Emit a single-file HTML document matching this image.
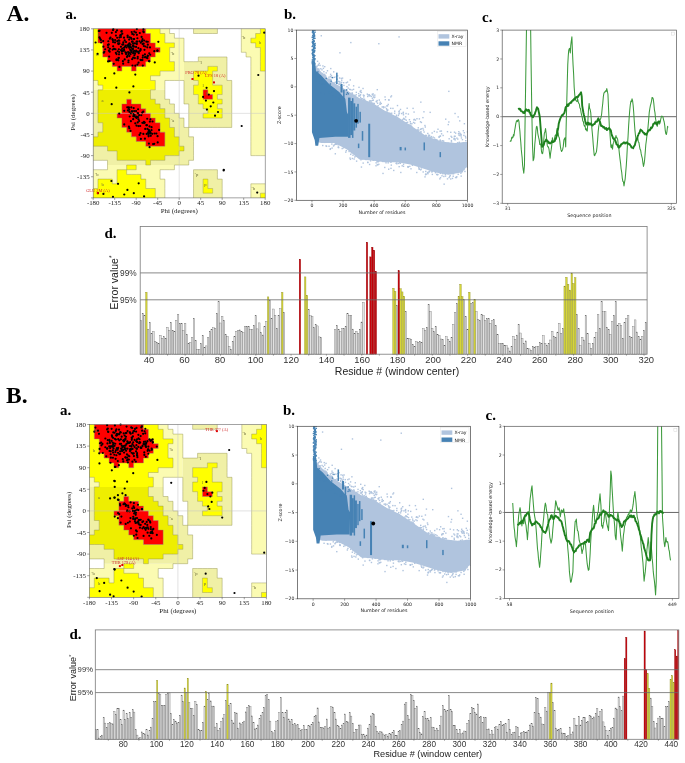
<!DOCTYPE html>
<html><head><meta charset="utf-8"><title>Figure</title>
<style>html,body{margin:0;padding:0;background:#fff;}svg{display:block;}</style>
</head><body>
<svg width="685" height="763" viewBox="0 0 685 763">
<rect width="685" height="763" fill="#fff"/>
<text x="6.5" y="21" font-family="'Liberation Serif', 'DejaVu Serif', serif" font-size="23.5" fill="#000" text-anchor="start" font-weight="bold" >A.</text>
<text x="6" y="402.8" font-family="'Liberation Serif', 'DejaVu Serif', serif" font-size="23.5" fill="#000" text-anchor="start" font-weight="bold" >B.</text>
<text x="65.5" y="19.3" font-family="'Liberation Serif', 'DejaVu Serif', serif" font-size="15" fill="#000" text-anchor="start" font-weight="bold" >a.</text>
<text x="284" y="19.3" font-family="'Liberation Serif', 'DejaVu Serif', serif" font-size="15" fill="#000" text-anchor="start" font-weight="bold" >b.</text>
<text x="482" y="22.3" font-family="'Liberation Serif', 'DejaVu Serif', serif" font-size="15" fill="#000" text-anchor="start" font-weight="bold" >c.</text>
<text x="104.5" y="238" font-family="'Liberation Serif', 'DejaVu Serif', serif" font-size="15" fill="#000" text-anchor="start" font-weight="bold" >d.</text>
<text x="60" y="414.5" font-family="'Liberation Serif', 'DejaVu Serif', serif" font-size="15" fill="#000" text-anchor="start" font-weight="bold" >a.</text>
<text x="283" y="414.5" font-family="'Liberation Serif', 'DejaVu Serif', serif" font-size="15" fill="#000" text-anchor="start" font-weight="bold" >b.</text>
<text x="485.5" y="419.5" font-family="'Liberation Serif', 'DejaVu Serif', serif" font-size="15" fill="#000" text-anchor="start" font-weight="bold" >c.</text>
<text x="69.5" y="639" font-family="'Liberation Serif', 'DejaVu Serif', serif" font-size="15" fill="#000" text-anchor="start" font-weight="bold" >d.</text>
<path d="M160.09 28.8H169.64V33.5H160.09ZM241.31 28.8H260.42V33.5H241.31ZM164.87 33.5H174.42V38.19H164.87ZM241.31 33.5H255.64V38.19H241.31ZM164.87 38.19H183.98V42.89H164.87ZM241.31 38.19H250.87V42.89H241.31ZM174.42 42.89H183.98V47.59H174.42ZM241.31 42.89H255.64V47.59H241.31ZM169.64 47.59H183.98V52.29H169.64ZM241.31 47.59H260.42V52.29H241.31ZM169.64 52.29H183.98V56.98H169.64ZM246.09 52.29H260.42V56.98H246.09ZM169.64 56.98H183.98V61.68H169.64ZM250.87 56.98H260.42V61.68H250.87ZM174.42 61.68H183.98V66.38H174.42ZM250.87 61.68H260.42V66.38H250.87ZM174.42 66.38H183.98V71.08H174.42ZM250.87 66.38H260.42V71.08H250.87ZM160.09 71.08H183.98V75.77H160.09ZM250.87 71.08H265.2V75.77H250.87ZM150.53 75.77H183.98V80.47H150.53ZM250.87 75.77H265.2V80.47H250.87ZM93.2 80.47H97.98V85.17H93.2ZM155.31 80.47H164.87V85.17H155.31ZM250.87 80.47H265.2V85.17H250.87ZM93.2 85.17H102.76V89.86H93.2ZM155.31 85.17H164.87V89.86H155.31ZM250.87 85.17H265.2V89.86H250.87ZM250.87 89.86H265.2V94.56H250.87ZM250.87 94.56H265.2V99.26H250.87ZM250.87 99.26H265.2V103.96H250.87ZM250.87 103.96H265.2V108.65H250.87ZM250.87 108.65H265.2V113.35H250.87ZM250.87 113.35H265.2V118.05H250.87ZM250.87 118.05H265.2V122.74H250.87ZM250.87 122.74H265.2V127.44H250.87ZM250.87 127.44H265.2V132.14H250.87ZM250.87 132.14H265.2V136.84H250.87ZM250.87 136.84H265.2V141.53H250.87ZM250.87 141.53H265.2V146.23H250.87ZM250.87 146.23H265.2V150.93H250.87ZM250.87 150.93H265.2V155.62H250.87ZM107.53 165.02H126.64V169.72H107.53ZM136.2 165.02H174.42V169.72H136.2ZM93.2 169.72H117.09V174.41H93.2ZM126.64 169.72H160.09V174.41H126.64ZM93.2 174.41H117.09V179.11H93.2ZM140.98 174.41H160.09V179.11H140.98ZM93.2 179.11H97.98V183.81H93.2ZM112.31 179.11H117.09V183.81H112.31ZM145.76 179.11H164.87V183.81H145.76ZM93.2 183.81H97.98V188.51H93.2ZM145.76 183.81H164.87V188.51H145.76ZM250.87 183.81H265.2V188.51H250.87ZM155.31 188.51H164.87V193.2H155.31ZM250.87 188.51H265.2V193.2H250.87ZM155.31 193.2H164.87V197.9H155.31ZM250.87 193.2H260.42V197.9H250.87Z" fill="#fbfbb2"/>
<path d="M193.53 28.8H217.42V33.5H193.53ZM198.31 56.98H226.98V61.68H198.31ZM183.98 61.68H226.98V66.38H183.98ZM183.98 66.38H207.87V71.08H183.98ZM217.42 66.38H226.98V71.08H217.42ZM183.98 71.08H193.53V75.77H183.98ZM212.64 71.08H226.98V75.77H212.64ZM183.98 75.77H193.53V80.47H183.98ZM212.64 75.77H226.98V80.47H212.64ZM183.98 80.47H198.31V85.17H183.98ZM212.64 80.47H231.76V85.17H212.64ZM183.98 85.17H193.53V89.86H183.98ZM222.2 85.17H231.76V89.86H222.2ZM93.2 89.86H97.98V94.56H93.2ZM150.53 89.86H164.87V94.56H150.53ZM183.98 89.86H193.53V94.56H183.98ZM222.2 89.86H231.76V94.56H222.2ZM93.2 94.56H97.98V99.26H93.2ZM150.53 94.56H164.87V99.26H150.53ZM183.98 94.56H198.31V99.26H183.98ZM217.42 94.56H231.76V99.26H217.42ZM93.2 99.26H97.98V103.96H93.2ZM155.31 99.26H169.64V103.96H155.31ZM183.98 99.26H198.31V103.96H183.98ZM222.2 99.26H231.76V103.96H222.2ZM93.2 103.96H97.98V108.65H93.2ZM160.09 103.96H174.42V108.65H160.09ZM188.76 103.96H203.09V108.65H188.76ZM217.42 103.96H231.76V108.65H217.42ZM93.2 108.65H97.98V113.35H93.2ZM164.87 108.65H174.42V113.35H164.87ZM188.76 108.65H207.87V113.35H188.76ZM222.2 108.65H231.76V113.35H222.2ZM93.2 113.35H97.98V118.05H93.2ZM164.87 113.35H179.2V118.05H164.87ZM188.76 113.35H203.09V118.05H188.76ZM222.2 113.35H231.76V118.05H222.2ZM93.2 118.05H97.98V122.74H93.2ZM169.64 118.05H183.98V122.74H169.64ZM188.76 118.05H231.76V122.74H188.76ZM93.2 122.74H102.76V127.44H93.2ZM169.64 122.74H183.98V127.44H169.64ZM188.76 122.74H231.76V127.44H188.76ZM93.2 127.44H102.76V132.14H93.2ZM174.42 127.44H188.76V132.14H174.42ZM93.2 132.14H97.98V136.84H93.2ZM174.42 132.14H188.76V136.84H174.42ZM179.2 136.84H193.53V141.53H179.2ZM179.2 141.53H193.53V146.23H179.2ZM93.2 146.23H107.53V150.93H93.2ZM183.98 146.23H193.53V150.93H183.98ZM93.2 150.93H117.09V155.62H93.2ZM179.2 150.93H193.53V155.62H179.2ZM93.2 155.62H117.09V160.32H93.2ZM164.87 155.62H193.53V160.32H164.87ZM107.53 160.32H145.76V165.02H107.53ZM150.53 160.32H188.76V165.02H150.53ZM193.53 169.72H217.42V174.41H193.53ZM193.53 174.41H217.42V179.11H193.53ZM193.53 179.11H203.09V183.81H193.53ZM207.87 179.11H222.2V183.81H207.87ZM193.53 183.81H203.09V188.51H193.53ZM207.87 183.81H222.2V188.51H207.87ZM193.53 188.51H203.09V193.2H193.53ZM212.64 188.51H222.2V193.2H212.64ZM193.53 193.2H222.2V197.9H193.53Z" fill="#f0f0a6"/>
<path d="M93.2 28.8H97.98V33.5H93.2ZM145.76 28.8H160.09V33.5H145.76ZM260.42 28.8H265.2V33.5H260.42ZM93.2 33.5H97.98V38.19H93.2ZM150.53 33.5H164.87V38.19H150.53ZM255.64 33.5H265.2V38.19H255.64ZM93.2 38.19H97.98V42.89H93.2ZM150.53 38.19H164.87V42.89H150.53ZM250.87 38.19H265.2V42.89H250.87ZM93.2 42.89H102.76V47.59H93.2ZM155.31 42.89H174.42V47.59H155.31ZM255.64 42.89H265.2V47.59H255.64ZM93.2 47.59H102.76V52.29H93.2ZM160.09 47.59H169.64V52.29H160.09ZM260.42 47.59H265.2V52.29H260.42ZM93.2 52.29H102.76V56.98H93.2ZM155.31 52.29H169.64V56.98H155.31ZM260.42 52.29H265.2V56.98H260.42ZM93.2 56.98H107.53V61.68H93.2ZM150.53 56.98H169.64V61.68H150.53ZM260.42 56.98H265.2V61.68H260.42ZM93.2 61.68H112.31V66.38H93.2ZM145.76 61.68H174.42V66.38H145.76ZM260.42 61.68H265.2V66.38H260.42ZM93.2 66.38H117.09V71.08H93.2ZM121.87 66.38H131.42V71.08H121.87ZM136.2 66.38H174.42V71.08H136.2ZM207.87 66.38H217.42V71.08H207.87ZM260.42 66.38H265.2V71.08H260.42ZM93.2 71.08H160.09V75.77H93.2ZM193.53 71.08H212.64V75.77H193.53ZM93.2 75.77H150.53V80.47H93.2ZM193.53 75.77H212.64V80.47H193.53ZM97.98 80.47H155.31V85.17H97.98ZM198.31 80.47H212.64V85.17H198.31ZM102.76 85.17H155.31V89.86H102.76ZM193.53 85.17H222.2V89.86H193.53ZM193.53 89.86H203.09V94.56H193.53ZM207.87 89.86H222.2V94.56H207.87ZM198.31 94.56H203.09V99.26H198.31ZM212.64 94.56H217.42V99.26H212.64ZM198.31 99.26H222.2V103.96H198.31ZM203.09 103.96H217.42V108.65H203.09ZM207.87 108.65H222.2V113.35H207.87ZM203.09 113.35H222.2V118.05H203.09ZM126.64 165.02H136.2V169.72H126.64ZM117.09 169.72H126.64V174.41H117.09ZM117.09 174.41H140.98V179.11H117.09ZM97.98 179.11H112.31V183.81H97.98ZM117.09 179.11H145.76V183.81H117.09ZM203.09 179.11H207.87V183.81H203.09ZM97.98 183.81H145.76V188.51H97.98ZM203.09 183.81H207.87V188.51H203.09ZM93.2 188.51H155.31V193.2H93.2ZM203.09 188.51H212.64V193.2H203.09ZM93.2 193.2H155.31V197.9H93.2ZM260.42 193.2H265.2V197.9H260.42Z" fill="#ffff00"/>
<path d="M97.98 89.86H150.53V94.56H97.98ZM97.98 94.56H150.53V99.26H97.98ZM97.98 99.26H126.64V103.96H97.98ZM131.42 99.26H155.31V103.96H131.42ZM97.98 103.96H121.87V108.65H97.98ZM140.98 103.96H160.09V108.65H140.98ZM97.98 108.65H121.87V113.35H97.98ZM145.76 108.65H164.87V113.35H145.76ZM97.98 113.35H117.09V118.05H97.98ZM150.53 113.35H164.87V118.05H150.53ZM97.98 118.05H121.87V122.74H97.98ZM155.31 118.05H169.64V122.74H155.31ZM102.76 122.74H121.87V127.44H102.76ZM160.09 122.74H169.64V127.44H160.09ZM102.76 127.44H126.64V132.14H102.76ZM160.09 127.44H174.42V132.14H160.09ZM97.98 132.14H131.42V136.84H97.98ZM164.87 132.14H174.42V136.84H164.87ZM93.2 136.84H136.2V141.53H93.2ZM164.87 136.84H179.2V141.53H164.87ZM93.2 141.53H145.76V146.23H93.2ZM164.87 141.53H179.2V146.23H164.87ZM107.53 146.23H183.98V150.93H107.53ZM117.09 150.93H179.2V155.62H117.09ZM117.09 155.62H164.87V160.32H117.09ZM145.76 160.32H150.53V165.02H145.76Z" fill="#eeee00"/>
<path d="M97.98 28.8H145.76V33.5H97.98ZM97.98 33.5H150.53V38.19H97.98ZM97.98 38.19H150.53V42.89H97.98ZM102.76 42.89H155.31V47.59H102.76ZM102.76 47.59H160.09V52.29H102.76ZM102.76 52.29H155.31V56.98H102.76ZM107.53 56.98H150.53V61.68H107.53ZM112.31 61.68H145.76V66.38H112.31ZM117.09 66.38H121.87V71.08H117.09ZM131.42 66.38H136.2V71.08H131.42ZM203.09 89.86H207.87V94.56H203.09ZM203.09 94.56H212.64V99.26H203.09ZM126.64 99.26H131.42V103.96H126.64ZM121.87 103.96H140.98V108.65H121.87ZM121.87 108.65H145.76V113.35H121.87ZM117.09 113.35H150.53V118.05H117.09ZM121.87 118.05H155.31V122.74H121.87ZM121.87 122.74H160.09V127.44H121.87ZM126.64 127.44H160.09V132.14H126.64ZM131.42 132.14H164.87V136.84H131.42ZM136.2 136.84H164.87V141.53H136.2ZM145.76 141.53H164.87V146.23H145.76Z" fill="#ff0000"/>
<path d="M97.98 28.8L97.98 33.5M145.76 28.8L145.76 33.5M145.76 33.5L150.53 33.5M160.09 28.8L160.09 33.5M160.09 33.5L164.87 33.5M169.64 28.8L169.64 33.5M169.64 33.5L174.42 33.5M193.53 28.8L193.53 33.5M193.53 33.5L198.31 33.5M198.31 33.5L203.09 33.5M203.09 33.5L207.87 33.5M207.87 33.5L212.64 33.5M217.42 28.8L217.42 33.5M212.64 33.5L217.42 33.5M241.31 28.8L241.31 33.5M260.42 28.8L260.42 33.5M255.64 33.5L260.42 33.5M97.98 33.5L97.98 38.19M150.53 33.5L150.53 38.19M164.87 33.5L164.87 38.19M174.42 33.5L174.42 38.19M174.42 38.19L179.2 38.19M179.2 38.19L183.98 38.19M241.31 33.5L241.31 38.19M255.64 33.5L255.64 38.19M250.87 38.19L255.64 38.19M97.98 38.19L97.98 42.89M97.98 42.89L102.76 42.89M150.53 38.19L150.53 42.89M150.53 42.89L155.31 42.89M164.87 38.19L164.87 42.89M164.87 42.89L169.64 42.89M169.64 42.89L174.42 42.89M183.98 38.19L183.98 42.89M241.31 38.19L241.31 42.89M250.87 38.19L250.87 42.89M250.87 42.89L255.64 42.89M102.76 42.89L102.76 47.59M155.31 42.89L155.31 47.59M155.31 47.59L160.09 47.59M174.42 42.89L174.42 47.59M169.64 47.59L174.42 47.59M183.98 42.89L183.98 47.59M241.31 42.89L241.31 47.59M255.64 42.89L255.64 47.59M255.64 47.59L260.42 47.59M102.76 47.59L102.76 52.29M160.09 47.59L160.09 52.29M155.31 52.29L160.09 52.29M169.64 47.59L169.64 52.29M183.98 47.59L183.98 52.29M241.31 47.59L241.31 52.29M241.31 52.29L246.09 52.29M260.42 47.59L260.42 52.29M102.76 52.29L102.76 56.98M102.76 56.98L107.53 56.98M155.31 52.29L155.31 56.98M150.53 56.98L155.31 56.98M169.64 52.29L169.64 56.98M183.98 52.29L183.98 56.98M198.31 56.98L203.09 56.98M203.09 56.98L207.87 56.98M207.87 56.98L212.64 56.98M212.64 56.98L217.42 56.98M217.42 56.98L222.2 56.98M222.2 56.98L226.98 56.98M246.09 52.29L246.09 56.98M246.09 56.98L250.87 56.98M260.42 52.29L260.42 56.98M107.53 56.98L107.53 61.68M107.53 61.68L112.31 61.68M150.53 56.98L150.53 61.68M145.76 61.68L150.53 61.68M169.64 56.98L169.64 61.68M169.64 61.68L174.42 61.68M183.98 56.98L183.98 61.68M183.98 61.68L188.76 61.68M188.76 61.68L193.53 61.68M198.31 56.98L198.31 61.68M193.53 61.68L198.31 61.68M226.98 56.98L226.98 61.68M250.87 56.98L250.87 61.68M260.42 56.98L260.42 61.68M112.31 61.68L112.31 66.38M112.31 66.38L117.09 66.38M121.87 66.38L126.64 66.38M126.64 66.38L131.42 66.38M136.2 66.38L140.98 66.38M145.76 61.68L145.76 66.38M140.98 66.38L145.76 66.38M174.42 61.68L174.42 66.38M207.87 66.38L212.64 66.38M212.64 66.38L217.42 66.38M226.98 61.68L226.98 66.38M250.87 61.68L250.87 66.38M260.42 61.68L260.42 66.38M117.09 66.38L117.09 71.08M121.87 66.38L121.87 71.08M117.09 71.08L121.87 71.08M131.42 66.38L131.42 71.08M136.2 66.38L136.2 71.08M131.42 71.08L136.2 71.08M160.09 71.08L164.87 71.08M164.87 71.08L169.64 71.08M174.42 66.38L174.42 71.08M169.64 71.08L174.42 71.08M193.53 71.08L198.31 71.08M198.31 71.08L203.09 71.08M207.87 66.38L207.87 71.08M203.09 71.08L207.87 71.08M217.42 66.38L217.42 71.08M212.64 71.08L217.42 71.08M226.98 66.38L226.98 71.08M250.87 66.38L250.87 71.08M260.42 66.38L260.42 71.08M260.42 71.08L265.2 71.08M150.53 75.77L155.31 75.77M160.09 71.08L160.09 75.77M155.31 75.77L160.09 75.77M193.53 71.08L193.53 75.77M212.64 71.08L212.64 75.77M226.98 71.08L226.98 75.77M250.87 71.08L250.87 75.77M93.2 80.47L97.98 80.47M150.53 75.77L150.53 80.47M150.53 80.47L155.31 80.47M164.87 80.47L169.64 80.47M169.64 80.47L174.42 80.47M174.42 80.47L179.2 80.47M179.2 80.47L183.98 80.47M193.53 75.77L193.53 80.47M193.53 80.47L198.31 80.47M212.64 75.77L212.64 80.47M226.98 75.77L226.98 80.47M226.98 80.47L231.76 80.47M250.87 75.77L250.87 80.47M97.98 80.47L97.98 85.17M97.98 85.17L102.76 85.17M155.31 80.47L155.31 85.17M164.87 80.47L164.87 85.17M183.98 80.47L183.98 85.17M198.31 80.47L198.31 85.17M193.53 85.17L198.31 85.17M212.64 80.47L212.64 85.17M212.64 85.17L217.42 85.17M217.42 85.17L222.2 85.17M231.76 80.47L231.76 85.17M250.87 80.47L250.87 85.17M102.76 85.17L102.76 89.86M97.98 89.86L102.76 89.86M155.31 85.17L155.31 89.86M150.53 89.86L155.31 89.86M164.87 85.17L164.87 89.86M183.98 85.17L183.98 89.86M193.53 85.17L193.53 89.86M203.09 89.86L207.87 89.86M222.2 85.17L222.2 89.86M231.76 85.17L231.76 89.86M250.87 85.17L250.87 89.86M97.98 89.86L97.98 94.56M150.53 89.86L150.53 94.56M164.87 89.86L164.87 94.56M183.98 89.86L183.98 94.56M193.53 89.86L193.53 94.56M193.53 94.56L198.31 94.56M203.09 89.86L203.09 94.56M207.87 89.86L207.87 94.56M207.87 94.56L212.64 94.56M222.2 89.86L222.2 94.56M217.42 94.56L222.2 94.56M231.76 89.86L231.76 94.56M250.87 89.86L250.87 94.56M97.98 94.56L97.98 99.26M126.64 99.26L131.42 99.26M150.53 94.56L150.53 99.26M150.53 99.26L155.31 99.26M164.87 94.56L164.87 99.26M164.87 99.26L169.64 99.26M183.98 94.56L183.98 99.26M198.31 94.56L198.31 99.26M203.09 94.56L203.09 99.26M203.09 99.26L207.87 99.26M212.64 94.56L212.64 99.26M207.87 99.26L212.64 99.26M217.42 94.56L217.42 99.26M217.42 99.26L222.2 99.26M231.76 94.56L231.76 99.26M250.87 94.56L250.87 99.26M97.98 99.26L97.98 103.96M126.64 99.26L126.64 103.96M121.87 103.96L126.64 103.96M131.42 99.26L131.42 103.96M131.42 103.96L136.2 103.96M136.2 103.96L140.98 103.96M155.31 99.26L155.31 103.96M155.31 103.96L160.09 103.96M169.64 99.26L169.64 103.96M169.64 103.96L174.42 103.96M183.98 99.26L183.98 103.96M183.98 103.96L188.76 103.96M198.31 99.26L198.31 103.96M198.31 103.96L203.09 103.96M222.2 99.26L222.2 103.96M217.42 103.96L222.2 103.96M231.76 99.26L231.76 103.96M250.87 99.26L250.87 103.96M97.98 103.96L97.98 108.65M121.87 103.96L121.87 108.65M140.98 103.96L140.98 108.65M140.98 108.65L145.76 108.65M160.09 103.96L160.09 108.65M160.09 108.65L164.87 108.65M174.42 103.96L174.42 108.65M188.76 103.96L188.76 108.65M203.09 103.96L203.09 108.65M203.09 108.65L207.87 108.65M217.42 103.96L217.42 108.65M217.42 108.65L222.2 108.65M231.76 103.96L231.76 108.65M250.87 103.96L250.87 108.65M97.98 108.65L97.98 113.35M121.87 108.65L121.87 113.35M117.09 113.35L121.87 113.35M145.76 108.65L145.76 113.35M145.76 113.35L150.53 113.35M164.87 108.65L164.87 113.35M174.42 108.65L174.42 113.35M174.42 113.35L179.2 113.35M188.76 108.65L188.76 113.35M207.87 108.65L207.87 113.35M203.09 113.35L207.87 113.35M222.2 108.65L222.2 113.35M231.76 108.65L231.76 113.35M250.87 108.65L250.87 113.35M97.98 113.35L97.98 118.05M117.09 113.35L117.09 118.05M117.09 118.05L121.87 118.05M150.53 113.35L150.53 118.05M150.53 118.05L155.31 118.05M164.87 113.35L164.87 118.05M164.87 118.05L169.64 118.05M179.2 113.35L179.2 118.05M179.2 118.05L183.98 118.05M188.76 113.35L188.76 118.05M203.09 113.35L203.09 118.05M203.09 118.05L207.87 118.05M207.87 118.05L212.64 118.05M212.64 118.05L217.42 118.05M222.2 113.35L222.2 118.05M217.42 118.05L222.2 118.05M231.76 113.35L231.76 118.05M250.87 113.35L250.87 118.05M97.98 118.05L97.98 122.74M97.98 122.74L102.76 122.74M121.87 118.05L121.87 122.74M155.31 118.05L155.31 122.74M155.31 122.74L160.09 122.74M169.64 118.05L169.64 122.74M183.98 118.05L183.98 122.74M188.76 118.05L188.76 122.74M231.76 118.05L231.76 122.74M250.87 118.05L250.87 122.74M102.76 122.74L102.76 127.44M121.87 122.74L121.87 127.44M121.87 127.44L126.64 127.44M160.09 122.74L160.09 127.44M169.64 122.74L169.64 127.44M169.64 127.44L174.42 127.44M183.98 122.74L183.98 127.44M188.76 122.74L188.76 127.44M183.98 127.44L188.76 127.44M188.76 127.44L193.53 127.44M193.53 127.44L198.31 127.44M198.31 127.44L203.09 127.44M203.09 127.44L207.87 127.44M207.87 127.44L212.64 127.44M212.64 127.44L217.42 127.44M217.42 127.44L222.2 127.44M222.2 127.44L226.98 127.44M231.76 122.74L231.76 127.44M226.98 127.44L231.76 127.44M250.87 122.74L250.87 127.44M102.76 127.44L102.76 132.14M97.98 132.14L102.76 132.14M126.64 127.44L126.64 132.14M126.64 132.14L131.42 132.14M160.09 127.44L160.09 132.14M160.09 132.14L164.87 132.14M174.42 127.44L174.42 132.14M188.76 127.44L188.76 132.14M250.87 127.44L250.87 132.14M97.98 132.14L97.98 136.84M93.2 136.84L97.98 136.84M131.42 132.14L131.42 136.84M131.42 136.84L136.2 136.84M164.87 132.14L164.87 136.84M174.42 132.14L174.42 136.84M174.42 136.84L179.2 136.84M188.76 132.14L188.76 136.84M188.76 136.84L193.53 136.84M250.87 132.14L250.87 136.84M136.2 136.84L136.2 141.53M136.2 141.53L140.98 141.53M140.98 141.53L145.76 141.53M164.87 136.84L164.87 141.53M179.2 136.84L179.2 141.53M193.53 136.84L193.53 141.53M250.87 136.84L250.87 141.53M93.2 146.23L97.98 146.23M97.98 146.23L102.76 146.23M102.76 146.23L107.53 146.23M145.76 141.53L145.76 146.23M145.76 146.23L150.53 146.23M150.53 146.23L155.31 146.23M155.31 146.23L160.09 146.23M164.87 141.53L164.87 146.23M160.09 146.23L164.87 146.23M179.2 141.53L179.2 146.23M179.2 146.23L183.98 146.23M193.53 141.53L193.53 146.23M250.87 141.53L250.87 146.23M107.53 146.23L107.53 150.93M107.53 150.93L112.31 150.93M112.31 150.93L117.09 150.93M183.98 146.23L183.98 150.93M179.2 150.93L183.98 150.93M193.53 146.23L193.53 150.93M250.87 146.23L250.87 150.93M117.09 150.93L117.09 155.62M164.87 155.62L169.64 155.62M169.64 155.62L174.42 155.62M179.2 150.93L179.2 155.62M174.42 155.62L179.2 155.62M193.53 150.93L193.53 155.62M250.87 150.93L250.87 155.62M250.87 155.62L255.64 155.62M255.64 155.62L260.42 155.62M260.42 155.62L265.2 155.62M93.2 160.32L97.98 160.32M97.98 160.32L102.76 160.32M102.76 160.32L107.53 160.32M117.09 155.62L117.09 160.32M117.09 160.32L121.87 160.32M121.87 160.32L126.64 160.32M126.64 160.32L131.42 160.32M131.42 160.32L136.2 160.32M136.2 160.32L140.98 160.32M140.98 160.32L145.76 160.32M150.53 160.32L155.31 160.32M155.31 160.32L160.09 160.32M164.87 155.62L164.87 160.32M160.09 160.32L164.87 160.32M193.53 155.62L193.53 160.32M188.76 160.32L193.53 160.32M107.53 160.32L107.53 165.02M126.64 165.02L131.42 165.02M131.42 165.02L136.2 165.02M145.76 160.32L145.76 165.02M150.53 160.32L150.53 165.02M145.76 165.02L150.53 165.02M174.42 165.02L179.2 165.02M179.2 165.02L183.98 165.02M188.76 160.32L188.76 165.02M183.98 165.02L188.76 165.02M93.2 169.72L97.98 169.72M97.98 169.72L102.76 169.72M107.53 165.02L107.53 169.72M102.76 169.72L107.53 169.72M117.09 169.72L121.87 169.72M126.64 165.02L126.64 169.72M121.87 169.72L126.64 169.72M126.64 169.72L131.42 169.72M136.2 165.02L136.2 169.72M131.42 169.72L136.2 169.72M160.09 169.72L164.87 169.72M164.87 169.72L169.64 169.72M174.42 165.02L174.42 169.72M169.64 169.72L174.42 169.72M193.53 169.72L198.31 169.72M198.31 169.72L203.09 169.72M203.09 169.72L207.87 169.72M207.87 169.72L212.64 169.72M212.64 169.72L217.42 169.72M117.09 169.72L117.09 174.41M126.64 169.72L126.64 174.41M126.64 174.41L131.42 174.41M131.42 174.41L136.2 174.41M136.2 174.41L140.98 174.41M160.09 169.72L160.09 174.41M193.53 169.72L193.53 174.41M217.42 169.72L217.42 174.41M97.98 179.11L102.76 179.11M102.76 179.11L107.53 179.11M107.53 179.11L112.31 179.11M117.09 174.41L117.09 179.11M140.98 174.41L140.98 179.11M140.98 179.11L145.76 179.11M160.09 174.41L160.09 179.11M160.09 179.11L164.87 179.11M193.53 174.41L193.53 179.11M203.09 179.11L207.87 179.11M217.42 174.41L217.42 179.11M217.42 179.11L222.2 179.11M97.98 179.11L97.98 183.81M112.31 179.11L112.31 183.81M117.09 179.11L117.09 183.81M112.31 183.81L117.09 183.81M145.76 179.11L145.76 183.81M164.87 179.11L164.87 183.81M193.53 179.11L193.53 183.81M203.09 179.11L203.09 183.81M207.87 179.11L207.87 183.81M222.2 179.11L222.2 183.81M250.87 183.81L255.64 183.81M255.64 183.81L260.42 183.81M260.42 183.81L265.2 183.81M97.98 183.81L97.98 188.51M93.2 188.51L97.98 188.51M145.76 183.81L145.76 188.51M145.76 188.51L150.53 188.51M150.53 188.51L155.31 188.51M164.87 183.81L164.87 188.51M193.53 183.81L193.53 188.51M203.09 183.81L203.09 188.51M207.87 183.81L207.87 188.51M207.87 188.51L212.64 188.51M222.2 183.81L222.2 188.51M250.87 183.81L250.87 188.51M155.31 188.51L155.31 193.2M164.87 188.51L164.87 193.2M193.53 188.51L193.53 193.2M203.09 188.51L203.09 193.2M203.09 193.2L207.87 193.2M212.64 188.51L212.64 193.2M207.87 193.2L212.64 193.2M222.2 188.51L222.2 193.2M250.87 188.51L250.87 193.2M260.42 193.2L265.2 193.2M155.31 193.2L155.31 197.9M164.87 193.2L164.87 197.9M193.53 193.2L193.53 197.9M222.2 193.2L222.2 197.9M250.87 193.2L250.87 197.9M260.42 193.2L260.42 197.9" stroke="#8e8e48" stroke-width="0.5" fill="none" opacity="0.85"/>
<line x1="179.2" y1="28.8" x2="179.2" y2="197.9" stroke="#c4c4c4" stroke-width="0.5"/>
<line x1="93.2" y1="113.35" x2="265.2" y2="113.35" stroke="#c4c4c4" stroke-width="0.5"/>
<g fill="#000"><circle cx="131.69" cy="32" r="1.1"/><circle cx="128.34" cy="46.24" r="1.1"/><circle cx="128.61" cy="44.45" r="1.1"/><circle cx="136.45" cy="43.58" r="1.1"/><circle cx="147.81" cy="41.76" r="1.1"/><circle cx="130.04" cy="46.36" r="1.1"/><circle cx="125.51" cy="52.45" r="1.1"/><circle cx="114.11" cy="49.04" r="1.1"/><circle cx="138.32" cy="51.74" r="1.1"/><circle cx="126.01" cy="41.99" r="1.1"/><circle cx="100.12" cy="38.68" r="1.1"/><circle cx="150.19" cy="54.74" r="1.1"/><circle cx="129.23" cy="47.82" r="1.1"/><circle cx="154.3" cy="51.21" r="1.1"/><circle cx="125.76" cy="45.61" r="1.1"/><circle cx="130.52" cy="54.19" r="1.1"/><circle cx="117.04" cy="30.32" r="1.1"/><circle cx="134.86" cy="43.29" r="1.1"/><circle cx="99.45" cy="37.38" r="1.1"/><circle cx="131.66" cy="52.16" r="1.1"/><circle cx="142.8" cy="65.54" r="1.1"/><circle cx="137.2" cy="41.68" r="1.1"/><circle cx="112.99" cy="30.03" r="1.1"/><circle cx="121.74" cy="31.02" r="1.1"/><circle cx="121.02" cy="34.96" r="1.1"/><circle cx="145.43" cy="57.17" r="1.1"/><circle cx="134.37" cy="55.36" r="1.1"/><circle cx="157.45" cy="50.63" r="1.1"/><circle cx="133.5" cy="51.58" r="1.1"/><circle cx="143.28" cy="31.32" r="1.1"/><circle cx="141.03" cy="60.21" r="1.1"/><circle cx="121.83" cy="51.6" r="1.1"/><circle cx="137.74" cy="56.93" r="1.1"/><circle cx="154.76" cy="62.45" r="1.1"/><circle cx="132.49" cy="65.51" r="1.1"/><circle cx="124.05" cy="49.94" r="1.1"/><circle cx="143.85" cy="45.99" r="1.1"/><circle cx="142.71" cy="57.59" r="1.1"/><circle cx="140.79" cy="42.75" r="1.1"/><circle cx="142.95" cy="55.7" r="1.1"/><circle cx="135.3" cy="65.67" r="1.1"/><circle cx="139.78" cy="32.99" r="1.1"/><circle cx="112.91" cy="40.15" r="1.1"/><circle cx="115.83" cy="52.82" r="1.1"/><circle cx="133.17" cy="45.34" r="1.1"/><circle cx="136.83" cy="29.08" r="1.1"/><circle cx="127.61" cy="55.9" r="1.1"/><circle cx="119.14" cy="52.03" r="1.1"/><circle cx="144.17" cy="40.51" r="1.1"/><circle cx="134.37" cy="50.74" r="1.1"/><circle cx="140.63" cy="50.05" r="1.1"/><circle cx="136.13" cy="50.7" r="1.1"/><circle cx="115.01" cy="42.41" r="1.1"/><circle cx="106.53" cy="32.79" r="1.1"/><circle cx="108.33" cy="41.23" r="1.1"/><circle cx="138.54" cy="62.68" r="1.1"/><circle cx="133.2" cy="57.7" r="1.1"/><circle cx="127.61" cy="35.69" r="1.1"/><circle cx="124.66" cy="59.44" r="1.1"/><circle cx="122.29" cy="44.62" r="1.1"/><circle cx="115.93" cy="35.6" r="1.1"/><circle cx="125.08" cy="46.61" r="1.1"/><circle cx="122.29" cy="33.63" r="1.1"/><circle cx="104.35" cy="51.85" r="1.1"/><circle cx="149.1" cy="61.04" r="1.1"/><circle cx="118.31" cy="60.28" r="1.1"/><circle cx="126.23" cy="52.76" r="1.1"/><circle cx="132.65" cy="41.5" r="1.1"/><circle cx="140.57" cy="49.07" r="1.1"/><circle cx="129.44" cy="56.04" r="1.1"/><circle cx="132.77" cy="49.6" r="1.1"/><circle cx="128.08" cy="51.98" r="1.1"/><circle cx="135.94" cy="32.61" r="1.1"/><circle cx="132.28" cy="33.9" r="1.1"/><circle cx="140.05" cy="50.83" r="1.1"/><circle cx="133.74" cy="34.6" r="1.1"/><circle cx="118.51" cy="58.04" r="1.1"/><circle cx="146.59" cy="57.53" r="1.1"/><circle cx="135.03" cy="53.75" r="1.1"/><circle cx="124.03" cy="47.81" r="1.1"/><circle cx="126.52" cy="47.43" r="1.1"/><circle cx="146.38" cy="41.65" r="1.1"/><circle cx="117.2" cy="37.77" r="1.1"/><circle cx="105.18" cy="49.24" r="1.1"/><circle cx="137.64" cy="58.51" r="1.1"/><circle cx="103.4" cy="46.63" r="1.1"/><circle cx="109.87" cy="48.81" r="1.1"/><circle cx="142.6" cy="44.07" r="1.1"/><circle cx="150" cy="47.4" r="1.1"/><circle cx="120.18" cy="35.34" r="1.1"/><circle cx="134.35" cy="31.66" r="1.1"/><circle cx="115.48" cy="49.26" r="1.1"/><circle cx="130.15" cy="49.8" r="1.1"/><circle cx="147.26" cy="47.28" r="1.1"/><circle cx="103.78" cy="52.74" r="1.1"/><circle cx="138.73" cy="53.22" r="1.1"/><circle cx="107.94" cy="44.95" r="1.1"/><circle cx="141.59" cy="36.91" r="1.1"/><circle cx="108.11" cy="61.47" r="1.1"/><circle cx="124.72" cy="40.46" r="1.1"/><circle cx="142.5" cy="39.2" r="1.1"/><circle cx="128.51" cy="60.48" r="1.1"/><circle cx="129.8" cy="52.61" r="1.1"/><circle cx="122.25" cy="48.7" r="1.1"/><circle cx="108.76" cy="44.39" r="1.1"/><circle cx="108.87" cy="50.64" r="1.1"/><circle cx="133.79" cy="52.41" r="1.1"/><circle cx="137.45" cy="64.54" r="1.1"/><circle cx="115.91" cy="32.07" r="1.1"/><circle cx="142.45" cy="60.1" r="1.1"/><circle cx="149.26" cy="53.25" r="1.1"/><circle cx="136.53" cy="41.48" r="1.1"/><circle cx="136.03" cy="46.96" r="1.1"/><circle cx="144.49" cy="49.82" r="1.1"/><circle cx="130.54" cy="44.59" r="1.1"/><circle cx="133.1" cy="43.29" r="1.1"/><circle cx="99.58" cy="30.85" r="1.1"/><circle cx="144.91" cy="57.26" r="1.1"/><circle cx="128.82" cy="52.89" r="1.1"/><circle cx="145.31" cy="46.5" r="1.1"/><circle cx="133.87" cy="39.14" r="1.1"/><circle cx="123.3" cy="44.47" r="1.1"/><circle cx="123.17" cy="63.7" r="1.1"/><circle cx="117.3" cy="41.13" r="1.1"/><circle cx="128.4" cy="62.25" r="1.1"/><circle cx="110.47" cy="37.53" r="1.1"/><circle cx="122.93" cy="61.17" r="1.1"/><circle cx="115.07" cy="40.03" r="1.1"/><circle cx="117.63" cy="51.25" r="1.1"/><circle cx="118.53" cy="44.07" r="1.1"/><circle cx="120.94" cy="37.02" r="1.1"/><circle cx="118.81" cy="49.32" r="1.1"/><circle cx="118.8" cy="57.83" r="1.1"/><circle cx="131.27" cy="47.82" r="1.1"/><circle cx="128.46" cy="54.08" r="1.1"/><circle cx="111.77" cy="32.79" r="1.1"/><circle cx="116.65" cy="59.33" r="1.1"/><circle cx="134.13" cy="38.98" r="1.1"/><circle cx="127.55" cy="45.24" r="1.1"/><circle cx="123.31" cy="42.4" r="1.1"/><circle cx="121.07" cy="50.16" r="1.1"/><circle cx="128.53" cy="46.23" r="1.1"/><circle cx="132.89" cy="48.72" r="1.1"/><circle cx="118.21" cy="43.46" r="1.1"/><circle cx="129.54" cy="37.3" r="1.1"/><circle cx="127.02" cy="56.95" r="1.1"/><circle cx="134.85" cy="58.1" r="1.1"/><circle cx="135.85" cy="51.81" r="1.1"/><circle cx="138.67" cy="51.82" r="1.1"/><circle cx="133.14" cy="53.34" r="1.1"/><circle cx="129.41" cy="43.44" r="1.1"/><circle cx="132.18" cy="59.16" r="1.1"/><circle cx="113.1" cy="42.11" r="1.1"/><circle cx="116.55" cy="54.11" r="1.1"/><circle cx="131.97" cy="41.64" r="1.1"/><circle cx="147.67" cy="56.36" r="1.1"/><circle cx="139.53" cy="41.25" r="1.1"/><circle cx="101.16" cy="42.49" r="1.1"/><circle cx="122.13" cy="53.58" r="1.1"/><circle cx="109.17" cy="56.55" r="1.1"/><circle cx="131.22" cy="50.41" r="1.1"/><circle cx="147.78" cy="44.71" r="1.1"/><circle cx="131.57" cy="38.94" r="1.1"/><circle cx="147.83" cy="55.48" r="1.1"/><circle cx="138.34" cy="48.1" r="1.1"/><circle cx="143.71" cy="32.15" r="1.1"/><circle cx="119.41" cy="66.97" r="1.1"/><circle cx="132.89" cy="45.92" r="1.1"/><circle cx="113.12" cy="46.37" r="1.1"/><circle cx="136.83" cy="44.05" r="1.1"/><circle cx="126.08" cy="54.06" r="1.1"/><circle cx="118.67" cy="40.38" r="1.1"/><circle cx="103.16" cy="41.09" r="1.1"/><circle cx="147.39" cy="58.19" r="1.1"/><circle cx="121.36" cy="31.56" r="1.1"/><circle cx="129.14" cy="39.58" r="1.1"/><circle cx="119.02" cy="54.35" r="1.1"/><circle cx="108.16" cy="47.24" r="1.1"/><circle cx="109.68" cy="51.64" r="1.1"/><circle cx="136.92" cy="34.82" r="1.1"/><circle cx="128.6" cy="45.83" r="1.1"/><circle cx="130.69" cy="47.09" r="1.1"/><circle cx="117.99" cy="60.01" r="1.1"/><circle cx="130.86" cy="37.76" r="1.1"/><circle cx="100.86" cy="39.92" r="1.1"/><circle cx="141.88" cy="41.51" r="1.1"/><circle cx="143.69" cy="43.64" r="1.1"/><circle cx="109.81" cy="38.72" r="1.1"/><circle cx="144.91" cy="54.4" r="1.1"/><circle cx="142.09" cy="41.14" r="1.1"/><circle cx="112.39" cy="39.16" r="1.1"/><circle cx="140.56" cy="59.77" r="1.1"/><circle cx="149.27" cy="61.29" r="1.1"/><circle cx="112.68" cy="49.58" r="1.1"/><circle cx="119.36" cy="43.41" r="1.1"/><circle cx="143.4" cy="29.18" r="1.1"/><circle cx="137.38" cy="38.27" r="1.1"/><circle cx="133.94" cy="46.67" r="1.1"/><circle cx="109.61" cy="61.12" r="1.1"/><circle cx="122.84" cy="50.97" r="1.1"/><circle cx="113.72" cy="63.78" r="1.1"/><circle cx="124.02" cy="37.72" r="1.1"/><circle cx="120.94" cy="46.74" r="1.1"/><circle cx="137.29" cy="51.56" r="1.1"/><circle cx="157.32" cy="50.67" r="1.1"/><circle cx="98.79" cy="31.02" r="1.1"/><circle cx="119.38" cy="40.74" r="1.1"/><circle cx="113.3" cy="29.21" r="1.1"/><circle cx="129.15" cy="46.34" r="1.1"/><circle cx="119.55" cy="37.39" r="1.1"/><circle cx="124.2" cy="50.65" r="1.1"/><circle cx="116.35" cy="60.11" r="1.1"/><circle cx="114.15" cy="48.81" r="1.1"/><circle cx="127.69" cy="37.19" r="1.1"/><circle cx="130.94" cy="50.74" r="1.1"/><circle cx="148.93" cy="143.56" r="1.1"/><circle cx="139.13" cy="121" r="1.1"/><circle cx="132.11" cy="111.4" r="1.1"/><circle cx="147.21" cy="118.77" r="1.1"/><circle cx="148.87" cy="129.99" r="1.1"/><circle cx="128.77" cy="107.89" r="1.1"/><circle cx="149.59" cy="131.43" r="1.1"/><circle cx="148.62" cy="136.31" r="1.1"/><circle cx="152.52" cy="121.52" r="1.1"/><circle cx="133.32" cy="116.19" r="1.1"/><circle cx="140.49" cy="133.17" r="1.1"/><circle cx="133.44" cy="114.13" r="1.1"/><circle cx="124.25" cy="110.79" r="1.1"/><circle cx="154.21" cy="143.81" r="1.1"/><circle cx="119.21" cy="113.56" r="1.1"/><circle cx="129.29" cy="109.75" r="1.1"/><circle cx="131.31" cy="107.46" r="1.1"/><circle cx="139.14" cy="115.14" r="1.1"/><circle cx="147.46" cy="128.88" r="1.1"/><circle cx="146.69" cy="133.95" r="1.1"/><circle cx="130.52" cy="130.9" r="1.1"/><circle cx="128.86" cy="107.44" r="1.1"/><circle cx="148.3" cy="132.15" r="1.1"/><circle cx="148.24" cy="133.45" r="1.1"/><circle cx="130.89" cy="121.21" r="1.1"/><circle cx="148.84" cy="130.37" r="1.1"/><circle cx="146.37" cy="125.16" r="1.1"/><circle cx="142.24" cy="112.56" r="1.1"/><circle cx="159.09" cy="129.92" r="1.1"/><circle cx="140.16" cy="125.98" r="1.1"/><circle cx="149.86" cy="121.57" r="1.1"/><circle cx="157.56" cy="136.13" r="1.1"/><circle cx="151.56" cy="127.22" r="1.1"/><circle cx="144.8" cy="122.61" r="1.1"/><circle cx="135.28" cy="123.29" r="1.1"/><circle cx="124.23" cy="124.4" r="1.1"/><circle cx="133.16" cy="119.15" r="1.1"/><circle cx="139.53" cy="134.96" r="1.1"/><circle cx="138.47" cy="119.29" r="1.1"/><circle cx="137.63" cy="113.04" r="1.1"/><circle cx="134.36" cy="116.35" r="1.1"/><circle cx="148.57" cy="133.24" r="1.1"/><circle cx="152.15" cy="133.85" r="1.1"/><circle cx="144.01" cy="123.12" r="1.1"/><circle cx="146.9" cy="125.16" r="1.1"/><circle cx="129.33" cy="128.14" r="1.1"/><circle cx="145.23" cy="128.96" r="1.1"/><circle cx="150.37" cy="119.29" r="1.1"/><circle cx="131.85" cy="111.43" r="1.1"/><circle cx="154.57" cy="133.5" r="1.1"/><circle cx="137.98" cy="117.08" r="1.1"/><circle cx="136.66" cy="116.57" r="1.1"/><circle cx="144.91" cy="138.68" r="1.1"/><circle cx="150.2" cy="133.57" r="1.1"/><circle cx="150.56" cy="132.79" r="1.1"/><circle cx="129.38" cy="111.87" r="1.1"/><circle cx="136.46" cy="125.6" r="1.1"/><circle cx="133.69" cy="108.05" r="1.1"/><circle cx="136.59" cy="117.92" r="1.1"/><circle cx="137.73" cy="122.42" r="1.1"/><circle cx="143.35" cy="133.88" r="1.1"/><circle cx="153.08" cy="144.08" r="1.1"/><circle cx="150.8" cy="135.87" r="1.1"/><circle cx="140.89" cy="138.95" r="1.1"/><circle cx="156.35" cy="133.48" r="1.1"/><circle cx="143.97" cy="121.81" r="1.1"/><circle cx="141.26" cy="115.25" r="1.1"/><circle cx="148.55" cy="134.99" r="1.1"/><circle cx="134.66" cy="115.06" r="1.1"/><circle cx="130.93" cy="113.34" r="1.1"/><circle cx="149.5" cy="126.38" r="1.1"/><circle cx="142.42" cy="122.8" r="1.1"/><circle cx="143.22" cy="111.65" r="1.1"/><circle cx="151.49" cy="130.2" r="1.1"/><circle cx="138.4" cy="126.12" r="1.1"/><circle cx="127.26" cy="107.32" r="1.1"/><circle cx="138.12" cy="113.25" r="1.1"/><circle cx="129.72" cy="116.48" r="1.1"/><circle cx="135.95" cy="117.17" r="1.1"/><circle cx="134.15" cy="111.09" r="1.1"/><circle cx="150.18" cy="132.17" r="1.1"/><circle cx="138.09" cy="109.25" r="1.1"/><circle cx="127.93" cy="110.4" r="1.1"/><circle cx="128.94" cy="126.65" r="1.1"/><circle cx="136.04" cy="111.05" r="1.1"/><circle cx="114.32" cy="73.42" r="1.1"/><circle cx="135.29" cy="74.6" r="1.1"/><circle cx="116.32" cy="87.7" r="1.1"/><circle cx="133.38" cy="86.39" r="1.1"/><circle cx="129.42" cy="92.4" r="1.1"/><circle cx="111.69" cy="104.19" r="1.1"/><circle cx="158.32" cy="41.81" r="1.1"/><circle cx="97.6" cy="53.88" r="1.1"/><circle cx="95.59" cy="42.52" r="1.1"/><circle cx="105.14" cy="78.12" r="1.1"/><circle cx="111.4" cy="180.99" r="1.1"/><circle cx="127.41" cy="189.91" r="1.1"/><circle cx="138.68" cy="183.34" r="1.1"/><circle cx="103.42" cy="193.91" r="1.1"/><circle cx="124.26" cy="194.52" r="1.1"/><circle cx="144.08" cy="196.4" r="1.1"/><circle cx="112.98" cy="196.96" r="1.1"/><circle cx="97.98" cy="193.2" r="1.1"/><circle cx="118.04" cy="183.81" r="1.1"/><circle cx="133.81" cy="193.2" r="1.1"/><circle cx="223.78" cy="169.81" r="1.1"/><circle cx="258.27" cy="75.02" r="1.1"/><circle cx="264.24" cy="32.7" r="1.1"/><circle cx="241.69" cy="125.99" r="1.1"/><circle cx="223.68" cy="170.42" r="1.1"/><circle cx="257.22" cy="192.55" r="1.1"/><circle cx="198.5" cy="75.68" r="1.1"/><circle cx="206.58" cy="87.8" r="1.1"/><circle cx="213.98" cy="91.09" r="1.1"/><circle cx="205.91" cy="100.53" r="1.1"/><circle cx="213.31" cy="102.5" r="1.1"/><circle cx="218" cy="111.99" r="1.1"/><circle cx="208.82" cy="94.56" r="1.1"/><circle cx="203.09" cy="96.91" r="1.1"/><circle cx="210.73" cy="106.3" r="1.1"/><circle cx="206.91" cy="109.59" r="1.1"/><circle cx="215.03" cy="115.7" r="1.1"/><circle cx="149.58" cy="147.17" r="1.1"/><circle cx="157.7" cy="142.47" r="1.1"/></g>
<text x="97.5" y="55.66" font-family="'Liberation Serif', 'DejaVu Serif', serif" font-size="4.6" fill="#6a6a3a" text-anchor="middle" font-weight="normal" >b</text>
<text x="99.41" y="35.94" font-family="'Liberation Serif', 'DejaVu Serif', serif" font-size="4.6" fill="#6a6a3a" text-anchor="middle" font-weight="normal" >B</text>
<text x="102.52" y="101.7" font-family="'Liberation Serif', 'DejaVu Serif', serif" font-size="4.6" fill="#6a6a3a" text-anchor="middle" font-weight="normal" >a</text>
<text x="131.42" y="114.85" font-family="'Liberation Serif', 'DejaVu Serif', serif" font-size="4.6" fill="#6a6a3a" text-anchor="middle" font-weight="normal" >A</text>
<text x="172.51" y="55.2" font-family="'Liberation Serif', 'DejaVu Serif', serif" font-size="4.6" fill="#6a6a3a" text-anchor="middle" font-weight="normal" >˜b</text>
<text x="172.51" y="122.37" font-family="'Liberation Serif', 'DejaVu Serif', serif" font-size="4.6" fill="#6a6a3a" text-anchor="middle" font-weight="normal" >˜a</text>
<text x="200.46" y="63.65" font-family="'Liberation Serif', 'DejaVu Serif', serif" font-size="4.6" fill="#6a6a3a" text-anchor="middle" font-weight="normal" >˜l</text>
<text x="203.09" y="86.67" font-family="'Liberation Serif', 'DejaVu Serif', serif" font-size="4.6" fill="#6a6a3a" text-anchor="middle" font-weight="normal" >l</text>
<text x="206.91" y="95.12" font-family="'Liberation Serif', 'DejaVu Serif', serif" font-size="4.6" fill="#6a6a3a" text-anchor="middle" font-weight="normal" >L</text>
<text x="196.4" y="176.38" font-family="'Liberation Serif', 'DejaVu Serif', serif" font-size="4.6" fill="#6a6a3a" text-anchor="middle" font-weight="normal" >˜p</text>
<text x="205.48" y="185.78" font-family="'Liberation Serif', 'DejaVu Serif', serif" font-size="4.6" fill="#6a6a3a" text-anchor="middle" font-weight="normal" >p</text>
<text x="253.26" y="190.01" font-family="'Liberation Serif', 'DejaVu Serif', serif" font-size="4.6" fill="#6a6a3a" text-anchor="middle" font-weight="normal" >˜b</text>
<text x="96.54" y="175.91" font-family="'Liberation Serif', 'DejaVu Serif', serif" font-size="4.6" fill="#6a6a3a" text-anchor="middle" font-weight="normal" >˜b</text>
<text x="102.76" y="185.78" font-family="'Liberation Serif', 'DejaVu Serif', serif" font-size="4.6" fill="#6a6a3a" text-anchor="middle" font-weight="normal" >b</text>
<text x="243.51" y="38.9" font-family="'Liberation Serif', 'DejaVu Serif', serif" font-size="4.6" fill="#6a6a3a" text-anchor="middle" font-weight="normal" >˜b</text>
<text x="259.94" y="43.59" font-family="'Liberation Serif', 'DejaVu Serif', serif" font-size="4.6" fill="#6a6a3a" text-anchor="middle" font-weight="normal" >b</text>
<rect x="96.79" y="192.11" width="2" height="2" fill="#e00000"/>
<text x="86.2" y="191.6" font-family="'Liberation Serif', 'DejaVu Serif', serif" font-size="4.4" fill="#d02828" text-anchor="start" font-weight="normal" >GLU 2M (A)</text>
<rect x="191.48" y="78.01" width="2" height="2" fill="#e00000"/>
<text x="185.2" y="73.8" font-family="'Liberation Serif', 'DejaVu Serif', serif" font-size="4.4" fill="#d02828" text-anchor="start" font-weight="normal" >PRO 78 (A)</text>
<rect x="212.98" y="81.4" width="2" height="2" fill="#e00000"/>
<text x="204.9" y="77.2" font-family="'Liberation Serif', 'DejaVu Serif', serif" font-size="4.4" fill="#d02828" text-anchor="start" font-weight="normal" >LYS 18 (A)</text>
<rect x="93.2" y="28.8" width="172" height="169.1" fill="none" stroke="#666" stroke-width="0.6"/>
<line x1="93.2" y1="197.9" x2="93.2" y2="199.9" stroke="#444" stroke-width="0.5"/>
<text x="93.2" y="205.3" font-family="'Liberation Serif', 'DejaVu Serif', serif" font-size="6.9" fill="#222" text-anchor="middle" font-weight="normal" >-180</text>
<line x1="91" y1="197.9" x2="93.2" y2="197.9" stroke="#444" stroke-width="0.5"/>
<line x1="114.7" y1="197.9" x2="114.7" y2="199.9" stroke="#444" stroke-width="0.5"/>
<text x="114.7" y="205.3" font-family="'Liberation Serif', 'DejaVu Serif', serif" font-size="6.9" fill="#222" text-anchor="middle" font-weight="normal" >-135</text>
<line x1="91" y1="176.76" x2="93.2" y2="176.76" stroke="#444" stroke-width="0.5"/>
<text x="89.7" y="179.06" font-family="'Liberation Serif', 'DejaVu Serif', serif" font-size="6.9" fill="#222" text-anchor="end" font-weight="normal" >-135</text>
<line x1="136.2" y1="197.9" x2="136.2" y2="199.9" stroke="#444" stroke-width="0.5"/>
<text x="136.2" y="205.3" font-family="'Liberation Serif', 'DejaVu Serif', serif" font-size="6.9" fill="#222" text-anchor="middle" font-weight="normal" >-90</text>
<line x1="91" y1="155.62" x2="93.2" y2="155.62" stroke="#444" stroke-width="0.5"/>
<text x="89.7" y="157.93" font-family="'Liberation Serif', 'DejaVu Serif', serif" font-size="6.9" fill="#222" text-anchor="end" font-weight="normal" >-90</text>
<line x1="157.7" y1="197.9" x2="157.7" y2="199.9" stroke="#444" stroke-width="0.5"/>
<text x="157.7" y="205.3" font-family="'Liberation Serif', 'DejaVu Serif', serif" font-size="6.9" fill="#222" text-anchor="middle" font-weight="normal" >-45</text>
<line x1="91" y1="134.49" x2="93.2" y2="134.49" stroke="#444" stroke-width="0.5"/>
<text x="89.7" y="136.79" font-family="'Liberation Serif', 'DejaVu Serif', serif" font-size="6.9" fill="#222" text-anchor="end" font-weight="normal" >-45</text>
<line x1="179.2" y1="197.9" x2="179.2" y2="199.9" stroke="#444" stroke-width="0.5"/>
<text x="179.2" y="205.3" font-family="'Liberation Serif', 'DejaVu Serif', serif" font-size="6.9" fill="#222" text-anchor="middle" font-weight="normal" >0</text>
<line x1="91" y1="113.35" x2="93.2" y2="113.35" stroke="#444" stroke-width="0.5"/>
<text x="89.7" y="115.65" font-family="'Liberation Serif', 'DejaVu Serif', serif" font-size="6.9" fill="#222" text-anchor="end" font-weight="normal" >0</text>
<line x1="200.7" y1="197.9" x2="200.7" y2="199.9" stroke="#444" stroke-width="0.5"/>
<text x="200.7" y="205.3" font-family="'Liberation Serif', 'DejaVu Serif', serif" font-size="6.9" fill="#222" text-anchor="middle" font-weight="normal" >45</text>
<line x1="91" y1="92.21" x2="93.2" y2="92.21" stroke="#444" stroke-width="0.5"/>
<text x="89.7" y="94.51" font-family="'Liberation Serif', 'DejaVu Serif', serif" font-size="6.9" fill="#222" text-anchor="end" font-weight="normal" >45</text>
<line x1="222.2" y1="197.9" x2="222.2" y2="199.9" stroke="#444" stroke-width="0.5"/>
<text x="222.2" y="205.3" font-family="'Liberation Serif', 'DejaVu Serif', serif" font-size="6.9" fill="#222" text-anchor="middle" font-weight="normal" >90</text>
<line x1="91" y1="71.08" x2="93.2" y2="71.08" stroke="#444" stroke-width="0.5"/>
<text x="89.7" y="73.38" font-family="'Liberation Serif', 'DejaVu Serif', serif" font-size="6.9" fill="#222" text-anchor="end" font-weight="normal" >90</text>
<line x1="243.7" y1="197.9" x2="243.7" y2="199.9" stroke="#444" stroke-width="0.5"/>
<text x="243.7" y="205.3" font-family="'Liberation Serif', 'DejaVu Serif', serif" font-size="6.9" fill="#222" text-anchor="middle" font-weight="normal" >135</text>
<line x1="91" y1="49.94" x2="93.2" y2="49.94" stroke="#444" stroke-width="0.5"/>
<text x="89.7" y="52.24" font-family="'Liberation Serif', 'DejaVu Serif', serif" font-size="6.9" fill="#222" text-anchor="end" font-weight="normal" >135</text>
<line x1="265.2" y1="197.9" x2="265.2" y2="199.9" stroke="#444" stroke-width="0.5"/>
<text x="265.2" y="205.3" font-family="'Liberation Serif', 'DejaVu Serif', serif" font-size="6.9" fill="#222" text-anchor="middle" font-weight="normal" >180</text>
<line x1="91" y1="28.8" x2="93.2" y2="28.8" stroke="#444" stroke-width="0.5"/>
<text x="89.7" y="31.1" font-family="'Liberation Serif', 'DejaVu Serif', serif" font-size="6.9" fill="#222" text-anchor="end" font-weight="normal" >180</text>
<text x="179.2" y="213.1" font-family="'Liberation Serif', 'DejaVu Serif', serif" font-size="7" fill="#222" text-anchor="middle" font-weight="normal" >Phi (degrees)</text>
<text x="74.9" y="112.35" font-family="'Liberation Serif', 'DejaVu Serif', serif" font-size="7" fill="#222" text-anchor="middle" font-weight="normal" transform="rotate(-90 74.9 112.35)">Psi (degrees)</text>
<path d="M158.23 424.5H168.07V429.3H158.23ZM241.82 424.5H261.48V429.3H241.82ZM163.15 429.3H172.98V434.1H163.15ZM241.82 429.3H256.57V434.1H241.82ZM163.15 434.1H182.82V438.9H163.15ZM241.82 434.1H251.65V438.9H241.82ZM172.98 438.9H182.82V443.7H172.98ZM241.82 438.9H256.57V443.7H241.82ZM168.07 443.7H182.82V448.5H168.07ZM241.82 443.7H261.48V448.5H241.82ZM168.07 448.5H182.82V453.3H168.07ZM246.73 448.5H261.48V453.3H246.73ZM168.07 453.3H182.82V458.1H168.07ZM251.65 453.3H261.48V458.1H251.65ZM172.98 458.1H182.82V462.9H172.98ZM251.65 458.1H261.48V462.9H251.65ZM172.98 462.9H182.82V467.7H172.98ZM251.65 462.9H261.48V467.7H251.65ZM158.23 467.7H182.82V472.5H158.23ZM251.65 467.7H266.4V472.5H251.65ZM148.4 472.5H182.82V477.3H148.4ZM251.65 472.5H266.4V477.3H251.65ZM89.4 477.3H94.32V482.1H89.4ZM153.32 477.3H163.15V482.1H153.32ZM251.65 477.3H266.4V482.1H251.65ZM89.4 482.1H99.23V486.9H89.4ZM153.32 482.1H163.15V486.9H153.32ZM251.65 482.1H266.4V486.9H251.65ZM251.65 486.9H266.4V491.7H251.65ZM251.65 491.7H266.4V496.5H251.65ZM251.65 496.5H266.4V501.3H251.65ZM251.65 501.3H266.4V506.1H251.65ZM251.65 506.1H266.4V510.9H251.65ZM251.65 510.9H266.4V515.7H251.65ZM251.65 515.7H266.4V520.5H251.65ZM251.65 520.5H266.4V525.3H251.65ZM251.65 525.3H266.4V530.1H251.65ZM251.65 530.1H266.4V534.9H251.65ZM251.65 534.9H266.4V539.7H251.65ZM251.65 539.7H266.4V544.5H251.65ZM251.65 544.5H266.4V549.3H251.65ZM251.65 549.3H266.4V554.1H251.65ZM104.15 563.7H123.82V568.5H104.15ZM133.65 563.7H172.98V568.5H133.65ZM89.4 568.5H113.98V573.3H89.4ZM123.82 568.5H158.23V573.3H123.82ZM89.4 573.3H113.98V578.1H89.4ZM138.57 573.3H158.23V578.1H138.57ZM89.4 578.1H94.32V582.9H89.4ZM109.07 578.1H113.98V582.9H109.07ZM143.48 578.1H163.15V582.9H143.48ZM89.4 582.9H94.32V587.7H89.4ZM143.48 582.9H163.15V587.7H143.48ZM251.65 582.9H266.4V587.7H251.65ZM153.32 587.7H163.15V592.5H153.32ZM251.65 587.7H266.4V592.5H251.65ZM153.32 592.5H163.15V597.3H153.32ZM251.65 592.5H261.48V597.3H251.65Z" fill="#fbfbb2"/>
<path d="M192.65 424.5H217.23V429.3H192.65ZM197.57 453.3H227.07V458.1H197.57ZM182.82 458.1H227.07V462.9H182.82ZM182.82 462.9H207.4V467.7H182.82ZM217.23 462.9H227.07V467.7H217.23ZM182.82 467.7H192.65V472.5H182.82ZM212.32 467.7H227.07V472.5H212.32ZM182.82 472.5H192.65V477.3H182.82ZM212.32 472.5H227.07V477.3H212.32ZM182.82 477.3H197.57V482.1H182.82ZM212.32 477.3H231.98V482.1H212.32ZM182.82 482.1H192.65V486.9H182.82ZM222.15 482.1H231.98V486.9H222.15ZM89.4 486.9H94.32V491.7H89.4ZM148.4 486.9H163.15V491.7H148.4ZM182.82 486.9H192.65V491.7H182.82ZM222.15 486.9H231.98V491.7H222.15ZM89.4 491.7H94.32V496.5H89.4ZM148.4 491.7H163.15V496.5H148.4ZM182.82 491.7H197.57V496.5H182.82ZM217.23 491.7H231.98V496.5H217.23ZM89.4 496.5H94.32V501.3H89.4ZM153.32 496.5H168.07V501.3H153.32ZM182.82 496.5H197.57V501.3H182.82ZM222.15 496.5H231.98V501.3H222.15ZM89.4 501.3H94.32V506.1H89.4ZM158.23 501.3H172.98V506.1H158.23ZM187.73 501.3H202.48V506.1H187.73ZM217.23 501.3H231.98V506.1H217.23ZM89.4 506.1H94.32V510.9H89.4ZM163.15 506.1H172.98V510.9H163.15ZM187.73 506.1H207.4V510.9H187.73ZM222.15 506.1H231.98V510.9H222.15ZM89.4 510.9H94.32V515.7H89.4ZM163.15 510.9H177.9V515.7H163.15ZM187.73 510.9H202.48V515.7H187.73ZM222.15 510.9H231.98V515.7H222.15ZM89.4 515.7H94.32V520.5H89.4ZM168.07 515.7H182.82V520.5H168.07ZM187.73 515.7H231.98V520.5H187.73ZM89.4 520.5H99.23V525.3H89.4ZM168.07 520.5H182.82V525.3H168.07ZM187.73 520.5H231.98V525.3H187.73ZM89.4 525.3H99.23V530.1H89.4ZM172.98 525.3H187.73V530.1H172.98ZM89.4 530.1H94.32V534.9H89.4ZM172.98 530.1H187.73V534.9H172.98ZM177.9 534.9H192.65V539.7H177.9ZM177.9 539.7H192.65V544.5H177.9ZM89.4 544.5H104.15V549.3H89.4ZM182.82 544.5H192.65V549.3H182.82ZM89.4 549.3H113.98V554.1H89.4ZM177.9 549.3H192.65V554.1H177.9ZM89.4 554.1H113.98V558.9H89.4ZM163.15 554.1H192.65V558.9H163.15ZM104.15 558.9H143.48V563.7H104.15ZM148.4 558.9H187.73V563.7H148.4ZM192.65 568.5H217.23V573.3H192.65ZM192.65 573.3H217.23V578.1H192.65ZM192.65 578.1H202.48V582.9H192.65ZM207.4 578.1H222.15V582.9H207.4ZM192.65 582.9H202.48V587.7H192.65ZM207.4 582.9H222.15V587.7H207.4ZM192.65 587.7H202.48V592.5H192.65ZM212.32 587.7H222.15V592.5H212.32ZM192.65 592.5H222.15V597.3H192.65Z" fill="#f0f0a6"/>
<path d="M89.4 424.5H94.32V429.3H89.4ZM143.48 424.5H158.23V429.3H143.48ZM261.48 424.5H266.4V429.3H261.48ZM89.4 429.3H94.32V434.1H89.4ZM148.4 429.3H163.15V434.1H148.4ZM256.57 429.3H266.4V434.1H256.57ZM89.4 434.1H94.32V438.9H89.4ZM148.4 434.1H163.15V438.9H148.4ZM251.65 434.1H266.4V438.9H251.65ZM89.4 438.9H99.23V443.7H89.4ZM153.32 438.9H172.98V443.7H153.32ZM256.57 438.9H266.4V443.7H256.57ZM89.4 443.7H99.23V448.5H89.4ZM158.23 443.7H168.07V448.5H158.23ZM261.48 443.7H266.4V448.5H261.48ZM89.4 448.5H99.23V453.3H89.4ZM153.32 448.5H168.07V453.3H153.32ZM261.48 448.5H266.4V453.3H261.48ZM89.4 453.3H104.15V458.1H89.4ZM148.4 453.3H168.07V458.1H148.4ZM261.48 453.3H266.4V458.1H261.48ZM89.4 458.1H109.07V462.9H89.4ZM143.48 458.1H172.98V462.9H143.48ZM261.48 458.1H266.4V462.9H261.48ZM89.4 462.9H113.98V467.7H89.4ZM118.9 462.9H128.73V467.7H118.9ZM133.65 462.9H172.98V467.7H133.65ZM207.4 462.9H217.23V467.7H207.4ZM261.48 462.9H266.4V467.7H261.48ZM89.4 467.7H158.23V472.5H89.4ZM192.65 467.7H212.32V472.5H192.65ZM89.4 472.5H148.4V477.3H89.4ZM192.65 472.5H212.32V477.3H192.65ZM94.32 477.3H153.32V482.1H94.32ZM197.57 477.3H212.32V482.1H197.57ZM99.23 482.1H153.32V486.9H99.23ZM192.65 482.1H222.15V486.9H192.65ZM192.65 486.9H202.48V491.7H192.65ZM207.4 486.9H222.15V491.7H207.4ZM197.57 491.7H202.48V496.5H197.57ZM212.32 491.7H217.23V496.5H212.32ZM197.57 496.5H222.15V501.3H197.57ZM202.48 501.3H217.23V506.1H202.48ZM207.4 506.1H222.15V510.9H207.4ZM202.48 510.9H222.15V515.7H202.48ZM123.82 563.7H133.65V568.5H123.82ZM113.98 568.5H123.82V573.3H113.98ZM113.98 573.3H138.57V578.1H113.98ZM94.32 578.1H109.07V582.9H94.32ZM113.98 578.1H143.48V582.9H113.98ZM202.48 578.1H207.4V582.9H202.48ZM94.32 582.9H143.48V587.7H94.32ZM202.48 582.9H207.4V587.7H202.48ZM89.4 587.7H153.32V592.5H89.4ZM202.48 587.7H212.32V592.5H202.48ZM89.4 592.5H153.32V597.3H89.4ZM261.48 592.5H266.4V597.3H261.48Z" fill="#ffff00"/>
<path d="M94.32 486.9H148.4V491.7H94.32ZM94.32 491.7H148.4V496.5H94.32ZM94.32 496.5H123.82V501.3H94.32ZM128.73 496.5H153.32V501.3H128.73ZM94.32 501.3H118.9V506.1H94.32ZM138.57 501.3H158.23V506.1H138.57ZM94.32 506.1H118.9V510.9H94.32ZM143.48 506.1H163.15V510.9H143.48ZM94.32 510.9H113.98V515.7H94.32ZM148.4 510.9H163.15V515.7H148.4ZM94.32 515.7H118.9V520.5H94.32ZM153.32 515.7H168.07V520.5H153.32ZM99.23 520.5H118.9V525.3H99.23ZM158.23 520.5H168.07V525.3H158.23ZM99.23 525.3H123.82V530.1H99.23ZM158.23 525.3H172.98V530.1H158.23ZM94.32 530.1H128.73V534.9H94.32ZM163.15 530.1H172.98V534.9H163.15ZM89.4 534.9H133.65V539.7H89.4ZM163.15 534.9H177.9V539.7H163.15ZM89.4 539.7H143.48V544.5H89.4ZM163.15 539.7H177.9V544.5H163.15ZM104.15 544.5H182.82V549.3H104.15ZM113.98 549.3H177.9V554.1H113.98ZM113.98 554.1H163.15V558.9H113.98ZM143.48 558.9H148.4V563.7H143.48Z" fill="#eeee00"/>
<path d="M94.32 424.5H143.48V429.3H94.32ZM94.32 429.3H148.4V434.1H94.32ZM94.32 434.1H148.4V438.9H94.32ZM99.23 438.9H153.32V443.7H99.23ZM99.23 443.7H158.23V448.5H99.23ZM99.23 448.5H153.32V453.3H99.23ZM104.15 453.3H148.4V458.1H104.15ZM109.07 458.1H143.48V462.9H109.07ZM113.98 462.9H118.9V467.7H113.98ZM128.73 462.9H133.65V467.7H128.73ZM202.48 486.9H207.4V491.7H202.48ZM202.48 491.7H212.32V496.5H202.48ZM123.82 496.5H128.73V501.3H123.82ZM118.9 501.3H138.57V506.1H118.9ZM118.9 506.1H143.48V510.9H118.9ZM113.98 510.9H148.4V515.7H113.98ZM118.9 515.7H153.32V520.5H118.9ZM118.9 520.5H158.23V525.3H118.9ZM123.82 525.3H158.23V530.1H123.82ZM128.73 530.1H163.15V534.9H128.73ZM133.65 534.9H163.15V539.7H133.65ZM143.48 539.7H163.15V544.5H143.48Z" fill="#ff0000"/>
<path d="M94.32 424.5L94.32 429.3M143.48 424.5L143.48 429.3M143.48 429.3L148.4 429.3M158.23 424.5L158.23 429.3M158.23 429.3L163.15 429.3M168.07 424.5L168.07 429.3M168.07 429.3L172.98 429.3M192.65 424.5L192.65 429.3M192.65 429.3L197.57 429.3M197.57 429.3L202.48 429.3M202.48 429.3L207.4 429.3M207.4 429.3L212.32 429.3M217.23 424.5L217.23 429.3M212.32 429.3L217.23 429.3M241.82 424.5L241.82 429.3M261.48 424.5L261.48 429.3M256.57 429.3L261.48 429.3M94.32 429.3L94.32 434.1M148.4 429.3L148.4 434.1M163.15 429.3L163.15 434.1M172.98 429.3L172.98 434.1M172.98 434.1L177.9 434.1M177.9 434.1L182.82 434.1M241.82 429.3L241.82 434.1M256.57 429.3L256.57 434.1M251.65 434.1L256.57 434.1M94.32 434.1L94.32 438.9M94.32 438.9L99.23 438.9M148.4 434.1L148.4 438.9M148.4 438.9L153.32 438.9M163.15 434.1L163.15 438.9M163.15 438.9L168.07 438.9M168.07 438.9L172.98 438.9M182.82 434.1L182.82 438.9M241.82 434.1L241.82 438.9M251.65 434.1L251.65 438.9M251.65 438.9L256.57 438.9M99.23 438.9L99.23 443.7M153.32 438.9L153.32 443.7M153.32 443.7L158.23 443.7M172.98 438.9L172.98 443.7M168.07 443.7L172.98 443.7M182.82 438.9L182.82 443.7M241.82 438.9L241.82 443.7M256.57 438.9L256.57 443.7M256.57 443.7L261.48 443.7M99.23 443.7L99.23 448.5M158.23 443.7L158.23 448.5M153.32 448.5L158.23 448.5M168.07 443.7L168.07 448.5M182.82 443.7L182.82 448.5M241.82 443.7L241.82 448.5M241.82 448.5L246.73 448.5M261.48 443.7L261.48 448.5M99.23 448.5L99.23 453.3M99.23 453.3L104.15 453.3M153.32 448.5L153.32 453.3M148.4 453.3L153.32 453.3M168.07 448.5L168.07 453.3M182.82 448.5L182.82 453.3M197.57 453.3L202.48 453.3M202.48 453.3L207.4 453.3M207.4 453.3L212.32 453.3M212.32 453.3L217.23 453.3M217.23 453.3L222.15 453.3M222.15 453.3L227.07 453.3M246.73 448.5L246.73 453.3M246.73 453.3L251.65 453.3M261.48 448.5L261.48 453.3M104.15 453.3L104.15 458.1M104.15 458.1L109.07 458.1M148.4 453.3L148.4 458.1M143.48 458.1L148.4 458.1M168.07 453.3L168.07 458.1M168.07 458.1L172.98 458.1M182.82 453.3L182.82 458.1M182.82 458.1L187.73 458.1M187.73 458.1L192.65 458.1M197.57 453.3L197.57 458.1M192.65 458.1L197.57 458.1M227.07 453.3L227.07 458.1M251.65 453.3L251.65 458.1M261.48 453.3L261.48 458.1M109.07 458.1L109.07 462.9M109.07 462.9L113.98 462.9M118.9 462.9L123.82 462.9M123.82 462.9L128.73 462.9M133.65 462.9L138.57 462.9M143.48 458.1L143.48 462.9M138.57 462.9L143.48 462.9M172.98 458.1L172.98 462.9M207.4 462.9L212.32 462.9M212.32 462.9L217.23 462.9M227.07 458.1L227.07 462.9M251.65 458.1L251.65 462.9M261.48 458.1L261.48 462.9M113.98 462.9L113.98 467.7M118.9 462.9L118.9 467.7M113.98 467.7L118.9 467.7M128.73 462.9L128.73 467.7M133.65 462.9L133.65 467.7M128.73 467.7L133.65 467.7M158.23 467.7L163.15 467.7M163.15 467.7L168.07 467.7M172.98 462.9L172.98 467.7M168.07 467.7L172.98 467.7M192.65 467.7L197.57 467.7M197.57 467.7L202.48 467.7M207.4 462.9L207.4 467.7M202.48 467.7L207.4 467.7M217.23 462.9L217.23 467.7M212.32 467.7L217.23 467.7M227.07 462.9L227.07 467.7M251.65 462.9L251.65 467.7M261.48 462.9L261.48 467.7M261.48 467.7L266.4 467.7M148.4 472.5L153.32 472.5M158.23 467.7L158.23 472.5M153.32 472.5L158.23 472.5M192.65 467.7L192.65 472.5M212.32 467.7L212.32 472.5M227.07 467.7L227.07 472.5M251.65 467.7L251.65 472.5M89.4 477.3L94.32 477.3M148.4 472.5L148.4 477.3M148.4 477.3L153.32 477.3M163.15 477.3L168.07 477.3M168.07 477.3L172.98 477.3M172.98 477.3L177.9 477.3M177.9 477.3L182.82 477.3M192.65 472.5L192.65 477.3M192.65 477.3L197.57 477.3M212.32 472.5L212.32 477.3M227.07 472.5L227.07 477.3M227.07 477.3L231.98 477.3M251.65 472.5L251.65 477.3M94.32 477.3L94.32 482.1M94.32 482.1L99.23 482.1M153.32 477.3L153.32 482.1M163.15 477.3L163.15 482.1M182.82 477.3L182.82 482.1M197.57 477.3L197.57 482.1M192.65 482.1L197.57 482.1M212.32 477.3L212.32 482.1M212.32 482.1L217.23 482.1M217.23 482.1L222.15 482.1M231.98 477.3L231.98 482.1M251.65 477.3L251.65 482.1M99.23 482.1L99.23 486.9M94.32 486.9L99.23 486.9M153.32 482.1L153.32 486.9M148.4 486.9L153.32 486.9M163.15 482.1L163.15 486.9M182.82 482.1L182.82 486.9M192.65 482.1L192.65 486.9M202.48 486.9L207.4 486.9M222.15 482.1L222.15 486.9M231.98 482.1L231.98 486.9M251.65 482.1L251.65 486.9M94.32 486.9L94.32 491.7M148.4 486.9L148.4 491.7M163.15 486.9L163.15 491.7M182.82 486.9L182.82 491.7M192.65 486.9L192.65 491.7M192.65 491.7L197.57 491.7M202.48 486.9L202.48 491.7M207.4 486.9L207.4 491.7M207.4 491.7L212.32 491.7M222.15 486.9L222.15 491.7M217.23 491.7L222.15 491.7M231.98 486.9L231.98 491.7M251.65 486.9L251.65 491.7M94.32 491.7L94.32 496.5M123.82 496.5L128.73 496.5M148.4 491.7L148.4 496.5M148.4 496.5L153.32 496.5M163.15 491.7L163.15 496.5M163.15 496.5L168.07 496.5M182.82 491.7L182.82 496.5M197.57 491.7L197.57 496.5M202.48 491.7L202.48 496.5M202.48 496.5L207.4 496.5M212.32 491.7L212.32 496.5M207.4 496.5L212.32 496.5M217.23 491.7L217.23 496.5M217.23 496.5L222.15 496.5M231.98 491.7L231.98 496.5M251.65 491.7L251.65 496.5M94.32 496.5L94.32 501.3M123.82 496.5L123.82 501.3M118.9 501.3L123.82 501.3M128.73 496.5L128.73 501.3M128.73 501.3L133.65 501.3M133.65 501.3L138.57 501.3M153.32 496.5L153.32 501.3M153.32 501.3L158.23 501.3M168.07 496.5L168.07 501.3M168.07 501.3L172.98 501.3M182.82 496.5L182.82 501.3M182.82 501.3L187.73 501.3M197.57 496.5L197.57 501.3M197.57 501.3L202.48 501.3M222.15 496.5L222.15 501.3M217.23 501.3L222.15 501.3M231.98 496.5L231.98 501.3M251.65 496.5L251.65 501.3M94.32 501.3L94.32 506.1M118.9 501.3L118.9 506.1M138.57 501.3L138.57 506.1M138.57 506.1L143.48 506.1M158.23 501.3L158.23 506.1M158.23 506.1L163.15 506.1M172.98 501.3L172.98 506.1M187.73 501.3L187.73 506.1M202.48 501.3L202.48 506.1M202.48 506.1L207.4 506.1M217.23 501.3L217.23 506.1M217.23 506.1L222.15 506.1M231.98 501.3L231.98 506.1M251.65 501.3L251.65 506.1M94.32 506.1L94.32 510.9M118.9 506.1L118.9 510.9M113.98 510.9L118.9 510.9M143.48 506.1L143.48 510.9M143.48 510.9L148.4 510.9M163.15 506.1L163.15 510.9M172.98 506.1L172.98 510.9M172.98 510.9L177.9 510.9M187.73 506.1L187.73 510.9M207.4 506.1L207.4 510.9M202.48 510.9L207.4 510.9M222.15 506.1L222.15 510.9M231.98 506.1L231.98 510.9M251.65 506.1L251.65 510.9M94.32 510.9L94.32 515.7M113.98 510.9L113.98 515.7M113.98 515.7L118.9 515.7M148.4 510.9L148.4 515.7M148.4 515.7L153.32 515.7M163.15 510.9L163.15 515.7M163.15 515.7L168.07 515.7M177.9 510.9L177.9 515.7M177.9 515.7L182.82 515.7M187.73 510.9L187.73 515.7M202.48 510.9L202.48 515.7M202.48 515.7L207.4 515.7M207.4 515.7L212.32 515.7M212.32 515.7L217.23 515.7M222.15 510.9L222.15 515.7M217.23 515.7L222.15 515.7M231.98 510.9L231.98 515.7M251.65 510.9L251.65 515.7M94.32 515.7L94.32 520.5M94.32 520.5L99.23 520.5M118.9 515.7L118.9 520.5M153.32 515.7L153.32 520.5M153.32 520.5L158.23 520.5M168.07 515.7L168.07 520.5M182.82 515.7L182.82 520.5M187.73 515.7L187.73 520.5M231.98 515.7L231.98 520.5M251.65 515.7L251.65 520.5M99.23 520.5L99.23 525.3M118.9 520.5L118.9 525.3M118.9 525.3L123.82 525.3M158.23 520.5L158.23 525.3M168.07 520.5L168.07 525.3M168.07 525.3L172.98 525.3M182.82 520.5L182.82 525.3M187.73 520.5L187.73 525.3M182.82 525.3L187.73 525.3M187.73 525.3L192.65 525.3M192.65 525.3L197.57 525.3M197.57 525.3L202.48 525.3M202.48 525.3L207.4 525.3M207.4 525.3L212.32 525.3M212.32 525.3L217.23 525.3M217.23 525.3L222.15 525.3M222.15 525.3L227.07 525.3M231.98 520.5L231.98 525.3M227.07 525.3L231.98 525.3M251.65 520.5L251.65 525.3M99.23 525.3L99.23 530.1M94.32 530.1L99.23 530.1M123.82 525.3L123.82 530.1M123.82 530.1L128.73 530.1M158.23 525.3L158.23 530.1M158.23 530.1L163.15 530.1M172.98 525.3L172.98 530.1M187.73 525.3L187.73 530.1M251.65 525.3L251.65 530.1M94.32 530.1L94.32 534.9M89.4 534.9L94.32 534.9M128.73 530.1L128.73 534.9M128.73 534.9L133.65 534.9M163.15 530.1L163.15 534.9M172.98 530.1L172.98 534.9M172.98 534.9L177.9 534.9M187.73 530.1L187.73 534.9M187.73 534.9L192.65 534.9M251.65 530.1L251.65 534.9M133.65 534.9L133.65 539.7M133.65 539.7L138.57 539.7M138.57 539.7L143.48 539.7M163.15 534.9L163.15 539.7M177.9 534.9L177.9 539.7M192.65 534.9L192.65 539.7M251.65 534.9L251.65 539.7M89.4 544.5L94.32 544.5M94.32 544.5L99.23 544.5M99.23 544.5L104.15 544.5M143.48 539.7L143.48 544.5M143.48 544.5L148.4 544.5M148.4 544.5L153.32 544.5M153.32 544.5L158.23 544.5M163.15 539.7L163.15 544.5M158.23 544.5L163.15 544.5M177.9 539.7L177.9 544.5M177.9 544.5L182.82 544.5M192.65 539.7L192.65 544.5M251.65 539.7L251.65 544.5M104.15 544.5L104.15 549.3M104.15 549.3L109.07 549.3M109.07 549.3L113.98 549.3M182.82 544.5L182.82 549.3M177.9 549.3L182.82 549.3M192.65 544.5L192.65 549.3M251.65 544.5L251.65 549.3M113.98 549.3L113.98 554.1M163.15 554.1L168.07 554.1M168.07 554.1L172.98 554.1M177.9 549.3L177.9 554.1M172.98 554.1L177.9 554.1M192.65 549.3L192.65 554.1M251.65 549.3L251.65 554.1M251.65 554.1L256.57 554.1M256.57 554.1L261.48 554.1M261.48 554.1L266.4 554.1M89.4 558.9L94.32 558.9M94.32 558.9L99.23 558.9M99.23 558.9L104.15 558.9M113.98 554.1L113.98 558.9M113.98 558.9L118.9 558.9M118.9 558.9L123.82 558.9M123.82 558.9L128.73 558.9M128.73 558.9L133.65 558.9M133.65 558.9L138.57 558.9M138.57 558.9L143.48 558.9M148.4 558.9L153.32 558.9M153.32 558.9L158.23 558.9M163.15 554.1L163.15 558.9M158.23 558.9L163.15 558.9M192.65 554.1L192.65 558.9M187.73 558.9L192.65 558.9M104.15 558.9L104.15 563.7M123.82 563.7L128.73 563.7M128.73 563.7L133.65 563.7M143.48 558.9L143.48 563.7M148.4 558.9L148.4 563.7M143.48 563.7L148.4 563.7M172.98 563.7L177.9 563.7M177.9 563.7L182.82 563.7M187.73 558.9L187.73 563.7M182.82 563.7L187.73 563.7M89.4 568.5L94.32 568.5M94.32 568.5L99.23 568.5M104.15 563.7L104.15 568.5M99.23 568.5L104.15 568.5M113.98 568.5L118.9 568.5M123.82 563.7L123.82 568.5M118.9 568.5L123.82 568.5M123.82 568.5L128.73 568.5M133.65 563.7L133.65 568.5M128.73 568.5L133.65 568.5M158.23 568.5L163.15 568.5M163.15 568.5L168.07 568.5M172.98 563.7L172.98 568.5M168.07 568.5L172.98 568.5M192.65 568.5L197.57 568.5M197.57 568.5L202.48 568.5M202.48 568.5L207.4 568.5M207.4 568.5L212.32 568.5M212.32 568.5L217.23 568.5M113.98 568.5L113.98 573.3M123.82 568.5L123.82 573.3M123.82 573.3L128.73 573.3M128.73 573.3L133.65 573.3M133.65 573.3L138.57 573.3M158.23 568.5L158.23 573.3M192.65 568.5L192.65 573.3M217.23 568.5L217.23 573.3M94.32 578.1L99.23 578.1M99.23 578.1L104.15 578.1M104.15 578.1L109.07 578.1M113.98 573.3L113.98 578.1M138.57 573.3L138.57 578.1M138.57 578.1L143.48 578.1M158.23 573.3L158.23 578.1M158.23 578.1L163.15 578.1M192.65 573.3L192.65 578.1M202.48 578.1L207.4 578.1M217.23 573.3L217.23 578.1M217.23 578.1L222.15 578.1M94.32 578.1L94.32 582.9M109.07 578.1L109.07 582.9M113.98 578.1L113.98 582.9M109.07 582.9L113.98 582.9M143.48 578.1L143.48 582.9M163.15 578.1L163.15 582.9M192.65 578.1L192.65 582.9M202.48 578.1L202.48 582.9M207.4 578.1L207.4 582.9M222.15 578.1L222.15 582.9M251.65 582.9L256.57 582.9M256.57 582.9L261.48 582.9M261.48 582.9L266.4 582.9M94.32 582.9L94.32 587.7M89.4 587.7L94.32 587.7M143.48 582.9L143.48 587.7M143.48 587.7L148.4 587.7M148.4 587.7L153.32 587.7M163.15 582.9L163.15 587.7M192.65 582.9L192.65 587.7M202.48 582.9L202.48 587.7M207.4 582.9L207.4 587.7M207.4 587.7L212.32 587.7M222.15 582.9L222.15 587.7M251.65 582.9L251.65 587.7M153.32 587.7L153.32 592.5M163.15 587.7L163.15 592.5M192.65 587.7L192.65 592.5M202.48 587.7L202.48 592.5M202.48 592.5L207.4 592.5M212.32 587.7L212.32 592.5M207.4 592.5L212.32 592.5M222.15 587.7L222.15 592.5M251.65 587.7L251.65 592.5M261.48 592.5L266.4 592.5M153.32 592.5L153.32 597.3M163.15 592.5L163.15 597.3M192.65 592.5L192.65 597.3M222.15 592.5L222.15 597.3M251.65 592.5L251.65 597.3M261.48 592.5L261.48 597.3" stroke="#8e8e48" stroke-width="0.5" fill="none" opacity="0.85"/>
<line x1="177.9" y1="424.5" x2="177.9" y2="597.3" stroke="#c4c4c4" stroke-width="0.5"/>
<line x1="89.4" y1="510.9" x2="266.4" y2="510.9" stroke="#c4c4c4" stroke-width="0.5"/>
<g fill="#000"><circle cx="147.94" cy="449.49" r="1.1"/><circle cx="131.15" cy="449.39" r="1.1"/><circle cx="114.86" cy="438.78" r="1.1"/><circle cx="123.92" cy="441.4" r="1.1"/><circle cx="112.85" cy="450.42" r="1.1"/><circle cx="136.37" cy="445.2" r="1.1"/><circle cx="116.71" cy="435.43" r="1.1"/><circle cx="124.47" cy="440.34" r="1.1"/><circle cx="139.51" cy="442.19" r="1.1"/><circle cx="134.5" cy="459.84" r="1.1"/><circle cx="113.32" cy="432.45" r="1.1"/><circle cx="99.45" cy="463.44" r="1.1"/><circle cx="129.88" cy="432.25" r="1.1"/><circle cx="116.39" cy="455.24" r="1.1"/><circle cx="143.47" cy="443.98" r="1.1"/><circle cx="98.97" cy="433.84" r="1.1"/><circle cx="130.05" cy="449.31" r="1.1"/><circle cx="152.84" cy="442.1" r="1.1"/><circle cx="145.57" cy="446.27" r="1.1"/><circle cx="122.79" cy="459.2" r="1.1"/><circle cx="133.46" cy="445.55" r="1.1"/><circle cx="126.97" cy="460.37" r="1.1"/><circle cx="145.81" cy="456.77" r="1.1"/><circle cx="151.65" cy="448.49" r="1.1"/><circle cx="112.09" cy="436.77" r="1.1"/><circle cx="121.17" cy="448.6" r="1.1"/><circle cx="119.05" cy="434.36" r="1.1"/><circle cx="107.02" cy="448.69" r="1.1"/><circle cx="133.76" cy="453.34" r="1.1"/><circle cx="130.45" cy="449.31" r="1.1"/><circle cx="138.51" cy="438.44" r="1.1"/><circle cx="107.46" cy="443.47" r="1.1"/><circle cx="121.7" cy="436.67" r="1.1"/><circle cx="116.89" cy="433.76" r="1.1"/><circle cx="121.68" cy="449.45" r="1.1"/><circle cx="138.29" cy="446.96" r="1.1"/><circle cx="112.91" cy="446.38" r="1.1"/><circle cx="111.62" cy="428.87" r="1.1"/><circle cx="119.45" cy="454.14" r="1.1"/><circle cx="113.08" cy="452.61" r="1.1"/><circle cx="146.05" cy="447.06" r="1.1"/><circle cx="125.97" cy="436.73" r="1.1"/><circle cx="106.28" cy="456.3" r="1.1"/><circle cx="121.04" cy="443.76" r="1.1"/><circle cx="99.89" cy="443.25" r="1.1"/><circle cx="124.63" cy="435.61" r="1.1"/><circle cx="136.96" cy="455.04" r="1.1"/><circle cx="152.6" cy="439.41" r="1.1"/><circle cx="132.41" cy="461.69" r="1.1"/><circle cx="109.6" cy="441.06" r="1.1"/><circle cx="128.88" cy="459.61" r="1.1"/><circle cx="118.19" cy="447.88" r="1.1"/><circle cx="98" cy="430.68" r="1.1"/><circle cx="120.17" cy="454.02" r="1.1"/><circle cx="105.33" cy="447.26" r="1.1"/><circle cx="115.88" cy="439.57" r="1.1"/><circle cx="134.62" cy="447.07" r="1.1"/><circle cx="156.81" cy="446.56" r="1.1"/><circle cx="117.09" cy="434.26" r="1.1"/><circle cx="136.79" cy="441.57" r="1.1"/><circle cx="126.97" cy="454.38" r="1.1"/><circle cx="118.86" cy="465.17" r="1.1"/><circle cx="120.22" cy="432.15" r="1.1"/><circle cx="119.3" cy="440.37" r="1.1"/><circle cx="136.38" cy="448.46" r="1.1"/><circle cx="146.4" cy="442.83" r="1.1"/><circle cx="111.56" cy="446.44" r="1.1"/><circle cx="132.23" cy="428.01" r="1.1"/><circle cx="120.19" cy="451.47" r="1.1"/><circle cx="147.63" cy="450.79" r="1.1"/><circle cx="125.27" cy="457.25" r="1.1"/><circle cx="125.33" cy="438.5" r="1.1"/><circle cx="139.55" cy="439.23" r="1.1"/><circle cx="127.87" cy="462.46" r="1.1"/><circle cx="123.27" cy="461.41" r="1.1"/><circle cx="120.77" cy="432.5" r="1.1"/><circle cx="115.82" cy="450.3" r="1.1"/><circle cx="114.9" cy="425.45" r="1.1"/><circle cx="110.73" cy="446.39" r="1.1"/><circle cx="144.34" cy="454.95" r="1.1"/><circle cx="145.21" cy="441.57" r="1.1"/><circle cx="131.35" cy="446.6" r="1.1"/><circle cx="141.44" cy="447.87" r="1.1"/><circle cx="130.19" cy="442" r="1.1"/><circle cx="109.92" cy="442.95" r="1.1"/><circle cx="112.92" cy="457.75" r="1.1"/><circle cx="140.64" cy="436.09" r="1.1"/><circle cx="135.84" cy="461.55" r="1.1"/><circle cx="145.97" cy="443.7" r="1.1"/><circle cx="113.5" cy="448.45" r="1.1"/><circle cx="122.39" cy="447.28" r="1.1"/><circle cx="117.58" cy="434.61" r="1.1"/><circle cx="151.86" cy="449.8" r="1.1"/><circle cx="134.64" cy="439.93" r="1.1"/><circle cx="110.69" cy="454.26" r="1.1"/><circle cx="145.24" cy="433.33" r="1.1"/><circle cx="101.14" cy="442.5" r="1.1"/><circle cx="117.64" cy="449.68" r="1.1"/><circle cx="145.59" cy="445.14" r="1.1"/><circle cx="131.24" cy="427.43" r="1.1"/><circle cx="130.8" cy="449.46" r="1.1"/><circle cx="133.91" cy="456.03" r="1.1"/><circle cx="131.14" cy="445.99" r="1.1"/><circle cx="115.6" cy="458.84" r="1.1"/><circle cx="116.39" cy="429.46" r="1.1"/><circle cx="102.45" cy="443.93" r="1.1"/><circle cx="125.74" cy="448.65" r="1.1"/><circle cx="114.37" cy="454.75" r="1.1"/><circle cx="95.4" cy="427.62" r="1.1"/><circle cx="140.87" cy="447.65" r="1.1"/><circle cx="123.78" cy="440.46" r="1.1"/><circle cx="123.72" cy="433.46" r="1.1"/><circle cx="136.09" cy="451.44" r="1.1"/><circle cx="136.49" cy="427.88" r="1.1"/><circle cx="147.43" cy="441.16" r="1.1"/><circle cx="124.48" cy="447.53" r="1.1"/><circle cx="128.34" cy="455.71" r="1.1"/><circle cx="140.76" cy="447.71" r="1.1"/><circle cx="131.91" cy="437.99" r="1.1"/><circle cx="126.55" cy="426.54" r="1.1"/><circle cx="115.37" cy="452.01" r="1.1"/><circle cx="111.9" cy="435.4" r="1.1"/><circle cx="118.22" cy="439.18" r="1.1"/><circle cx="124.08" cy="452.54" r="1.1"/><circle cx="129.32" cy="456.25" r="1.1"/><circle cx="125.44" cy="439.46" r="1.1"/><circle cx="123.35" cy="449.92" r="1.1"/><circle cx="142.53" cy="445.91" r="1.1"/><circle cx="132.37" cy="444.22" r="1.1"/><circle cx="125.83" cy="457.71" r="1.1"/><circle cx="127.92" cy="442.3" r="1.1"/><circle cx="136.22" cy="441.04" r="1.1"/><circle cx="99.56" cy="448.9" r="1.1"/><circle cx="123.21" cy="440.55" r="1.1"/><circle cx="119.29" cy="433.94" r="1.1"/><circle cx="109.36" cy="439.86" r="1.1"/><circle cx="137.22" cy="455.45" r="1.1"/><circle cx="126.07" cy="450.73" r="1.1"/><circle cx="143.12" cy="433.8" r="1.1"/><circle cx="137.42" cy="457.14" r="1.1"/><circle cx="144.26" cy="452.38" r="1.1"/><circle cx="107.1" cy="429.44" r="1.1"/><circle cx="127.35" cy="441.46" r="1.1"/><circle cx="121.66" cy="445.63" r="1.1"/><circle cx="110.71" cy="451.29" r="1.1"/><circle cx="125.79" cy="433.2" r="1.1"/><circle cx="132.51" cy="448.93" r="1.1"/><circle cx="131.75" cy="439.8" r="1.1"/><circle cx="134.97" cy="428.94" r="1.1"/><circle cx="107.76" cy="440.16" r="1.1"/><circle cx="137.26" cy="442.26" r="1.1"/><circle cx="124" cy="440.54" r="1.1"/><circle cx="124.82" cy="445.74" r="1.1"/><circle cx="129.43" cy="442.95" r="1.1"/><circle cx="139.1" cy="443.25" r="1.1"/><circle cx="126.51" cy="443.96" r="1.1"/><circle cx="112.63" cy="442.64" r="1.1"/><circle cx="141.91" cy="426.36" r="1.1"/><circle cx="136.08" cy="431.62" r="1.1"/><circle cx="131.55" cy="452.75" r="1.1"/><circle cx="144.59" cy="431.25" r="1.1"/><circle cx="119.02" cy="429.68" r="1.1"/><circle cx="107.84" cy="428.59" r="1.1"/><circle cx="149.59" cy="450.56" r="1.1"/><circle cx="117.82" cy="461.08" r="1.1"/><circle cx="109.55" cy="450.93" r="1.1"/><circle cx="145.33" cy="428.75" r="1.1"/><circle cx="134.13" cy="431.22" r="1.1"/><circle cx="141.34" cy="427.42" r="1.1"/><circle cx="102.81" cy="452.99" r="1.1"/><circle cx="127.47" cy="448.65" r="1.1"/><circle cx="152.78" cy="442.59" r="1.1"/><circle cx="124.93" cy="449.18" r="1.1"/><circle cx="127.87" cy="459.5" r="1.1"/><circle cx="148.17" cy="449.39" r="1.1"/><circle cx="142.06" cy="430.72" r="1.1"/><circle cx="122.19" cy="450.7" r="1.1"/><circle cx="140.21" cy="442.56" r="1.1"/><circle cx="150.45" cy="440.87" r="1.1"/><circle cx="120.89" cy="439.31" r="1.1"/><circle cx="130.72" cy="433.75" r="1.1"/><circle cx="113.04" cy="437.84" r="1.1"/><circle cx="113.86" cy="443.34" r="1.1"/><circle cx="131.71" cy="437.72" r="1.1"/><circle cx="112.77" cy="446.63" r="1.1"/><circle cx="133.49" cy="431.2" r="1.1"/><circle cx="129.82" cy="445.98" r="1.1"/><circle cx="132.69" cy="432.9" r="1.1"/><circle cx="143.9" cy="441.96" r="1.1"/><circle cx="157.37" cy="459.97" r="1.1"/><circle cx="111.59" cy="440.82" r="1.1"/><circle cx="120.59" cy="424.53" r="1.1"/><circle cx="108.12" cy="431.59" r="1.1"/><circle cx="129.98" cy="451.06" r="1.1"/><circle cx="138.36" cy="434.83" r="1.1"/><circle cx="132.91" cy="436.38" r="1.1"/><circle cx="115.34" cy="466.89" r="1.1"/><circle cx="123.2" cy="446.17" r="1.1"/><circle cx="144.28" cy="444.15" r="1.1"/><circle cx="125.62" cy="445.45" r="1.1"/><circle cx="114.64" cy="432.77" r="1.1"/><circle cx="110.5" cy="462.73" r="1.1"/><circle cx="148.33" cy="446.53" r="1.1"/><circle cx="137.08" cy="453.15" r="1.1"/><circle cx="122.1" cy="451.05" r="1.1"/><circle cx="127.13" cy="457.54" r="1.1"/><circle cx="136.99" cy="439.37" r="1.1"/><circle cx="101.46" cy="445.31" r="1.1"/><circle cx="129.86" cy="432.71" r="1.1"/><circle cx="132.84" cy="453.63" r="1.1"/><circle cx="115.81" cy="430.93" r="1.1"/><circle cx="116.18" cy="435.47" r="1.1"/><circle cx="116.77" cy="448.73" r="1.1"/><circle cx="119.88" cy="443.96" r="1.1"/><circle cx="113.14" cy="444.76" r="1.1"/><circle cx="149.39" cy="439.44" r="1.1"/><circle cx="115.31" cy="443.77" r="1.1"/><circle cx="136.92" cy="448.78" r="1.1"/><circle cx="116.93" cy="447.98" r="1.1"/><circle cx="107.33" cy="448.38" r="1.1"/><circle cx="109.18" cy="446.46" r="1.1"/><circle cx="127.94" cy="443.17" r="1.1"/><circle cx="151.21" cy="440.4" r="1.1"/><circle cx="133.19" cy="442.33" r="1.1"/><circle cx="108.27" cy="431.98" r="1.1"/><circle cx="114.57" cy="445.82" r="1.1"/><circle cx="114.89" cy="466.92" r="1.1"/><circle cx="110.87" cy="457.7" r="1.1"/><circle cx="127.58" cy="431.06" r="1.1"/><circle cx="126.39" cy="432.96" r="1.1"/><circle cx="110.13" cy="448.11" r="1.1"/><circle cx="107.13" cy="425.2" r="1.1"/><circle cx="148.36" cy="453.77" r="1.1"/><circle cx="105.34" cy="438.5" r="1.1"/><circle cx="118.04" cy="452.81" r="1.1"/><circle cx="150.74" cy="527.11" r="1.1"/><circle cx="135" cy="513.08" r="1.1"/><circle cx="136.31" cy="534.65" r="1.1"/><circle cx="119.99" cy="503.98" r="1.1"/><circle cx="118.58" cy="499.97" r="1.1"/><circle cx="152.65" cy="533.17" r="1.1"/><circle cx="142.31" cy="522.08" r="1.1"/><circle cx="139.67" cy="519.98" r="1.1"/><circle cx="133.93" cy="503.09" r="1.1"/><circle cx="138.22" cy="521.39" r="1.1"/><circle cx="133.55" cy="506.33" r="1.1"/><circle cx="139.93" cy="527.63" r="1.1"/><circle cx="150.02" cy="521.41" r="1.1"/><circle cx="138.57" cy="523.63" r="1.1"/><circle cx="135.72" cy="514.79" r="1.1"/><circle cx="126.27" cy="505.19" r="1.1"/><circle cx="133.8" cy="535.73" r="1.1"/><circle cx="133.15" cy="518.91" r="1.1"/><circle cx="147.28" cy="524.92" r="1.1"/><circle cx="127.89" cy="522.77" r="1.1"/><circle cx="124.39" cy="503.32" r="1.1"/><circle cx="152.58" cy="529.73" r="1.1"/><circle cx="125.66" cy="523.89" r="1.1"/><circle cx="151.19" cy="532.71" r="1.1"/><circle cx="143.56" cy="535.96" r="1.1"/><circle cx="137.97" cy="522.18" r="1.1"/><circle cx="134.18" cy="513.47" r="1.1"/><circle cx="118.06" cy="513.14" r="1.1"/><circle cx="123.46" cy="504.24" r="1.1"/><circle cx="136.19" cy="522.57" r="1.1"/><circle cx="143.6" cy="527.1" r="1.1"/><circle cx="132.94" cy="510.95" r="1.1"/><circle cx="119.2" cy="514.11" r="1.1"/><circle cx="139.39" cy="524.73" r="1.1"/><circle cx="130.48" cy="518.08" r="1.1"/><circle cx="125.13" cy="504.17" r="1.1"/><circle cx="120.21" cy="505.4" r="1.1"/><circle cx="139.06" cy="520.11" r="1.1"/><circle cx="127.26" cy="511.24" r="1.1"/><circle cx="130.93" cy="528.29" r="1.1"/><circle cx="141.91" cy="509.08" r="1.1"/><circle cx="127.31" cy="510.23" r="1.1"/><circle cx="136.01" cy="512.82" r="1.1"/><circle cx="134.18" cy="507.9" r="1.1"/><circle cx="128.43" cy="507.23" r="1.1"/><circle cx="138.38" cy="522.79" r="1.1"/><circle cx="129.52" cy="511.33" r="1.1"/><circle cx="121.39" cy="516.56" r="1.1"/><circle cx="138.82" cy="519.74" r="1.1"/><circle cx="146.16" cy="527.8" r="1.1"/><circle cx="148.36" cy="528.83" r="1.1"/><circle cx="148.27" cy="519.56" r="1.1"/><circle cx="135.6" cy="523.01" r="1.1"/><circle cx="138.02" cy="504.74" r="1.1"/><circle cx="136.85" cy="531.4" r="1.1"/><circle cx="140.72" cy="519.74" r="1.1"/><circle cx="134.57" cy="511.11" r="1.1"/><circle cx="114.36" cy="497.72" r="1.1"/><circle cx="146.69" cy="521.89" r="1.1"/><circle cx="138.41" cy="510.1" r="1.1"/><circle cx="143.12" cy="521.35" r="1.1"/><circle cx="137.52" cy="537.99" r="1.1"/><circle cx="125.77" cy="506.02" r="1.1"/><circle cx="148.65" cy="520.23" r="1.1"/><circle cx="142.39" cy="528.28" r="1.1"/><circle cx="135.65" cy="510.49" r="1.1"/><circle cx="146.5" cy="527.86" r="1.1"/><circle cx="150.87" cy="529.11" r="1.1"/><circle cx="134.9" cy="521.39" r="1.1"/><circle cx="149.28" cy="535.74" r="1.1"/><circle cx="128.07" cy="505.71" r="1.1"/><circle cx="147.74" cy="527.46" r="1.1"/><circle cx="145.68" cy="529.82" r="1.1"/><circle cx="142.04" cy="509.17" r="1.1"/><circle cx="133.23" cy="516.81" r="1.1"/><circle cx="150.57" cy="532.92" r="1.1"/><circle cx="147.59" cy="532.7" r="1.1"/><circle cx="150.28" cy="522.59" r="1.1"/><circle cx="130.6" cy="502.35" r="1.1"/><circle cx="150.85" cy="532.41" r="1.1"/><circle cx="135.05" cy="519.61" r="1.1"/><circle cx="129.78" cy="521.6" r="1.1"/><circle cx="120.62" cy="522.71" r="1.1"/><circle cx="151.28" cy="538.44" r="1.1"/><circle cx="136.98" cy="518.03" r="1.1"/><circle cx="153.33" cy="528.92" r="1.1"/><circle cx="152.01" cy="531.68" r="1.1"/><circle cx="145.14" cy="523.84" r="1.1"/><circle cx="136.03" cy="530.41" r="1.1"/><circle cx="144.62" cy="528.33" r="1.1"/><circle cx="140.68" cy="524.91" r="1.1"/><circle cx="137.14" cy="509.65" r="1.1"/><circle cx="156.83" cy="534.94" r="1.1"/><circle cx="135.22" cy="518.44" r="1.1"/><circle cx="132.29" cy="508.3" r="1.1"/><circle cx="133.21" cy="473.22" r="1.1"/><circle cx="114.72" cy="481.19" r="1.1"/><circle cx="127.11" cy="481.72" r="1.1"/><circle cx="114.72" cy="486.9" r="1.1"/><circle cx="124.7" cy="488.48" r="1.1"/><circle cx="122.39" cy="493.28" r="1.1"/><circle cx="117.92" cy="495.2" r="1.1"/><circle cx="125.59" cy="495.2" r="1.1"/><circle cx="114.72" cy="497.6" r="1.1"/><circle cx="117.92" cy="499.72" r="1.1"/><circle cx="114.72" cy="516.61" r="1.1"/><circle cx="117.92" cy="518.2" r="1.1"/><circle cx="171.21" cy="482.82" r="1.1"/><circle cx="114.72" cy="569.6" r="1.1"/><circle cx="114.28" cy="480.8" r="1.1"/><circle cx="111.82" cy="470.29" r="1.1"/><circle cx="110.1" cy="498.42" r="1.1"/><circle cx="114.28" cy="569.12" r="1.1"/><circle cx="99.58" cy="591.2" r="1.1"/><circle cx="110.1" cy="594.71" r="1.1"/><circle cx="127.6" cy="587.7" r="1.1"/><circle cx="141.62" cy="596.48" r="1.1"/><circle cx="113.59" cy="596.34" r="1.1"/><circle cx="104.15" cy="582.9" r="1.1"/><circle cx="121.36" cy="580.5" r="1.1"/><circle cx="133.65" cy="591.54" r="1.1"/><circle cx="96.78" cy="578.1" r="1.1"/><circle cx="206.42" cy="481.91" r="1.1"/><circle cx="204.7" cy="487.91" r="1.1"/><circle cx="211.68" cy="501.92" r="1.1"/><circle cx="208.19" cy="506.39" r="1.1"/><circle cx="222.2" cy="517.62" r="1.1"/><circle cx="207.4" cy="494.1" r="1.1"/><circle cx="210.35" cy="496.5" r="1.1"/><circle cx="203.47" cy="490.74" r="1.1"/><circle cx="212.32" cy="492.66" r="1.1"/><circle cx="209.37" cy="508.98" r="1.1"/><circle cx="229.18" cy="449.99" r="1.1"/><circle cx="264.19" cy="552.71" r="1.1"/><circle cx="234.49" cy="592.98" r="1.1"/><circle cx="205.68" cy="573.68" r="1.1"/><circle cx="94.32" cy="431.7" r="1.1"/><circle cx="99.23" cy="453.3" r="1.1"/></g>
<text x="93.83" y="451.92" font-family="'Liberation Serif', 'DejaVu Serif', serif" font-size="4.6" fill="#6a6a3a" text-anchor="middle" font-weight="normal" >b</text>
<text x="95.79" y="431.76" font-family="'Liberation Serif', 'DejaVu Serif', serif" font-size="4.6" fill="#6a6a3a" text-anchor="middle" font-weight="normal" >B</text>
<text x="98.99" y="498.96" font-family="'Liberation Serif', 'DejaVu Serif', serif" font-size="4.6" fill="#6a6a3a" text-anchor="middle" font-weight="normal" >a</text>
<text x="128.73" y="512.4" font-family="'Liberation Serif', 'DejaVu Serif', serif" font-size="4.6" fill="#6a6a3a" text-anchor="middle" font-weight="normal" >A</text>
<text x="171.02" y="451.44" font-family="'Liberation Serif', 'DejaVu Serif', serif" font-size="4.6" fill="#6a6a3a" text-anchor="middle" font-weight="normal" >˜b</text>
<text x="171.02" y="520.08" font-family="'Liberation Serif', 'DejaVu Serif', serif" font-size="4.6" fill="#6a6a3a" text-anchor="middle" font-weight="normal" >˜a</text>
<text x="199.78" y="460.08" font-family="'Liberation Serif', 'DejaVu Serif', serif" font-size="4.6" fill="#6a6a3a" text-anchor="middle" font-weight="normal" >˜l</text>
<text x="202.48" y="483.6" font-family="'Liberation Serif', 'DejaVu Serif', serif" font-size="4.6" fill="#6a6a3a" text-anchor="middle" font-weight="normal" >l</text>
<text x="206.42" y="492.24" font-family="'Liberation Serif', 'DejaVu Serif', serif" font-size="4.6" fill="#6a6a3a" text-anchor="middle" font-weight="normal" >L</text>
<text x="195.6" y="575.28" font-family="'Liberation Serif', 'DejaVu Serif', serif" font-size="4.6" fill="#6a6a3a" text-anchor="middle" font-weight="normal" >˜p</text>
<text x="204.94" y="584.88" font-family="'Liberation Serif', 'DejaVu Serif', serif" font-size="4.6" fill="#6a6a3a" text-anchor="middle" font-weight="normal" >p</text>
<text x="254.11" y="589.2" font-family="'Liberation Serif', 'DejaVu Serif', serif" font-size="4.6" fill="#6a6a3a" text-anchor="middle" font-weight="normal" >˜b</text>
<text x="92.84" y="574.8" font-family="'Liberation Serif', 'DejaVu Serif', serif" font-size="4.6" fill="#6a6a3a" text-anchor="middle" font-weight="normal" >˜b</text>
<text x="99.23" y="584.88" font-family="'Liberation Serif', 'DejaVu Serif', serif" font-size="4.6" fill="#6a6a3a" text-anchor="middle" font-weight="normal" >b</text>
<text x="244.08" y="434.78" font-family="'Liberation Serif', 'DejaVu Serif', serif" font-size="4.6" fill="#6a6a3a" text-anchor="middle" font-weight="normal" >˜b</text>
<text x="260.99" y="439.58" font-family="'Liberation Serif', 'DejaVu Serif', serif" font-size="4.6" fill="#6a6a3a" text-anchor="middle" font-weight="normal" >b</text>
<rect x="215.89" y="430.12" width="2" height="2" fill="#e00000"/>
<text x="205" y="430.5" font-family="'Liberation Serif', 'DejaVu Serif', serif" font-size="4.4" fill="#d02828" text-anchor="start" font-weight="normal" >THR 2?? (A)</text>
<rect x="121.34" y="564" width="2" height="2" fill="#e00000"/>
<text x="116.4" y="560" font-family="'Liberation Serif', 'DejaVu Serif', serif" font-size="4.4" fill="#d02828" text-anchor="start" font-weight="normal" >ASP 114 (A)</text>
<rect x="118.88" y="565.1" width="2" height="2" fill="#e00000"/>
<text x="111.8" y="564" font-family="'Liberation Serif', 'DejaVu Serif', serif" font-size="4.4" fill="#d02828" text-anchor="start" font-weight="normal" >THR 179 (A)</text>
<rect x="89.4" y="424.5" width="177" height="172.8" fill="none" stroke="#666" stroke-width="0.6"/>
<line x1="89.4" y1="597.3" x2="89.4" y2="599.3" stroke="#444" stroke-width="0.5"/>
<text x="89.4" y="604.7" font-family="'Liberation Serif', 'DejaVu Serif', serif" font-size="6.9" fill="#222" text-anchor="middle" font-weight="normal" >-180</text>
<line x1="87.2" y1="597.3" x2="89.4" y2="597.3" stroke="#444" stroke-width="0.5"/>
<line x1="111.53" y1="597.3" x2="111.53" y2="599.3" stroke="#444" stroke-width="0.5"/>
<text x="111.53" y="604.7" font-family="'Liberation Serif', 'DejaVu Serif', serif" font-size="6.9" fill="#222" text-anchor="middle" font-weight="normal" >-135</text>
<line x1="87.2" y1="575.7" x2="89.4" y2="575.7" stroke="#444" stroke-width="0.5"/>
<text x="85.9" y="578" font-family="'Liberation Serif', 'DejaVu Serif', serif" font-size="6.9" fill="#222" text-anchor="end" font-weight="normal" >-135</text>
<line x1="133.65" y1="597.3" x2="133.65" y2="599.3" stroke="#444" stroke-width="0.5"/>
<text x="133.65" y="604.7" font-family="'Liberation Serif', 'DejaVu Serif', serif" font-size="6.9" fill="#222" text-anchor="middle" font-weight="normal" >-90</text>
<line x1="87.2" y1="554.1" x2="89.4" y2="554.1" stroke="#444" stroke-width="0.5"/>
<text x="85.9" y="556.4" font-family="'Liberation Serif', 'DejaVu Serif', serif" font-size="6.9" fill="#222" text-anchor="end" font-weight="normal" >-90</text>
<line x1="155.78" y1="597.3" x2="155.78" y2="599.3" stroke="#444" stroke-width="0.5"/>
<text x="155.78" y="604.7" font-family="'Liberation Serif', 'DejaVu Serif', serif" font-size="6.9" fill="#222" text-anchor="middle" font-weight="normal" >-45</text>
<line x1="87.2" y1="532.5" x2="89.4" y2="532.5" stroke="#444" stroke-width="0.5"/>
<text x="85.9" y="534.8" font-family="'Liberation Serif', 'DejaVu Serif', serif" font-size="6.9" fill="#222" text-anchor="end" font-weight="normal" >-45</text>
<line x1="177.9" y1="597.3" x2="177.9" y2="599.3" stroke="#444" stroke-width="0.5"/>
<text x="177.9" y="604.7" font-family="'Liberation Serif', 'DejaVu Serif', serif" font-size="6.9" fill="#222" text-anchor="middle" font-weight="normal" >0</text>
<line x1="87.2" y1="510.9" x2="89.4" y2="510.9" stroke="#444" stroke-width="0.5"/>
<text x="85.9" y="513.2" font-family="'Liberation Serif', 'DejaVu Serif', serif" font-size="6.9" fill="#222" text-anchor="end" font-weight="normal" >0</text>
<line x1="200.03" y1="597.3" x2="200.03" y2="599.3" stroke="#444" stroke-width="0.5"/>
<text x="200.03" y="604.7" font-family="'Liberation Serif', 'DejaVu Serif', serif" font-size="6.9" fill="#222" text-anchor="middle" font-weight="normal" >45</text>
<line x1="87.2" y1="489.3" x2="89.4" y2="489.3" stroke="#444" stroke-width="0.5"/>
<text x="85.9" y="491.6" font-family="'Liberation Serif', 'DejaVu Serif', serif" font-size="6.9" fill="#222" text-anchor="end" font-weight="normal" >45</text>
<line x1="222.15" y1="597.3" x2="222.15" y2="599.3" stroke="#444" stroke-width="0.5"/>
<text x="222.15" y="604.7" font-family="'Liberation Serif', 'DejaVu Serif', serif" font-size="6.9" fill="#222" text-anchor="middle" font-weight="normal" >90</text>
<line x1="87.2" y1="467.7" x2="89.4" y2="467.7" stroke="#444" stroke-width="0.5"/>
<text x="85.9" y="470" font-family="'Liberation Serif', 'DejaVu Serif', serif" font-size="6.9" fill="#222" text-anchor="end" font-weight="normal" >90</text>
<line x1="244.28" y1="597.3" x2="244.28" y2="599.3" stroke="#444" stroke-width="0.5"/>
<text x="244.28" y="604.7" font-family="'Liberation Serif', 'DejaVu Serif', serif" font-size="6.9" fill="#222" text-anchor="middle" font-weight="normal" >135</text>
<line x1="87.2" y1="446.1" x2="89.4" y2="446.1" stroke="#444" stroke-width="0.5"/>
<text x="85.9" y="448.4" font-family="'Liberation Serif', 'DejaVu Serif', serif" font-size="6.9" fill="#222" text-anchor="end" font-weight="normal" >135</text>
<line x1="266.4" y1="597.3" x2="266.4" y2="599.3" stroke="#444" stroke-width="0.5"/>
<text x="266.4" y="604.7" font-family="'Liberation Serif', 'DejaVu Serif', serif" font-size="6.9" fill="#222" text-anchor="middle" font-weight="normal" >180</text>
<line x1="87.2" y1="424.5" x2="89.4" y2="424.5" stroke="#444" stroke-width="0.5"/>
<text x="85.9" y="426.8" font-family="'Liberation Serif', 'DejaVu Serif', serif" font-size="6.9" fill="#222" text-anchor="end" font-weight="normal" >180</text>
<text x="177.9" y="612.5" font-family="'Liberation Serif', 'DejaVu Serif', serif" font-size="7" fill="#222" text-anchor="middle" font-weight="normal" >Phi (degrees)</text>
<text x="71.1" y="509.9" font-family="'Liberation Serif', 'DejaVu Serif', serif" font-size="7" fill="#222" text-anchor="middle" font-weight="normal" transform="rotate(-90 71.1 509.9)">Psi (degrees)</text>
<svg x="296.4" y="30.1" width="171.1" height="170.2" viewBox="296.4 30.1 171.1 170.2" overflow="hidden">
<polygon points="313.2,52.79 315.07,65.27 321.29,72.08 329.06,79.46 336.84,84.56 346.8,90.24 359.55,98.18 372.15,102.72 384.91,110.66 397.66,116.9 411.5,125.98 427.21,136.76 442.92,141.86 455.06,143 467.5,141.86 467.5,166.26 461.12,172.5 448.37,174.77 435.77,172.5 423.01,168.53 410.26,164.56 397.66,162.29 384.91,162.29 372.15,160.59 359.55,159.45 346.8,149.24 334.2,143 321.29,143 316.31,141.86 313.2,126.55" fill="#b0c4de"/>
<g fill="#b0c4de"><rect x="409.9" y="125.2" width="1.4" height="1.4"/><rect x="458.12" y="130.98" width="1.4" height="1.4"/><rect x="427.56" y="136.07" width="1.4" height="1.4"/><rect x="386.17" y="111.28" width="1.4" height="1.4"/><rect x="458.25" y="134.4" width="1.4" height="1.4"/><rect x="333" y="71.15" width="1.4" height="1.4"/><rect x="386.69" y="112.13" width="1.4" height="1.4"/><rect x="402.52" y="112.45" width="1.4" height="1.4"/><rect x="317.9" y="68.43" width="1.4" height="1.4"/><rect x="454.18" y="138.03" width="1.4" height="1.4"/><rect x="431.45" y="132.26" width="1.4" height="1.4"/><rect x="336.86" y="75.16" width="1.4" height="1.4"/><rect x="409.08" y="125" width="1.4" height="1.4"/><rect x="447.4" y="142.49" width="1.4" height="1.4"/><rect x="347.52" y="87.4" width="1.4" height="1.4"/><rect x="447.55" y="123.9" width="1.4" height="1.4"/><rect x="359.57" y="90.65" width="1.4" height="1.4"/><rect x="418.19" y="129.45" width="1.4" height="1.4"/><rect x="346.82" y="81.4" width="1.4" height="1.4"/><rect x="461.76" y="138.98" width="1.4" height="1.4"/><rect x="450.77" y="141.15" width="1.4" height="1.4"/><rect x="340.96" y="81.6" width="1.4" height="1.4"/><rect x="337.9" y="80.71" width="1.4" height="1.4"/><rect x="406.92" y="121.57" width="1.4" height="1.4"/><rect x="316.43" y="65.27" width="1.4" height="1.4"/><rect x="362.69" y="94.44" width="1.4" height="1.4"/><rect x="439.42" y="135.5" width="1.4" height="1.4"/><rect x="388.53" y="112.49" width="1.4" height="1.4"/><rect x="422.24" y="116.93" width="1.4" height="1.4"/><rect x="319.37" y="64.7" width="1.4" height="1.4"/><rect x="429.05" y="137.29" width="1.4" height="1.4"/><rect x="434.77" y="138.8" width="1.4" height="1.4"/><rect x="371.17" y="102.24" width="1.4" height="1.4"/><rect x="322.97" y="74.34" width="1.4" height="1.4"/><rect x="343.22" y="84.71" width="1.4" height="1.4"/><rect x="429.95" y="137.06" width="1.4" height="1.4"/><rect x="456.19" y="137.42" width="1.4" height="1.4"/><rect x="369.45" y="100.21" width="1.4" height="1.4"/><rect x="395.09" y="115.9" width="1.4" height="1.4"/><rect x="428.84" y="134.74" width="1.4" height="1.4"/><rect x="436.21" y="139.16" width="1.4" height="1.4"/><rect x="458.62" y="141.61" width="1.4" height="1.4"/><rect x="329.68" y="75.71" width="1.4" height="1.4"/><rect x="454.44" y="135.55" width="1.4" height="1.4"/><rect x="367.21" y="94.03" width="1.4" height="1.4"/><rect x="363.06" y="96.21" width="1.4" height="1.4"/><rect x="363.72" y="99.16" width="1.4" height="1.4"/><rect x="338.38" y="83.81" width="1.4" height="1.4"/><rect x="419.9" y="128.62" width="1.4" height="1.4"/><rect x="323.25" y="74.96" width="1.4" height="1.4"/><rect x="464.79" y="135.69" width="1.4" height="1.4"/><rect x="351.73" y="92.73" width="1.4" height="1.4"/><rect x="405.54" y="119.5" width="1.4" height="1.4"/><rect x="379.56" y="101.54" width="1.4" height="1.4"/><rect x="324.33" y="74.55" width="1.4" height="1.4"/><rect x="390.39" y="113.24" width="1.4" height="1.4"/><rect x="442.42" y="134.79" width="1.4" height="1.4"/><rect x="459.23" y="134.91" width="1.4" height="1.4"/><rect x="411.03" y="125.81" width="1.4" height="1.4"/><rect x="381.49" y="106.26" width="1.4" height="1.4"/><rect x="338.44" y="83.12" width="1.4" height="1.4"/><rect x="384.29" y="106.43" width="1.4" height="1.4"/><rect x="466.69" y="131.17" width="1.4" height="1.4"/><rect x="384.35" y="96.28" width="1.4" height="1.4"/><rect x="389.57" y="112.72" width="1.4" height="1.4"/><rect x="359.83" y="91.26" width="1.4" height="1.4"/><rect x="376.84" y="102.5" width="1.4" height="1.4"/><rect x="465.05" y="137.19" width="1.4" height="1.4"/><rect x="460.74" y="137.26" width="1.4" height="1.4"/><rect x="366.99" y="95.81" width="1.4" height="1.4"/><rect x="329.37" y="78.89" width="1.4" height="1.4"/><rect x="446.79" y="130.96" width="1.4" height="1.4"/><rect x="370.44" y="100.15" width="1.4" height="1.4"/><rect x="420.72" y="121.76" width="1.4" height="1.4"/><rect x="416.11" y="129.66" width="1.4" height="1.4"/><rect x="422.21" y="127.78" width="1.4" height="1.4"/><rect x="358.3" y="86.65" width="1.4" height="1.4"/><rect x="420.16" y="131.79" width="1.4" height="1.4"/><rect x="360.26" y="89.83" width="1.4" height="1.4"/><rect x="403.53" y="118.34" width="1.4" height="1.4"/><rect x="317.67" y="64.37" width="1.4" height="1.4"/><rect x="417.26" y="129.34" width="1.4" height="1.4"/><rect x="385.77" y="107.86" width="1.4" height="1.4"/><rect x="436.27" y="131.38" width="1.4" height="1.4"/><rect x="368.41" y="95.18" width="1.4" height="1.4"/><rect x="440.88" y="133.1" width="1.4" height="1.4"/><rect x="368.74" y="94.6" width="1.4" height="1.4"/><rect x="419.78" y="121.1" width="1.4" height="1.4"/><rect x="463.2" y="134.71" width="1.4" height="1.4"/><rect x="395.79" y="114.54" width="1.4" height="1.4"/><rect x="340.99" y="79.47" width="1.4" height="1.4"/><rect x="387.93" y="99.21" width="1.4" height="1.4"/><rect x="420.24" y="130.8" width="1.4" height="1.4"/><rect x="341.85" y="77.43" width="1.4" height="1.4"/><rect x="433.66" y="130.71" width="1.4" height="1.4"/><rect x="379.41" y="103.21" width="1.4" height="1.4"/><rect x="410.03" y="124.41" width="1.4" height="1.4"/><rect x="424.62" y="126.32" width="1.4" height="1.4"/><rect x="320.09" y="68.04" width="1.4" height="1.4"/><rect x="414.01" y="122.41" width="1.4" height="1.4"/><rect x="348.97" y="88.7" width="1.4" height="1.4"/><rect x="322.24" y="65.24" width="1.4" height="1.4"/><rect x="387.07" y="112.16" width="1.4" height="1.4"/><rect x="336.07" y="82.7" width="1.4" height="1.4"/><rect x="363.8" y="98.54" width="1.4" height="1.4"/><rect x="321.3" y="69.14" width="1.4" height="1.4"/><rect x="386.13" y="105.2" width="1.4" height="1.4"/><rect x="404.96" y="116.19" width="1.4" height="1.4"/><rect x="351.81" y="94.02" width="1.4" height="1.4"/><rect x="377.08" y="106.52" width="1.4" height="1.4"/><rect x="357.94" y="95.21" width="1.4" height="1.4"/><rect x="441.36" y="140.21" width="1.4" height="1.4"/><rect x="372.33" y="94.55" width="1.4" height="1.4"/><rect x="330.23" y="79.01" width="1.4" height="1.4"/><rect x="398.18" y="113.36" width="1.4" height="1.4"/><rect x="460.51" y="135.27" width="1.4" height="1.4"/><rect x="439.42" y="130.5" width="1.4" height="1.4"/><rect x="412.83" y="121.74" width="1.4" height="1.4"/><rect x="371.66" y="97.54" width="1.4" height="1.4"/><rect x="401" y="112.84" width="1.4" height="1.4"/><rect x="460.34" y="133.75" width="1.4" height="1.4"/><rect x="368.9" y="100.37" width="1.4" height="1.4"/><rect x="450.73" y="139.84" width="1.4" height="1.4"/><rect x="401.29" y="120.16" width="1.4" height="1.4"/><rect x="408.74" y="118.98" width="1.4" height="1.4"/><rect x="450.4" y="135.65" width="1.4" height="1.4"/><rect x="372.63" y="99.45" width="1.4" height="1.4"/><rect x="359.9" y="96.96" width="1.4" height="1.4"/><rect x="462.64" y="130.05" width="1.4" height="1.4"/><rect x="453.79" y="131.49" width="1.4" height="1.4"/><rect x="405.82" y="121.96" width="1.4" height="1.4"/><rect x="390.8" y="95.2" width="1.4" height="1.4"/><rect x="378.61" y="99.35" width="1.4" height="1.4"/><rect x="390.12" y="96.19" width="1.4" height="1.4"/><rect x="359.13" y="95.28" width="1.4" height="1.4"/><rect x="409.72" y="125.2" width="1.4" height="1.4"/><rect x="382.83" y="107.06" width="1.4" height="1.4"/><rect x="440.67" y="130.35" width="1.4" height="1.4"/><rect x="317.91" y="64.26" width="1.4" height="1.4"/><rect x="457.03" y="142.08" width="1.4" height="1.4"/><rect x="433.89" y="139.45" width="1.4" height="1.4"/><rect x="339.27" y="81.41" width="1.4" height="1.4"/><rect x="465.11" y="139.96" width="1.4" height="1.4"/><rect x="387.53" y="103.75" width="1.4" height="1.4"/><rect x="413.22" y="119.15" width="1.4" height="1.4"/><rect x="333.75" y="76.61" width="1.4" height="1.4"/><rect x="430.65" y="135.9" width="1.4" height="1.4"/><rect x="366.63" y="93.43" width="1.4" height="1.4"/><rect x="360.71" y="91.81" width="1.4" height="1.4"/><rect x="370.39" y="101.35" width="1.4" height="1.4"/><rect x="428.33" y="136.22" width="1.4" height="1.4"/><rect x="354.01" y="94.6" width="1.4" height="1.4"/><rect x="384.66" y="98.99" width="1.4" height="1.4"/><rect x="398.24" y="111.05" width="1.4" height="1.4"/><rect x="318.12" y="68.54" width="1.4" height="1.4"/><rect x="402.77" y="114.07" width="1.4" height="1.4"/><rect x="422.77" y="129.36" width="1.4" height="1.4"/><rect x="453.48" y="137.59" width="1.4" height="1.4"/><rect x="374.08" y="94.44" width="1.4" height="1.4"/><rect x="345.56" y="82.01" width="1.4" height="1.4"/><rect x="360.65" y="98.05" width="1.4" height="1.4"/><rect x="442.1" y="140.05" width="1.4" height="1.4"/><rect x="420.72" y="128.12" width="1.4" height="1.4"/><rect x="433.72" y="137.24" width="1.4" height="1.4"/><rect x="453.32" y="138.49" width="1.4" height="1.4"/><rect x="398.77" y="112.45" width="1.4" height="1.4"/><rect x="391.01" y="112.52" width="1.4" height="1.4"/><rect x="404.31" y="118.72" width="1.4" height="1.4"/><rect x="438.41" y="136.58" width="1.4" height="1.4"/><rect x="439.58" y="139.39" width="1.4" height="1.4"/><rect x="435.38" y="139.27" width="1.4" height="1.4"/><rect x="424.95" y="134.79" width="1.4" height="1.4"/><rect x="463.58" y="132.01" width="1.4" height="1.4"/><rect x="323.3" y="74.98" width="1.4" height="1.4"/><rect x="442.97" y="140.48" width="1.4" height="1.4"/><rect x="459.59" y="133.33" width="1.4" height="1.4"/><rect x="423.41" y="131.31" width="1.4" height="1.4"/><rect x="454.43" y="139.19" width="1.4" height="1.4"/><rect x="338.51" y="80.94" width="1.4" height="1.4"/><rect x="340.24" y="82.83" width="1.4" height="1.4"/><rect x="409.83" y="122.64" width="1.4" height="1.4"/><rect x="373.13" y="103.32" width="1.4" height="1.4"/><rect x="326.78" y="70.06" width="1.4" height="1.4"/><rect x="427.92" y="134.5" width="1.4" height="1.4"/><rect x="448.46" y="138.07" width="1.4" height="1.4"/><rect x="363.38" y="94.84" width="1.4" height="1.4"/><rect x="406.48" y="107.53" width="1.4" height="1.4"/><rect x="372.38" y="102.68" width="1.4" height="1.4"/><rect x="324.33" y="74.8" width="1.4" height="1.4"/><rect x="411.18" y="122.99" width="1.4" height="1.4"/><rect x="392.24" y="107.7" width="1.4" height="1.4"/><rect x="409.6" y="121" width="1.4" height="1.4"/><rect x="355.64" y="91.67" width="1.4" height="1.4"/><rect x="429.17" y="136.39" width="1.4" height="1.4"/><rect x="393.92" y="112.53" width="1.4" height="1.4"/><rect x="371.93" y="99.74" width="1.4" height="1.4"/><rect x="427.08" y="132.75" width="1.4" height="1.4"/><rect x="414.75" y="119.4" width="1.4" height="1.4"/><rect x="328.78" y="78.7" width="1.4" height="1.4"/><rect x="334.75" y="81.49" width="1.4" height="1.4"/><rect x="405.54" y="121.96" width="1.4" height="1.4"/><rect x="388.41" y="99.26" width="1.4" height="1.4"/><rect x="364.7" y="100.24" width="1.4" height="1.4"/><rect x="425.31" y="134.77" width="1.4" height="1.4"/><rect x="324.02" y="65.98" width="1.4" height="1.4"/><rect x="418.69" y="118.2" width="1.4" height="1.4"/><rect x="349.58" y="79.22" width="1.4" height="1.4"/><rect x="416.26" y="117.99" width="1.4" height="1.4"/><rect x="439.73" y="135.4" width="1.4" height="1.4"/><rect x="369.38" y="95.07" width="1.4" height="1.4"/><rect x="351.38" y="89.27" width="1.4" height="1.4"/><rect x="368.53" y="93.97" width="1.4" height="1.4"/><rect x="374.12" y="96.41" width="1.4" height="1.4"/><rect x="413.67" y="118.68" width="1.4" height="1.4"/><rect x="437.3" y="128.55" width="1.4" height="1.4"/><rect x="394" y="110.48" width="1.4" height="1.4"/><rect x="405.34" y="112.81" width="1.4" height="1.4"/><rect x="375.6" y="100.77" width="1.4" height="1.4"/><rect x="330.56" y="76.85" width="1.4" height="1.4"/><rect x="321.87" y="72.79" width="1.4" height="1.4"/><rect x="450.09" y="131.61" width="1.4" height="1.4"/><rect x="315.99" y="66.11" width="1.4" height="1.4"/><rect x="386.86" y="105.11" width="1.4" height="1.4"/><rect x="380.59" y="102.8" width="1.4" height="1.4"/><rect x="386.17" y="108.86" width="1.4" height="1.4"/><rect x="339.92" y="84.84" width="1.4" height="1.4"/><rect x="372.45" y="93.21" width="1.4" height="1.4"/><rect x="338.87" y="77.32" width="1.4" height="1.4"/><rect x="354.25" y="95.06" width="1.4" height="1.4"/><rect x="359.23" y="94.77" width="1.4" height="1.4"/><rect x="351.4" y="92.25" width="1.4" height="1.4"/><rect x="455.41" y="143.14" width="1.4" height="1.4"/><rect x="371.59" y="93.63" width="1.4" height="1.4"/><rect x="417.59" y="127.12" width="1.4" height="1.4"/><rect x="387.1" y="109.3" width="1.4" height="1.4"/><rect x="416.79" y="129.38" width="1.4" height="1.4"/><rect x="359.84" y="93.94" width="1.4" height="1.4"/><rect x="340.55" y="77.72" width="1.4" height="1.4"/><rect x="346.25" y="85.9" width="1.4" height="1.4"/><rect x="327.72" y="78.51" width="1.4" height="1.4"/><rect x="376.43" y="99.87" width="1.4" height="1.4"/><rect x="362.97" y="99.03" width="1.4" height="1.4"/><rect x="386.54" y="109.95" width="1.4" height="1.4"/><rect x="424.24" y="124.82" width="1.4" height="1.4"/><rect x="340.57" y="86.92" width="1.4" height="1.4"/><rect x="457.82" y="132.97" width="1.4" height="1.4"/><rect x="413.37" y="111.37" width="1.4" height="1.4"/><rect x="316.87" y="60.62" width="1.4" height="1.4"/><rect x="325.1" y="75.52" width="1.4" height="1.4"/><rect x="322.7" y="67.65" width="1.4" height="1.4"/><rect x="398.67" y="110.24" width="1.4" height="1.4"/><rect x="368.73" y="101.64" width="1.4" height="1.4"/><rect x="330.08" y="67.88" width="1.4" height="1.4"/><rect x="390.03" y="107.64" width="1.4" height="1.4"/><rect x="457.1" y="138.39" width="1.4" height="1.4"/><rect x="323.53" y="73.63" width="1.4" height="1.4"/><rect x="375.87" y="101.04" width="1.4" height="1.4"/><rect x="377.4" y="104.93" width="1.4" height="1.4"/><rect x="362.08" y="97.99" width="1.4" height="1.4"/><rect x="462.52" y="142.09" width="1.4" height="1.4"/><rect x="342.99" y="82" width="1.4" height="1.4"/><rect x="396.08" y="116.53" width="1.4" height="1.4"/><rect x="328.65" y="78.81" width="1.4" height="1.4"/><rect x="397.69" y="114.82" width="1.4" height="1.4"/><rect x="454.93" y="132.44" width="1.4" height="1.4"/><rect x="348.27" y="84.25" width="1.4" height="1.4"/><rect x="318.55" y="62.67" width="1.4" height="1.4"/><rect x="402.14" y="118.79" width="1.4" height="1.4"/><rect x="372.75" y="96.22" width="1.4" height="1.4"/><rect x="453.67" y="135.62" width="1.4" height="1.4"/><rect x="362.33" y="87.78" width="1.4" height="1.4"/><rect x="349.71" y="88.91" width="1.4" height="1.4"/><rect x="333.38" y="82.08" width="1.4" height="1.4"/><rect x="432.46" y="136.43" width="1.4" height="1.4"/><rect x="439.56" y="140.05" width="1.4" height="1.4"/><rect x="328.29" y="76.51" width="1.4" height="1.4"/><rect x="352.86" y="88.67" width="1.4" height="1.4"/><rect x="402.98" y="117.64" width="1.4" height="1.4"/><rect x="352.94" y="85.14" width="1.4" height="1.4"/><rect x="323.17" y="70.98" width="1.4" height="1.4"/><rect x="346.07" y="89.18" width="1.4" height="1.4"/><rect x="330.79" y="75.06" width="1.4" height="1.4"/><rect x="379.38" y="103.64" width="1.4" height="1.4"/><rect x="399.82" y="108.74" width="1.4" height="1.4"/><rect x="451.12" y="136.62" width="1.4" height="1.4"/><rect x="402.64" y="111.59" width="1.4" height="1.4"/><rect x="382.64" y="106.07" width="1.4" height="1.4"/><rect x="459.97" y="133.85" width="1.4" height="1.4"/><rect x="425.76" y="135.06" width="1.4" height="1.4"/><rect x="438.45" y="135.95" width="1.4" height="1.4"/><rect x="373.62" y="102.78" width="1.4" height="1.4"/><rect x="341.47" y="86.2" width="1.4" height="1.4"/><rect x="355.54" y="94.05" width="1.4" height="1.4"/><rect x="325.51" y="72.19" width="1.4" height="1.4"/><rect x="431.16" y="137.2" width="1.4" height="1.4"/><rect x="323.56" y="74.77" width="1.4" height="1.4"/><rect x="335.55" y="76.2" width="1.4" height="1.4"/><rect x="459.14" y="132.45" width="1.4" height="1.4"/><rect x="408.26" y="123.89" width="1.4" height="1.4"/><rect x="370.6" y="95.69" width="1.4" height="1.4"/><rect x="368.89" y="163.77" width="1.4" height="1.4"/><rect x="441.49" y="172.23" width="1.4" height="1.4"/><rect x="426.86" y="172.14" width="1.4" height="1.4"/><rect x="345.62" y="149.92" width="1.4" height="1.4"/><rect x="424.32" y="176.17" width="1.4" height="1.4"/><rect x="436.79" y="174.09" width="1.4" height="1.4"/><rect x="337.87" y="146.94" width="1.4" height="1.4"/><rect x="387.99" y="168.5" width="1.4" height="1.4"/><rect x="384.07" y="166.76" width="1.4" height="1.4"/><rect x="457.49" y="173.63" width="1.4" height="1.4"/><rect x="398.46" y="165.97" width="1.4" height="1.4"/><rect x="335.73" y="143.28" width="1.4" height="1.4"/><rect x="439.64" y="172.63" width="1.4" height="1.4"/><rect x="463.58" y="168.2" width="1.4" height="1.4"/><rect x="325.39" y="145.2" width="1.4" height="1.4"/><rect x="449.52" y="174.73" width="1.4" height="1.4"/><rect x="378.01" y="160.31" width="1.4" height="1.4"/><rect x="350" y="153.65" width="1.4" height="1.4"/><rect x="402.82" y="165.63" width="1.4" height="1.4"/><rect x="355.91" y="160.44" width="1.4" height="1.4"/><rect x="372.02" y="158.95" width="1.4" height="1.4"/><rect x="443.44" y="183.46" width="1.4" height="1.4"/><rect x="444.84" y="175.39" width="1.4" height="1.4"/><rect x="341.5" y="147.85" width="1.4" height="1.4"/><rect x="442.19" y="173.05" width="1.4" height="1.4"/><rect x="345.38" y="147.12" width="1.4" height="1.4"/><rect x="335.02" y="143.64" width="1.4" height="1.4"/><rect x="349.73" y="158.66" width="1.4" height="1.4"/><rect x="437.12" y="173.74" width="1.4" height="1.4"/><rect x="446.79" y="178.16" width="1.4" height="1.4"/><rect x="411.69" y="164.59" width="1.4" height="1.4"/><rect x="322.06" y="144.83" width="1.4" height="1.4"/><rect x="395.41" y="162.63" width="1.4" height="1.4"/><rect x="377.48" y="160.87" width="1.4" height="1.4"/><rect x="366.97" y="161.73" width="1.4" height="1.4"/><rect x="376.56" y="160.02" width="1.4" height="1.4"/><rect x="390.2" y="161.61" width="1.4" height="1.4"/><rect x="464.22" y="170.78" width="1.4" height="1.4"/><rect x="439.83" y="176.94" width="1.4" height="1.4"/><rect x="418.58" y="168.34" width="1.4" height="1.4"/><rect x="399.06" y="161.97" width="1.4" height="1.4"/><rect x="407.37" y="165.92" width="1.4" height="1.4"/><rect x="419.93" y="169.17" width="1.4" height="1.4"/><rect x="331.95" y="141.62" width="1.4" height="1.4"/><rect x="333.35" y="144.4" width="1.4" height="1.4"/><rect x="431.65" y="173.72" width="1.4" height="1.4"/><rect x="425.05" y="170.74" width="1.4" height="1.4"/><rect x="360.74" y="166.35" width="1.4" height="1.4"/><rect x="425.29" y="173.6" width="1.4" height="1.4"/><rect x="418.54" y="168.43" width="1.4" height="1.4"/><rect x="460.5" y="175.43" width="1.4" height="1.4"/><rect x="443.15" y="175.77" width="1.4" height="1.4"/><rect x="428.58" y="170.73" width="1.4" height="1.4"/><rect x="396.13" y="162.2" width="1.4" height="1.4"/><rect x="451.61" y="172.97" width="1.4" height="1.4"/><rect x="400.12" y="171.77" width="1.4" height="1.4"/><rect x="378.11" y="163.59" width="1.4" height="1.4"/><rect x="346.63" y="147.91" width="1.4" height="1.4"/><rect x="416.08" y="171.79" width="1.4" height="1.4"/><rect x="410.29" y="168.1" width="1.4" height="1.4"/><rect x="377.12" y="164.21" width="1.4" height="1.4"/><rect x="401.5" y="165.11" width="1.4" height="1.4"/><rect x="425.17" y="173.41" width="1.4" height="1.4"/><rect x="351.69" y="157.78" width="1.4" height="1.4"/><rect x="365.27" y="158.81" width="1.4" height="1.4"/><rect x="451.78" y="177.71" width="1.4" height="1.4"/><rect x="345.07" y="151.44" width="1.4" height="1.4"/><rect x="353.43" y="158.3" width="1.4" height="1.4"/><rect x="329.75" y="148.01" width="1.4" height="1.4"/><rect x="449.05" y="175.7" width="1.4" height="1.4"/><rect x="427.04" y="171.79" width="1.4" height="1.4"/><rect x="397.9" y="162.71" width="1.4" height="1.4"/><rect x="452.87" y="173.05" width="1.4" height="1.4"/><rect x="409.1" y="165.69" width="1.4" height="1.4"/><rect x="461.91" y="169.59" width="1.4" height="1.4"/><rect x="337.49" y="144.05" width="1.4" height="1.4"/><rect x="402.84" y="163.53" width="1.4" height="1.4"/><rect x="348.41" y="150.79" width="1.4" height="1.4"/><rect x="407.51" y="166.04" width="1.4" height="1.4"/><rect x="427.17" y="173.04" width="1.4" height="1.4"/><rect x="329.56" y="148.66" width="1.4" height="1.4"/><rect x="460.54" y="171.27" width="1.4" height="1.4"/><rect x="367.15" y="161.73" width="1.4" height="1.4"/><rect x="456.08" y="176.06" width="1.4" height="1.4"/><rect x="354.08" y="156.29" width="1.4" height="1.4"/><rect x="390.29" y="167.64" width="1.4" height="1.4"/><rect x="335.32" y="142.88" width="1.4" height="1.4"/><rect x="334.16" y="143.67" width="1.4" height="1.4"/><rect x="342.81" y="147.17" width="1.4" height="1.4"/><rect x="431.43" y="170.77" width="1.4" height="1.4"/><rect x="428.23" y="171.44" width="1.4" height="1.4"/><rect x="424.85" y="174.04" width="1.4" height="1.4"/><rect x="455.7" y="176.87" width="1.4" height="1.4"/><rect x="461.7" y="170.91" width="1.4" height="1.4"/><rect x="335.69" y="143.41" width="1.4" height="1.4"/><rect x="350.77" y="152.02" width="1.4" height="1.4"/><rect x="375.33" y="165.07" width="1.4" height="1.4"/><rect x="429.21" y="170.38" width="1.4" height="1.4"/><rect x="332.84" y="145.25" width="1.4" height="1.4"/><rect x="375.44" y="162.13" width="1.4" height="1.4"/><rect x="337.77" y="146.44" width="1.4" height="1.4"/><rect x="420.56" y="168.35" width="1.4" height="1.4"/><rect x="393.04" y="169.76" width="1.4" height="1.4"/><rect x="331.14" y="143.39" width="1.4" height="1.4"/><rect x="431.68" y="170.21" width="1.4" height="1.4"/><rect x="337.67" y="146.5" width="1.4" height="1.4"/><rect x="390.63" y="164.41" width="1.4" height="1.4"/><rect x="454.87" y="176.81" width="1.4" height="1.4"/><rect x="376.45" y="160.6" width="1.4" height="1.4"/><rect x="422.48" y="171.26" width="1.4" height="1.4"/><rect x="435.95" y="173.78" width="1.4" height="1.4"/><rect x="369.85" y="160.13" width="1.4" height="1.4"/><rect x="444.58" y="173.65" width="1.4" height="1.4"/><rect x="382.11" y="160.33" width="1.4" height="1.4"/><rect x="355.36" y="155.6" width="1.4" height="1.4"/><rect x="360.22" y="159.08" width="1.4" height="1.4"/><rect x="334.63" y="153.09" width="1.4" height="1.4"/><rect x="399.74" y="162.57" width="1.4" height="1.4"/><rect x="377.07" y="161.1" width="1.4" height="1.4"/><rect x="372.61" y="159.61" width="1.4" height="1.4"/><rect x="439.13" y="178.16" width="1.4" height="1.4"/><rect x="373.38" y="159.23" width="1.4" height="1.4"/><rect x="322.99" y="141.19" width="1.4" height="1.4"/><rect x="376.56" y="163.83" width="1.4" height="1.4"/><rect x="396.15" y="163.09" width="1.4" height="1.4"/><rect x="463.04" y="169.02" width="1.4" height="1.4"/><rect x="385.31" y="162.11" width="1.4" height="1.4"/><rect x="361.4" y="158.14" width="1.4" height="1.4"/><rect x="460.18" y="172.53" width="1.4" height="1.4"/><rect x="328.34" y="145.53" width="1.4" height="1.4"/><rect x="378.01" y="160.38" width="1.4" height="1.4"/><rect x="407.37" y="166.5" width="1.4" height="1.4"/><rect x="452.52" y="175.53" width="1.4" height="1.4"/><rect x="325.86" y="145.63" width="1.4" height="1.4"/><rect x="324.07" y="141.67" width="1.4" height="1.4"/><rect x="448.41" y="176.87" width="1.4" height="1.4"/><rect x="441.31" y="175.13" width="1.4" height="1.4"/><rect x="466.66" y="166.53" width="1.4" height="1.4"/><rect x="431.16" y="171.2" width="1.4" height="1.4"/><rect x="434.77" y="171.99" width="1.4" height="1.4"/><rect x="382.31" y="172.74" width="1.4" height="1.4"/><rect x="352.27" y="154.57" width="1.4" height="1.4"/><rect x="382.2" y="160.77" width="1.4" height="1.4"/><rect x="362.48" y="162.38" width="1.4" height="1.4"/><rect x="418.04" y="167.09" width="1.4" height="1.4"/><rect x="387.5" y="162.15" width="1.4" height="1.4"/><rect x="331.39" y="147.39" width="1.4" height="1.4"/><rect x="450.03" y="178.27" width="1.4" height="1.4"/><rect x="349.32" y="157.39" width="1.4" height="1.4"/><rect x="461.07" y="170.9" width="1.4" height="1.4"/><rect x="398.36" y="36.21" width="1.4" height="1.4"/><rect x="350.14" y="41.88" width="1.4" height="1.4"/><rect x="378.14" y="43.02" width="1.4" height="1.4"/><rect x="339.25" y="52.09" width="1.4" height="1.4"/><rect x="320.59" y="35.07" width="1.4" height="1.4"/><rect x="329.92" y="73.65" width="1.4" height="1.4"/><rect x="448.13" y="90.67" width="1.4" height="1.4"/><rect x="376.58" y="88.97" width="1.4" height="1.4"/><rect x="420.14" y="101.45" width="1.4" height="1.4"/><rect x="373.47" y="96.91" width="1.4" height="1.4"/><rect x="396.8" y="104.86" width="1.4" height="1.4"/><rect x="357.92" y="92.94" width="1.4" height="1.4"/><rect x="412.36" y="107.69" width="1.4" height="1.4"/><rect x="407.69" y="113.37" width="1.4" height="1.4"/><rect x="454.36" y="112.8" width="1.4" height="1.4"/><rect x="457.47" y="116.2" width="1.4" height="1.4"/><rect x="459.02" y="120.17" width="1.4" height="1.4"/><rect x="463.69" y="123.01" width="1.4" height="1.4"/><rect x="448.13" y="121.31" width="1.4" height="1.4"/><rect x="445.02" y="118.47" width="1.4" height="1.4"/><rect x="429.47" y="111.66" width="1.4" height="1.4"/><rect x="423.25" y="111.1" width="1.4" height="1.4"/></g>
<polygon points="311.95,61.3 315.07,61.3 316,70.95 321.29,75.49 329.06,84 339.17,91.94 345.4,99.31 346.95,112.36 348.51,115.2 348.04,136.76 335.29,136.76 319.42,137.89 318.18,145.84 315.38,145.84 314.75,140.16 311.95,132.22" fill="#4682b4"/>
<g fill="#4682b4"><rect x="348.04" y="97.61" width="2.5" height="40.28"/><rect x="350.15" y="101.02" width="2" height="34.04"/><rect x="351.96" y="98.18" width="1.5" height="39.71"/><rect x="353.26" y="103.29" width="2" height="27.23"/><rect x="355.53" y="106.69" width="1.5" height="20.99"/><rect x="357.25" y="103.85" width="1.5" height="19.86"/><rect x="359.42" y="111.8" width="1.5" height="10.78"/><rect x="361.76" y="131.09" width="1.5" height="9.64"/><rect x="368.2" y="123.71" width="2" height="33.47"/><rect x="357.87" y="143.57" width="1.5" height="4.54"/><rect x="399.62" y="146.97" width="2" height="3.4"/><rect x="404.53" y="147.54" width="1.5" height="2.84"/><rect x="423.51" y="142.43" width="1.5" height="7.94"/><rect x="439.53" y="152.08" width="1.5" height="5.11"/><rect x="340.51" y="84" width="2" height="8.51"/><rect x="336.09" y="72.65" width="1.5" height="11.35"/><rect x="343.09" y="89.67" width="1.5" height="8.51"/><rect x="311.99" y="29.5" width="1.6" height="1.3"/><rect x="314.04" y="29.5" width="1.6" height="1.3"/><rect x="312.06" y="30.52" width="1.6" height="1.3"/><rect x="312.21" y="30.52" width="1.6" height="1.3"/><rect x="312.51" y="30.52" width="1.6" height="1.3"/><rect x="312.01" y="31.54" width="1.6" height="1.3"/><rect x="314.2" y="31.54" width="1.6" height="1.3"/><rect x="311.72" y="31.54" width="1.6" height="1.3"/><rect x="312.78" y="32.56" width="1.6" height="1.3"/><rect x="312.5" y="32.56" width="1.6" height="1.3"/><rect x="313.09" y="32.56" width="1.6" height="1.3"/><rect x="313.06" y="33.58" width="1.6" height="1.3"/><rect x="312.99" y="33.58" width="1.6" height="1.3"/><rect x="311.98" y="34.61" width="1.6" height="1.3"/><rect x="313.44" y="34.61" width="1.6" height="1.3"/><rect x="313.62" y="34.61" width="1.6" height="1.3"/><rect x="312.56" y="35.63" width="1.6" height="1.3"/><rect x="313.69" y="35.63" width="1.6" height="1.3"/><rect x="312.87" y="35.63" width="1.6" height="1.3"/><rect x="312.38" y="36.65" width="1.6" height="1.3"/><rect x="311.53" y="36.65" width="1.6" height="1.3"/><rect x="312.73" y="36.65" width="1.6" height="1.3"/><rect x="313.22" y="37.67" width="1.6" height="1.3"/><rect x="312.95" y="37.67" width="1.6" height="1.3"/><rect x="314.09" y="37.67" width="1.6" height="1.3"/><rect x="311.93" y="38.69" width="1.6" height="1.3"/><rect x="312.72" y="39.71" width="1.6" height="1.3"/><rect x="312.95" y="39.71" width="1.6" height="1.3"/><rect x="313.21" y="40.73" width="1.6" height="1.3"/><rect x="313.01" y="40.73" width="1.6" height="1.3"/><rect x="311.85" y="40.73" width="1.6" height="1.3"/><rect x="312.55" y="41.75" width="1.6" height="1.3"/><rect x="312.05" y="41.75" width="1.6" height="1.3"/><rect x="311.63" y="41.75" width="1.6" height="1.3"/><rect x="312.31" y="42.78" width="1.6" height="1.3"/><rect x="314.17" y="42.78" width="1.6" height="1.3"/><rect x="312.24" y="42.78" width="1.6" height="1.3"/><rect x="312.93" y="43.8" width="1.6" height="1.3"/><rect x="313.79" y="43.8" width="1.6" height="1.3"/><rect x="312.55" y="43.8" width="1.6" height="1.3"/><rect x="312.16" y="44.82" width="1.6" height="1.3"/><rect x="313.92" y="44.82" width="1.6" height="1.3"/><rect x="313.98" y="44.82" width="1.6" height="1.3"/><rect x="311.99" y="45.84" width="1.6" height="1.3"/><rect x="313.54" y="45.84" width="1.6" height="1.3"/><rect x="311.49" y="45.84" width="1.6" height="1.3"/><rect x="313.06" y="46.86" width="1.6" height="1.3"/><rect x="313.91" y="46.86" width="1.6" height="1.3"/><rect x="313.11" y="46.86" width="1.6" height="1.3"/><rect x="312.9" y="47.88" width="1.6" height="1.3"/><rect x="313.18" y="47.88" width="1.6" height="1.3"/><rect x="314.12" y="47.88" width="1.6" height="1.3"/><rect x="311.88" y="48.9" width="1.6" height="1.3"/><rect x="311.73" y="48.9" width="1.6" height="1.3"/><rect x="312.75" y="48.9" width="1.6" height="1.3"/><rect x="313.16" y="49.92" width="1.6" height="1.3"/><rect x="311.66" y="49.92" width="1.6" height="1.3"/><rect x="313.83" y="49.92" width="1.6" height="1.3"/><rect x="312.95" y="50.95" width="1.6" height="1.3"/><rect x="312.3" y="50.95" width="1.6" height="1.3"/><rect x="313.59" y="50.95" width="1.6" height="1.3"/><rect x="313.18" y="51.97" width="1.6" height="1.3"/><rect x="311.9" y="51.97" width="1.6" height="1.3"/><rect x="312.2" y="51.97" width="1.6" height="1.3"/><rect x="311.71" y="52.99" width="1.6" height="1.3"/><rect x="311.69" y="52.99" width="1.6" height="1.3"/><rect x="312.74" y="54.01" width="1.6" height="1.3"/><rect x="311.96" y="54.01" width="1.6" height="1.3"/><rect x="312.84" y="54.01" width="1.6" height="1.3"/><rect x="312.47" y="55.03" width="1.6" height="1.3"/><rect x="314.02" y="55.03" width="1.6" height="1.3"/><rect x="312.22" y="55.03" width="1.6" height="1.3"/><rect x="312.61" y="56.05" width="1.6" height="1.3"/><rect x="313.32" y="56.05" width="1.6" height="1.3"/><rect x="313" y="57.07" width="1.6" height="1.3"/><rect x="312.29" y="57.07" width="1.6" height="1.3"/><rect x="312.19" y="57.07" width="1.6" height="1.3"/><rect x="313.16" y="58.09" width="1.6" height="1.3"/><rect x="313.23" y="58.09" width="1.6" height="1.3"/><rect x="314.14" y="58.09" width="1.6" height="1.3"/><rect x="312.97" y="59.11" width="1.6" height="1.3"/><rect x="311.75" y="59.11" width="1.6" height="1.3"/><rect x="313.83" y="59.11" width="1.6" height="1.3"/><rect x="311.85" y="60.14" width="1.6" height="1.3"/><rect x="313.25" y="60.14" width="1.6" height="1.3"/><rect x="312.18" y="61.16" width="1.6" height="1.3"/><rect x="312.39" y="61.16" width="1.6" height="1.3"/><rect x="311.65" y="61.16" width="1.6" height="1.3"/><rect x="312.42" y="62.18" width="1.6" height="1.3"/><rect x="311.64" y="62.18" width="1.6" height="1.3"/><rect x="311.97" y="62.18" width="1.6" height="1.3"/><rect x="313.98" y="63.2" width="1.6" height="1.3"/><rect x="311.76" y="63.2" width="1.6" height="1.3"/><rect x="328.61" y="91.95" width="1.4" height="1.4"/><rect x="315.29" y="80.21" width="1.4" height="1.4"/><rect x="324.29" y="93.32" width="1.4" height="1.4"/><rect x="331.87" y="76.9" width="1.4" height="1.4"/><rect x="346.74" y="92.01" width="1.4" height="1.4"/><rect x="317.88" y="76.38" width="1.4" height="1.4"/><rect x="318.29" y="81.75" width="1.4" height="1.4"/><rect x="317.23" y="71.22" width="1.4" height="1.4"/><rect x="332.94" y="88.47" width="1.4" height="1.4"/><rect x="323.68" y="83.08" width="1.4" height="1.4"/><rect x="347.66" y="93.16" width="1.4" height="1.4"/><rect x="321.53" y="83.25" width="1.4" height="1.4"/><rect x="345.79" y="93.64" width="1.4" height="1.4"/><rect x="336.06" y="78.5" width="1.4" height="1.4"/><rect x="325.51" y="77.74" width="1.4" height="1.4"/><rect x="332.47" y="95.09" width="1.4" height="1.4"/><rect x="316.2" y="72" width="1.4" height="1.4"/><rect x="330.31" y="87.54" width="1.4" height="1.4"/><rect x="345.77" y="89.27" width="1.4" height="1.4"/><rect x="331.48" y="91.51" width="1.4" height="1.4"/><rect x="339.83" y="94.68" width="1.4" height="1.4"/><rect x="330.47" y="80.43" width="1.4" height="1.4"/><rect x="335.06" y="96" width="1.4" height="1.4"/><rect x="321.3" y="79.09" width="1.4" height="1.4"/><rect x="339.31" y="98.01" width="1.4" height="1.4"/><rect x="348.5" y="100.1" width="1.4" height="1.4"/><rect x="320.1" y="92.46" width="1.4" height="1.4"/><rect x="329.64" y="83.33" width="1.4" height="1.4"/><rect x="343.7" y="97.97" width="1.4" height="1.4"/><rect x="338.28" y="97.63" width="1.4" height="1.4"/></g>
</svg>
<circle cx="356.13" cy="120.87" r="1.9" fill="#000"/>
<rect x="296.4" y="30.1" width="171.1" height="170.2" fill="none" stroke="#444" stroke-width="0.7"/>
<rect x="437.5" y="31.6" width="28.5" height="15" fill="#fff" stroke="#ddd" stroke-width="0.4"/>
<rect x="438.5" y="34.2" width="10.8" height="4.4" fill="#b0c4de"/>
<rect x="438.5" y="41.3" width="10.8" height="4.4" fill="#4682b4"/>
<text x="451.5" y="38.2" font-family="'DejaVu Sans', 'Liberation Sans', sans-serif" font-size="4.6" fill="#111" text-anchor="start" font-weight="normal" >X-ray</text>
<text x="451.5" y="45.3" font-family="'DejaVu Sans', 'Liberation Sans', sans-serif" font-size="4.6" fill="#111" text-anchor="start" font-weight="normal" >NMR</text>
<line x1="294.4" y1="30.1" x2="296.4" y2="30.1" stroke="#444" stroke-width="0.5"/>
<text x="293.4" y="31.7" font-family="'DejaVu Sans', 'Liberation Sans', sans-serif" font-size="4.6" fill="#222" text-anchor="end" font-weight="normal" >10</text>
<line x1="294.4" y1="58.47" x2="296.4" y2="58.47" stroke="#444" stroke-width="0.5"/>
<text x="293.4" y="60.07" font-family="'DejaVu Sans', 'Liberation Sans', sans-serif" font-size="4.6" fill="#222" text-anchor="end" font-weight="normal" >5</text>
<line x1="294.4" y1="86.83" x2="296.4" y2="86.83" stroke="#444" stroke-width="0.5"/>
<text x="293.4" y="88.43" font-family="'DejaVu Sans', 'Liberation Sans', sans-serif" font-size="4.6" fill="#222" text-anchor="end" font-weight="normal" >0</text>
<line x1="294.4" y1="115.2" x2="296.4" y2="115.2" stroke="#444" stroke-width="0.5"/>
<text x="293.4" y="116.8" font-family="'DejaVu Sans', 'Liberation Sans', sans-serif" font-size="4.6" fill="#222" text-anchor="end" font-weight="normal" >−5</text>
<line x1="294.4" y1="143.57" x2="296.4" y2="143.57" stroke="#444" stroke-width="0.5"/>
<text x="293.4" y="145.17" font-family="'DejaVu Sans', 'Liberation Sans', sans-serif" font-size="4.6" fill="#222" text-anchor="end" font-weight="normal" >−10</text>
<line x1="294.4" y1="171.93" x2="296.4" y2="171.93" stroke="#444" stroke-width="0.5"/>
<text x="293.4" y="173.53" font-family="'DejaVu Sans', 'Liberation Sans', sans-serif" font-size="4.6" fill="#222" text-anchor="end" font-weight="normal" >−15</text>
<line x1="294.4" y1="200.3" x2="296.4" y2="200.3" stroke="#444" stroke-width="0.5"/>
<text x="293.4" y="201.9" font-family="'DejaVu Sans', 'Liberation Sans', sans-serif" font-size="4.6" fill="#222" text-anchor="end" font-weight="normal" >−20</text>
<line x1="311.95" y1="200.3" x2="311.95" y2="202.3" stroke="#444" stroke-width="0.5"/>
<text x="311.95" y="207.3" font-family="'DejaVu Sans', 'Liberation Sans', sans-serif" font-size="4.6" fill="#222" text-anchor="middle" font-weight="normal" >0</text>
<line x1="343.06" y1="200.3" x2="343.06" y2="202.3" stroke="#444" stroke-width="0.5"/>
<text x="343.06" y="207.3" font-family="'DejaVu Sans', 'Liberation Sans', sans-serif" font-size="4.6" fill="#222" text-anchor="middle" font-weight="normal" >200</text>
<line x1="374.17" y1="200.3" x2="374.17" y2="202.3" stroke="#444" stroke-width="0.5"/>
<text x="374.17" y="207.3" font-family="'DejaVu Sans', 'Liberation Sans', sans-serif" font-size="4.6" fill="#222" text-anchor="middle" font-weight="normal" >400</text>
<line x1="405.28" y1="200.3" x2="405.28" y2="202.3" stroke="#444" stroke-width="0.5"/>
<text x="405.28" y="207.3" font-family="'DejaVu Sans', 'Liberation Sans', sans-serif" font-size="4.6" fill="#222" text-anchor="middle" font-weight="normal" >600</text>
<line x1="436.39" y1="200.3" x2="436.39" y2="202.3" stroke="#444" stroke-width="0.5"/>
<text x="436.39" y="207.3" font-family="'DejaVu Sans', 'Liberation Sans', sans-serif" font-size="4.6" fill="#222" text-anchor="middle" font-weight="normal" >800</text>
<line x1="467.5" y1="200.3" x2="467.5" y2="202.3" stroke="#444" stroke-width="0.5"/>
<text x="467.5" y="207.3" font-family="'DejaVu Sans', 'Liberation Sans', sans-serif" font-size="4.6" fill="#222" text-anchor="middle" font-weight="normal" >1000</text>
<text x="381.95" y="213.8" font-family="'DejaVu Sans', 'Liberation Sans', sans-serif" font-size="4.8" fill="#222" text-anchor="middle" font-weight="normal" >Number of residues</text>
<text x="281.4" y="115.2" font-family="'DejaVu Sans', 'Liberation Sans', sans-serif" font-size="4.8" fill="#222" text-anchor="middle" font-weight="normal" transform="rotate(-90 281.4 115.2)">Z-score</text>
<svg x="297.4" y="426.3" width="173.1" height="172.5" viewBox="297.4 426.3 173.1 172.5" overflow="hidden">
<polygon points="314.4,449.3 316.28,461.95 322.58,468.85 330.45,476.32 338.31,481.5 348.39,487.25 361.29,495.3 374.04,499.9 386.94,507.95 399.84,514.27 413.85,523.48 429.74,534.4 445.64,539.58 457.91,540.73 470.5,539.58 470.5,564.3 464.05,570.62 451.14,572.92 438.4,570.62 425.49,566.6 412.59,562.58 399.84,560.28 386.94,560.28 374.04,558.55 361.29,557.4 348.39,547.05 335.64,540.73 322.58,540.73 317.54,539.58 314.4,524.05" fill="#b0c4de"/>
<g fill="#b0c4de"><rect x="412.24" y="522.69" width="1.4" height="1.4"/><rect x="461.02" y="528.56" width="1.4" height="1.4"/><rect x="430.1" y="533.71" width="1.4" height="1.4"/><rect x="388.23" y="508.59" width="1.4" height="1.4"/><rect x="461.15" y="532.02" width="1.4" height="1.4"/><rect x="334.44" y="467.91" width="1.4" height="1.4"/><rect x="388.76" y="509.45" width="1.4" height="1.4"/><rect x="404.77" y="509.78" width="1.4" height="1.4"/><rect x="319.16" y="465.16" width="1.4" height="1.4"/><rect x="457.03" y="535.69" width="1.4" height="1.4"/><rect x="434.04" y="529.85" width="1.4" height="1.4"/><rect x="338.34" y="471.97" width="1.4" height="1.4"/><rect x="411.41" y="522.49" width="1.4" height="1.4"/><rect x="450.17" y="540.22" width="1.4" height="1.4"/><rect x="349.13" y="484.38" width="1.4" height="1.4"/><rect x="450.32" y="521.37" width="1.4" height="1.4"/><rect x="361.32" y="487.67" width="1.4" height="1.4"/><rect x="420.62" y="527" width="1.4" height="1.4"/><rect x="348.42" y="478.3" width="1.4" height="1.4"/><rect x="464.7" y="536.66" width="1.4" height="1.4"/><rect x="453.58" y="538.86" width="1.4" height="1.4"/><rect x="342.49" y="478.51" width="1.4" height="1.4"/><rect x="339.4" y="477.61" width="1.4" height="1.4"/><rect x="409.22" y="519.02" width="1.4" height="1.4"/><rect x="317.67" y="461.95" width="1.4" height="1.4"/><rect x="364.47" y="491.52" width="1.4" height="1.4"/><rect x="442.1" y="533.13" width="1.4" height="1.4"/><rect x="390.61" y="509.82" width="1.4" height="1.4"/><rect x="424.72" y="514.32" width="1.4" height="1.4"/><rect x="320.65" y="461.38" width="1.4" height="1.4"/><rect x="431.61" y="534.95" width="1.4" height="1.4"/><rect x="437.4" y="536.48" width="1.4" height="1.4"/><rect x="373.05" y="499.43" width="1.4" height="1.4"/><rect x="324.29" y="471.15" width="1.4" height="1.4"/><rect x="344.77" y="481.65" width="1.4" height="1.4"/><rect x="432.51" y="534.71" width="1.4" height="1.4"/><rect x="459.06" y="535.08" width="1.4" height="1.4"/><rect x="371.31" y="497.36" width="1.4" height="1.4"/><rect x="397.25" y="513.27" width="1.4" height="1.4"/><rect x="431.39" y="532.36" width="1.4" height="1.4"/><rect x="438.85" y="536.84" width="1.4" height="1.4"/><rect x="461.53" y="539.33" width="1.4" height="1.4"/><rect x="331.08" y="472.53" width="1.4" height="1.4"/><rect x="457.3" y="533.19" width="1.4" height="1.4"/><rect x="369.05" y="491.11" width="1.4" height="1.4"/><rect x="364.85" y="493.32" width="1.4" height="1.4"/><rect x="365.51" y="496.3" width="1.4" height="1.4"/><rect x="339.88" y="480.74" width="1.4" height="1.4"/><rect x="422.35" y="526.16" width="1.4" height="1.4"/><rect x="324.57" y="471.77" width="1.4" height="1.4"/><rect x="467.77" y="533.32" width="1.4" height="1.4"/><rect x="353.38" y="489.78" width="1.4" height="1.4"/><rect x="407.82" y="516.92" width="1.4" height="1.4"/><rect x="381.54" y="498.71" width="1.4" height="1.4"/><rect x="325.66" y="471.36" width="1.4" height="1.4"/><rect x="392.5" y="510.57" width="1.4" height="1.4"/><rect x="445.14" y="532.41" width="1.4" height="1.4"/><rect x="462.14" y="532.54" width="1.4" height="1.4"/><rect x="413.38" y="523.31" width="1.4" height="1.4"/><rect x="383.49" y="503.5" width="1.4" height="1.4"/><rect x="339.94" y="480.04" width="1.4" height="1.4"/><rect x="386.33" y="503.67" width="1.4" height="1.4"/><rect x="469.69" y="528.74" width="1.4" height="1.4"/><rect x="386.39" y="493.38" width="1.4" height="1.4"/><rect x="391.67" y="510.05" width="1.4" height="1.4"/><rect x="361.58" y="488.29" width="1.4" height="1.4"/><rect x="378.79" y="499.69" width="1.4" height="1.4"/><rect x="468.03" y="534.84" width="1.4" height="1.4"/><rect x="463.67" y="534.92" width="1.4" height="1.4"/><rect x="368.82" y="492.91" width="1.4" height="1.4"/><rect x="330.76" y="475.76" width="1.4" height="1.4"/><rect x="449.56" y="528.53" width="1.4" height="1.4"/><rect x="372.31" y="497.31" width="1.4" height="1.4"/><rect x="423.18" y="519.21" width="1.4" height="1.4"/><rect x="418.51" y="527.22" width="1.4" height="1.4"/><rect x="424.69" y="525.31" width="1.4" height="1.4"/><rect x="360.03" y="483.62" width="1.4" height="1.4"/><rect x="422.62" y="529.37" width="1.4" height="1.4"/><rect x="362.01" y="486.85" width="1.4" height="1.4"/><rect x="405.79" y="515.74" width="1.4" height="1.4"/><rect x="318.92" y="461.05" width="1.4" height="1.4"/><rect x="419.68" y="526.89" width="1.4" height="1.4"/><rect x="387.82" y="505.12" width="1.4" height="1.4"/><rect x="438.91" y="528.96" width="1.4" height="1.4"/><rect x="370.26" y="492.27" width="1.4" height="1.4"/><rect x="443.57" y="530.7" width="1.4" height="1.4"/><rect x="370.59" y="491.68" width="1.4" height="1.4"/><rect x="422.23" y="518.54" width="1.4" height="1.4"/><rect x="466.16" y="532.33" width="1.4" height="1.4"/><rect x="397.96" y="511.89" width="1.4" height="1.4"/><rect x="342.52" y="476.34" width="1.4" height="1.4"/><rect x="390" y="496.35" width="1.4" height="1.4"/><rect x="422.7" y="528.37" width="1.4" height="1.4"/><rect x="343.39" y="474.28" width="1.4" height="1.4"/><rect x="436.28" y="528.28" width="1.4" height="1.4"/><rect x="381.39" y="500.41" width="1.4" height="1.4"/><rect x="412.37" y="521.89" width="1.4" height="1.4"/><rect x="427.12" y="523.83" width="1.4" height="1.4"/><rect x="321.37" y="464.76" width="1.4" height="1.4"/><rect x="416.39" y="519.87" width="1.4" height="1.4"/><rect x="350.59" y="485.7" width="1.4" height="1.4"/><rect x="323.55" y="461.92" width="1.4" height="1.4"/><rect x="389.14" y="509.48" width="1.4" height="1.4"/><rect x="337.54" y="479.62" width="1.4" height="1.4"/><rect x="365.6" y="495.67" width="1.4" height="1.4"/><rect x="322.6" y="465.87" width="1.4" height="1.4"/><rect x="388.19" y="502.42" width="1.4" height="1.4"/><rect x="407.24" y="513.56" width="1.4" height="1.4"/><rect x="353.46" y="491.1" width="1.4" height="1.4"/><rect x="379.03" y="503.76" width="1.4" height="1.4"/><rect x="359.67" y="492.3" width="1.4" height="1.4"/><rect x="444.06" y="537.91" width="1.4" height="1.4"/><rect x="374.23" y="491.63" width="1.4" height="1.4"/><rect x="331.63" y="475.88" width="1.4" height="1.4"/><rect x="400.38" y="510.69" width="1.4" height="1.4"/><rect x="463.43" y="532.9" width="1.4" height="1.4"/><rect x="442.1" y="528.06" width="1.4" height="1.4"/><rect x="415.2" y="519.18" width="1.4" height="1.4"/><rect x="373.55" y="494.66" width="1.4" height="1.4"/><rect x="403.23" y="510.17" width="1.4" height="1.4"/><rect x="463.27" y="531.36" width="1.4" height="1.4"/><rect x="370.75" y="497.53" width="1.4" height="1.4"/><rect x="453.54" y="537.53" width="1.4" height="1.4"/><rect x="403.52" y="517.58" width="1.4" height="1.4"/><rect x="411.06" y="516.39" width="1.4" height="1.4"/><rect x="453.2" y="533.28" width="1.4" height="1.4"/><rect x="374.53" y="496.6" width="1.4" height="1.4"/><rect x="361.65" y="494.08" width="1.4" height="1.4"/><rect x="465.6" y="527.61" width="1.4" height="1.4"/><rect x="456.63" y="529.07" width="1.4" height="1.4"/><rect x="408.1" y="519.41" width="1.4" height="1.4"/><rect x="392.91" y="492.28" width="1.4" height="1.4"/><rect x="380.58" y="496.5" width="1.4" height="1.4"/><rect x="392.22" y="493.29" width="1.4" height="1.4"/><rect x="360.87" y="492.37" width="1.4" height="1.4"/><rect x="412.05" y="522.7" width="1.4" height="1.4"/><rect x="384.85" y="504.31" width="1.4" height="1.4"/><rect x="443.36" y="527.91" width="1.4" height="1.4"/><rect x="319.17" y="460.93" width="1.4" height="1.4"/><rect x="459.92" y="539.81" width="1.4" height="1.4"/><rect x="436.51" y="537.13" width="1.4" height="1.4"/><rect x="340.78" y="478.31" width="1.4" height="1.4"/><rect x="468.09" y="537.65" width="1.4" height="1.4"/><rect x="389.61" y="500.95" width="1.4" height="1.4"/><rect x="415.59" y="516.56" width="1.4" height="1.4"/><rect x="335.2" y="473.45" width="1.4" height="1.4"/><rect x="433.23" y="533.54" width="1.4" height="1.4"/><rect x="368.46" y="490.5" width="1.4" height="1.4"/><rect x="362.47" y="488.85" width="1.4" height="1.4"/><rect x="372.27" y="498.53" width="1.4" height="1.4"/><rect x="430.88" y="533.87" width="1.4" height="1.4"/><rect x="355.69" y="491.68" width="1.4" height="1.4"/><rect x="386.7" y="496.13" width="1.4" height="1.4"/><rect x="400.44" y="508.35" width="1.4" height="1.4"/><rect x="319.38" y="465.27" width="1.4" height="1.4"/><rect x="405.02" y="511.41" width="1.4" height="1.4"/><rect x="425.26" y="526.91" width="1.4" height="1.4"/><rect x="456.32" y="535.25" width="1.4" height="1.4"/><rect x="376" y="491.52" width="1.4" height="1.4"/><rect x="347.15" y="478.92" width="1.4" height="1.4"/><rect x="362.41" y="495.18" width="1.4" height="1.4"/><rect x="444.81" y="537.75" width="1.4" height="1.4"/><rect x="423.19" y="525.65" width="1.4" height="1.4"/><rect x="436.33" y="534.9" width="1.4" height="1.4"/><rect x="456.17" y="536.16" width="1.4" height="1.4"/><rect x="400.97" y="509.78" width="1.4" height="1.4"/><rect x="393.12" y="509.84" width="1.4" height="1.4"/><rect x="406.58" y="516.13" width="1.4" height="1.4"/><rect x="441.08" y="534.23" width="1.4" height="1.4"/><rect x="442.26" y="537.08" width="1.4" height="1.4"/><rect x="438.01" y="536.96" width="1.4" height="1.4"/><rect x="427.46" y="532.42" width="1.4" height="1.4"/><rect x="466.55" y="529.6" width="1.4" height="1.4"/><rect x="324.62" y="471.79" width="1.4" height="1.4"/><rect x="445.69" y="538.19" width="1.4" height="1.4"/><rect x="462.51" y="530.94" width="1.4" height="1.4"/><rect x="425.91" y="528.89" width="1.4" height="1.4"/><rect x="457.28" y="536.87" width="1.4" height="1.4"/><rect x="340.01" y="477.84" width="1.4" height="1.4"/><rect x="341.76" y="479.75" width="1.4" height="1.4"/><rect x="412.16" y="520.1" width="1.4" height="1.4"/><rect x="375.04" y="500.52" width="1.4" height="1.4"/><rect x="328.15" y="466.81" width="1.4" height="1.4"/><rect x="430.47" y="532.12" width="1.4" height="1.4"/><rect x="451.25" y="535.74" width="1.4" height="1.4"/><rect x="365.17" y="491.92" width="1.4" height="1.4"/><rect x="408.78" y="504.79" width="1.4" height="1.4"/><rect x="374.28" y="499.87" width="1.4" height="1.4"/><rect x="325.67" y="471.62" width="1.4" height="1.4"/><rect x="413.53" y="520.45" width="1.4" height="1.4"/><rect x="394.37" y="504.96" width="1.4" height="1.4"/><rect x="411.93" y="518.44" width="1.4" height="1.4"/><rect x="357.34" y="488.71" width="1.4" height="1.4"/><rect x="431.73" y="534.04" width="1.4" height="1.4"/><rect x="396.07" y="509.86" width="1.4" height="1.4"/><rect x="373.82" y="496.89" width="1.4" height="1.4"/><rect x="429.62" y="530.35" width="1.4" height="1.4"/><rect x="417.14" y="516.82" width="1.4" height="1.4"/><rect x="330.17" y="475.57" width="1.4" height="1.4"/><rect x="336.21" y="478.4" width="1.4" height="1.4"/><rect x="407.82" y="519.41" width="1.4" height="1.4"/><rect x="390.5" y="496.4" width="1.4" height="1.4"/><rect x="366.5" y="497.4" width="1.4" height="1.4"/><rect x="427.82" y="532.4" width="1.4" height="1.4"/><rect x="325.35" y="462.67" width="1.4" height="1.4"/><rect x="421.12" y="515.6" width="1.4" height="1.4"/><rect x="351.21" y="476.09" width="1.4" height="1.4"/><rect x="418.67" y="515.38" width="1.4" height="1.4"/><rect x="442.42" y="533.03" width="1.4" height="1.4"/><rect x="371.24" y="492.16" width="1.4" height="1.4"/><rect x="353.03" y="486.28" width="1.4" height="1.4"/><rect x="370.38" y="491.04" width="1.4" height="1.4"/><rect x="376.04" y="493.52" width="1.4" height="1.4"/><rect x="416.05" y="516.08" width="1.4" height="1.4"/><rect x="439.96" y="526.09" width="1.4" height="1.4"/><rect x="396.15" y="507.78" width="1.4" height="1.4"/><rect x="407.62" y="510.14" width="1.4" height="1.4"/><rect x="377.53" y="497.93" width="1.4" height="1.4"/><rect x="331.96" y="473.69" width="1.4" height="1.4"/><rect x="323.18" y="469.58" width="1.4" height="1.4"/><rect x="452.9" y="529.19" width="1.4" height="1.4"/><rect x="317.22" y="462.81" width="1.4" height="1.4"/><rect x="388.93" y="502.34" width="1.4" height="1.4"/><rect x="382.59" y="500" width="1.4" height="1.4"/><rect x="388.22" y="506.13" width="1.4" height="1.4"/><rect x="341.43" y="481.78" width="1.4" height="1.4"/><rect x="374.34" y="490.27" width="1.4" height="1.4"/><rect x="340.38" y="474.17" width="1.4" height="1.4"/><rect x="355.94" y="492.15" width="1.4" height="1.4"/><rect x="360.97" y="491.85" width="1.4" height="1.4"/><rect x="353.05" y="489.3" width="1.4" height="1.4"/><rect x="458.28" y="540.88" width="1.4" height="1.4"/><rect x="373.48" y="490.7" width="1.4" height="1.4"/><rect x="420.01" y="524.64" width="1.4" height="1.4"/><rect x="389.16" y="506.58" width="1.4" height="1.4"/><rect x="419.21" y="526.93" width="1.4" height="1.4"/><rect x="361.59" y="491.01" width="1.4" height="1.4"/><rect x="342.07" y="474.57" width="1.4" height="1.4"/><rect x="347.84" y="482.86" width="1.4" height="1.4"/><rect x="329.09" y="475.38" width="1.4" height="1.4"/><rect x="378.38" y="497.02" width="1.4" height="1.4"/><rect x="364.76" y="496.17" width="1.4" height="1.4"/><rect x="388.6" y="507.24" width="1.4" height="1.4"/><rect x="426.74" y="522.31" width="1.4" height="1.4"/><rect x="342.09" y="483.89" width="1.4" height="1.4"/><rect x="460.71" y="530.57" width="1.4" height="1.4"/><rect x="415.75" y="508.68" width="1.4" height="1.4"/><rect x="318.11" y="457.25" width="1.4" height="1.4"/><rect x="326.45" y="472.35" width="1.4" height="1.4"/><rect x="324.02" y="464.36" width="1.4" height="1.4"/><rect x="400.87" y="507.53" width="1.4" height="1.4"/><rect x="370.58" y="498.81" width="1.4" height="1.4"/><rect x="331.48" y="464.6" width="1.4" height="1.4"/><rect x="392.13" y="504.9" width="1.4" height="1.4"/><rect x="459.99" y="536.06" width="1.4" height="1.4"/><rect x="324.86" y="470.42" width="1.4" height="1.4"/><rect x="377.81" y="498.21" width="1.4" height="1.4"/><rect x="379.35" y="502.15" width="1.4" height="1.4"/><rect x="363.86" y="495.12" width="1.4" height="1.4"/><rect x="465.47" y="539.82" width="1.4" height="1.4"/><rect x="344.54" y="478.91" width="1.4" height="1.4"/><rect x="398.26" y="513.91" width="1.4" height="1.4"/><rect x="330.03" y="475.68" width="1.4" height="1.4"/><rect x="399.88" y="512.17" width="1.4" height="1.4"/><rect x="457.79" y="530.03" width="1.4" height="1.4"/><rect x="349.89" y="481.2" width="1.4" height="1.4"/><rect x="319.81" y="459.32" width="1.4" height="1.4"/><rect x="404.38" y="516.2" width="1.4" height="1.4"/><rect x="374.65" y="493.33" width="1.4" height="1.4"/><rect x="456.52" y="533.26" width="1.4" height="1.4"/><rect x="364.11" y="484.76" width="1.4" height="1.4"/><rect x="351.35" y="485.92" width="1.4" height="1.4"/><rect x="334.82" y="478.99" width="1.4" height="1.4"/><rect x="435.06" y="534.07" width="1.4" height="1.4"/><rect x="442.24" y="537.75" width="1.4" height="1.4"/><rect x="329.67" y="473.35" width="1.4" height="1.4"/><rect x="354.53" y="485.67" width="1.4" height="1.4"/><rect x="405.23" y="515.03" width="1.4" height="1.4"/><rect x="354.61" y="482.09" width="1.4" height="1.4"/><rect x="324.49" y="467.75" width="1.4" height="1.4"/><rect x="347.66" y="486.19" width="1.4" height="1.4"/><rect x="332.2" y="471.88" width="1.4" height="1.4"/><rect x="381.36" y="500.85" width="1.4" height="1.4"/><rect x="402.04" y="506.02" width="1.4" height="1.4"/><rect x="453.94" y="534.26" width="1.4" height="1.4"/><rect x="404.89" y="508.9" width="1.4" height="1.4"/><rect x="384.65" y="503.31" width="1.4" height="1.4"/><rect x="462.9" y="531.46" width="1.4" height="1.4"/><rect x="428.28" y="532.68" width="1.4" height="1.4"/><rect x="441.11" y="533.59" width="1.4" height="1.4"/><rect x="375.53" y="499.98" width="1.4" height="1.4"/><rect x="343.01" y="483.17" width="1.4" height="1.4"/><rect x="357.24" y="491.12" width="1.4" height="1.4"/><rect x="326.85" y="468.97" width="1.4" height="1.4"/><rect x="433.74" y="534.86" width="1.4" height="1.4"/><rect x="324.89" y="471.58" width="1.4" height="1.4"/><rect x="337.02" y="473.03" width="1.4" height="1.4"/><rect x="462.05" y="530.04" width="1.4" height="1.4"/><rect x="410.57" y="521.37" width="1.4" height="1.4"/><rect x="372.48" y="492.79" width="1.4" height="1.4"/><rect x="370.75" y="561.78" width="1.4" height="1.4"/><rect x="444.2" y="570.36" width="1.4" height="1.4"/><rect x="429.39" y="570.27" width="1.4" height="1.4"/><rect x="347.2" y="547.75" width="1.4" height="1.4"/><rect x="426.82" y="574.35" width="1.4" height="1.4"/><rect x="439.44" y="572.24" width="1.4" height="1.4"/><rect x="339.36" y="544.73" width="1.4" height="1.4"/><rect x="390.07" y="566.58" width="1.4" height="1.4"/><rect x="386.1" y="564.82" width="1.4" height="1.4"/><rect x="460.38" y="571.78" width="1.4" height="1.4"/><rect x="400.66" y="564.02" width="1.4" height="1.4"/><rect x="337.2" y="541.02" width="1.4" height="1.4"/><rect x="442.32" y="570.76" width="1.4" height="1.4"/><rect x="466.55" y="566.28" width="1.4" height="1.4"/><rect x="326.74" y="542.96" width="1.4" height="1.4"/><rect x="452.31" y="572.89" width="1.4" height="1.4"/><rect x="379.97" y="558.28" width="1.4" height="1.4"/><rect x="351.63" y="551.53" width="1.4" height="1.4"/><rect x="405.07" y="563.68" width="1.4" height="1.4"/><rect x="357.61" y="558.41" width="1.4" height="1.4"/><rect x="373.91" y="556.9" width="1.4" height="1.4"/><rect x="446.16" y="581.74" width="1.4" height="1.4"/><rect x="447.59" y="573.56" width="1.4" height="1.4"/><rect x="343.04" y="545.65" width="1.4" height="1.4"/><rect x="444.9" y="571.19" width="1.4" height="1.4"/><rect x="346.96" y="544.91" width="1.4" height="1.4"/><rect x="336.48" y="541.38" width="1.4" height="1.4"/><rect x="351.36" y="556.61" width="1.4" height="1.4"/><rect x="439.78" y="571.89" width="1.4" height="1.4"/><rect x="449.55" y="576.37" width="1.4" height="1.4"/><rect x="414.05" y="562.62" width="1.4" height="1.4"/><rect x="323.37" y="542.59" width="1.4" height="1.4"/><rect x="397.58" y="560.63" width="1.4" height="1.4"/><rect x="379.43" y="558.85" width="1.4" height="1.4"/><rect x="368.81" y="559.72" width="1.4" height="1.4"/><rect x="378.51" y="557.98" width="1.4" height="1.4"/><rect x="392.3" y="559.6" width="1.4" height="1.4"/><rect x="467.19" y="568.89" width="1.4" height="1.4"/><rect x="442.51" y="575.13" width="1.4" height="1.4"/><rect x="421.01" y="566.42" width="1.4" height="1.4"/><rect x="401.27" y="559.96" width="1.4" height="1.4"/><rect x="409.68" y="563.97" width="1.4" height="1.4"/><rect x="422.39" y="567.26" width="1.4" height="1.4"/><rect x="333.38" y="539.33" width="1.4" height="1.4"/><rect x="334.79" y="542.15" width="1.4" height="1.4"/><rect x="434.24" y="571.87" width="1.4" height="1.4"/><rect x="427.56" y="568.85" width="1.4" height="1.4"/><rect x="362.5" y="564.4" width="1.4" height="1.4"/><rect x="427.8" y="571.74" width="1.4" height="1.4"/><rect x="420.98" y="566.5" width="1.4" height="1.4"/><rect x="463.43" y="573.6" width="1.4" height="1.4"/><rect x="445.87" y="573.95" width="1.4" height="1.4"/><rect x="431.14" y="568.84" width="1.4" height="1.4"/><rect x="398.31" y="560.19" width="1.4" height="1.4"/><rect x="454.44" y="571.11" width="1.4" height="1.4"/><rect x="402.34" y="569.89" width="1.4" height="1.4"/><rect x="380.07" y="561.6" width="1.4" height="1.4"/><rect x="348.23" y="545.71" width="1.4" height="1.4"/><rect x="418.48" y="569.92" width="1.4" height="1.4"/><rect x="412.63" y="566.17" width="1.4" height="1.4"/><rect x="379.07" y="562.23" width="1.4" height="1.4"/><rect x="403.74" y="563.14" width="1.4" height="1.4"/><rect x="427.68" y="571.55" width="1.4" height="1.4"/><rect x="353.34" y="555.71" width="1.4" height="1.4"/><rect x="367.08" y="556.76" width="1.4" height="1.4"/><rect x="454.6" y="575.92" width="1.4" height="1.4"/><rect x="346.64" y="549.29" width="1.4" height="1.4"/><rect x="355.11" y="556.24" width="1.4" height="1.4"/><rect x="331.15" y="545.82" width="1.4" height="1.4"/><rect x="451.84" y="573.88" width="1.4" height="1.4"/><rect x="429.57" y="569.91" width="1.4" height="1.4"/><rect x="400.09" y="560.71" width="1.4" height="1.4"/><rect x="455.71" y="571.19" width="1.4" height="1.4"/><rect x="411.43" y="563.73" width="1.4" height="1.4"/><rect x="464.85" y="567.68" width="1.4" height="1.4"/><rect x="338.98" y="541.8" width="1.4" height="1.4"/><rect x="405.1" y="561.54" width="1.4" height="1.4"/><rect x="350.03" y="548.63" width="1.4" height="1.4"/><rect x="409.82" y="564.09" width="1.4" height="1.4"/><rect x="429.7" y="571.18" width="1.4" height="1.4"/><rect x="330.96" y="546.48" width="1.4" height="1.4"/><rect x="463.47" y="569.39" width="1.4" height="1.4"/><rect x="368.98" y="559.72" width="1.4" height="1.4"/><rect x="458.96" y="574.24" width="1.4" height="1.4"/><rect x="355.76" y="554.21" width="1.4" height="1.4"/><rect x="392.39" y="565.71" width="1.4" height="1.4"/><rect x="336.79" y="540.61" width="1.4" height="1.4"/><rect x="335.61" y="541.41" width="1.4" height="1.4"/><rect x="344.36" y="544.96" width="1.4" height="1.4"/><rect x="434.01" y="568.89" width="1.4" height="1.4"/><rect x="430.78" y="569.56" width="1.4" height="1.4"/><rect x="427.36" y="572.19" width="1.4" height="1.4"/><rect x="458.57" y="575.06" width="1.4" height="1.4"/><rect x="464.64" y="569.02" width="1.4" height="1.4"/><rect x="337.16" y="541.15" width="1.4" height="1.4"/><rect x="352.41" y="549.88" width="1.4" height="1.4"/><rect x="377.27" y="563.1" width="1.4" height="1.4"/><rect x="431.77" y="568.49" width="1.4" height="1.4"/><rect x="334.27" y="543.01" width="1.4" height="1.4"/><rect x="377.38" y="560.12" width="1.4" height="1.4"/><rect x="339.27" y="544.22" width="1.4" height="1.4"/><rect x="423.02" y="566.43" width="1.4" height="1.4"/><rect x="395.17" y="567.85" width="1.4" height="1.4"/><rect x="332.56" y="541.13" width="1.4" height="1.4"/><rect x="434.27" y="568.31" width="1.4" height="1.4"/><rect x="339.16" y="544.29" width="1.4" height="1.4"/><rect x="392.73" y="562.43" width="1.4" height="1.4"/><rect x="457.73" y="575" width="1.4" height="1.4"/><rect x="378.4" y="558.57" width="1.4" height="1.4"/><rect x="424.96" y="569.38" width="1.4" height="1.4"/><rect x="438.59" y="571.93" width="1.4" height="1.4"/><rect x="371.72" y="558.1" width="1.4" height="1.4"/><rect x="447.32" y="571.8" width="1.4" height="1.4"/><rect x="384.12" y="558.3" width="1.4" height="1.4"/><rect x="357.06" y="553.51" width="1.4" height="1.4"/><rect x="361.97" y="557.03" width="1.4" height="1.4"/><rect x="336.08" y="550.96" width="1.4" height="1.4"/><rect x="401.96" y="560.57" width="1.4" height="1.4"/><rect x="379.02" y="559.08" width="1.4" height="1.4"/><rect x="374.5" y="557.57" width="1.4" height="1.4"/><rect x="441.81" y="576.37" width="1.4" height="1.4"/><rect x="375.28" y="557.18" width="1.4" height="1.4"/><rect x="324.31" y="538.9" width="1.4" height="1.4"/><rect x="378.51" y="561.85" width="1.4" height="1.4"/><rect x="398.32" y="561.1" width="1.4" height="1.4"/><rect x="466" y="567.1" width="1.4" height="1.4"/><rect x="387.35" y="560.1" width="1.4" height="1.4"/><rect x="363.17" y="556.08" width="1.4" height="1.4"/><rect x="463.11" y="570.66" width="1.4" height="1.4"/><rect x="329.72" y="543.3" width="1.4" height="1.4"/><rect x="379.97" y="558.35" width="1.4" height="1.4"/><rect x="409.68" y="564.56" width="1.4" height="1.4"/><rect x="455.36" y="573.7" width="1.4" height="1.4"/><rect x="327.21" y="543.4" width="1.4" height="1.4"/><rect x="325.4" y="539.38" width="1.4" height="1.4"/><rect x="451.19" y="575.07" width="1.4" height="1.4"/><rect x="444.01" y="573.3" width="1.4" height="1.4"/><rect x="469.66" y="564.58" width="1.4" height="1.4"/><rect x="433.74" y="569.31" width="1.4" height="1.4"/><rect x="437.39" y="570.11" width="1.4" height="1.4"/><rect x="384.32" y="570.88" width="1.4" height="1.4"/><rect x="353.93" y="552.46" width="1.4" height="1.4"/><rect x="384.21" y="558.75" width="1.4" height="1.4"/><rect x="364.26" y="560.38" width="1.4" height="1.4"/><rect x="420.47" y="565.15" width="1.4" height="1.4"/><rect x="389.58" y="560.14" width="1.4" height="1.4"/><rect x="332.81" y="545.18" width="1.4" height="1.4"/><rect x="452.84" y="576.48" width="1.4" height="1.4"/><rect x="350.95" y="555.32" width="1.4" height="1.4"/><rect x="464" y="569.01" width="1.4" height="1.4"/><rect x="400.56" y="432.5" width="1.4" height="1.4"/><rect x="351.78" y="438.25" width="1.4" height="1.4"/><rect x="380.1" y="439.4" width="1.4" height="1.4"/><rect x="340.76" y="448.6" width="1.4" height="1.4"/><rect x="321.88" y="431.35" width="1.4" height="1.4"/><rect x="331.32" y="470.45" width="1.4" height="1.4"/><rect x="450.92" y="487.7" width="1.4" height="1.4"/><rect x="378.53" y="485.98" width="1.4" height="1.4"/><rect x="422.59" y="498.62" width="1.4" height="1.4"/><rect x="375.38" y="494.03" width="1.4" height="1.4"/><rect x="398.99" y="502.08" width="1.4" height="1.4"/><rect x="359.65" y="490" width="1.4" height="1.4"/><rect x="414.72" y="504.95" width="1.4" height="1.4"/><rect x="410" y="510.7" width="1.4" height="1.4"/><rect x="457.21" y="510.12" width="1.4" height="1.4"/><rect x="460.36" y="513.57" width="1.4" height="1.4"/><rect x="461.93" y="517.6" width="1.4" height="1.4"/><rect x="466.65" y="520.48" width="1.4" height="1.4"/><rect x="450.92" y="518.75" width="1.4" height="1.4"/><rect x="447.77" y="515.88" width="1.4" height="1.4"/><rect x="432.03" y="508.98" width="1.4" height="1.4"/><rect x="425.74" y="508.4" width="1.4" height="1.4"/></g>
<polygon points="313.14,457.93 316.28,457.93 317.23,467.7 322.58,472.3 330.45,480.93 340.67,488.98 346.97,496.45 348.54,509.68 350.12,512.55 349.64,534.4 336.74,534.4 320.69,535.55 319.43,543.6 316.6,543.6 315.97,537.85 313.14,529.8" fill="#4682b4"/>
<g fill="#4682b4"><rect x="349.65" y="494.73" width="2.5" height="40.82"/><rect x="351.79" y="498.18" width="2" height="34.5"/><rect x="353.62" y="495.3" width="1.5" height="40.25"/><rect x="354.94" y="500.48" width="2" height="27.6"/><rect x="357.23" y="503.93" width="1.5" height="21.28"/><rect x="358.97" y="501.05" width="1.5" height="20.13"/><rect x="361.17" y="509.1" width="1.5" height="10.92"/><rect x="363.53" y="528.65" width="1.5" height="9.77"/><rect x="370.05" y="521.18" width="2" height="33.92"/><rect x="359.6" y="541.3" width="1.5" height="4.6"/><rect x="401.83" y="544.75" width="2" height="3.45"/><rect x="406.8" y="545.33" width="1.5" height="2.88"/><rect x="426" y="540.15" width="1.5" height="8.05"/><rect x="442.21" y="549.92" width="1.5" height="5.18"/><rect x="342.04" y="480.93" width="2" height="8.62"/><rect x="337.56" y="469.43" width="1.5" height="11.5"/><rect x="344.65" y="486.68" width="1.5" height="8.62"/><rect x="313.18" y="425.7" width="1.6" height="1.3"/><rect x="315.26" y="425.7" width="1.6" height="1.3"/><rect x="313.26" y="426.74" width="1.6" height="1.3"/><rect x="313.41" y="426.74" width="1.6" height="1.3"/><rect x="313.71" y="426.74" width="1.6" height="1.3"/><rect x="313.2" y="427.77" width="1.6" height="1.3"/><rect x="315.41" y="427.77" width="1.6" height="1.3"/><rect x="312.91" y="427.77" width="1.6" height="1.3"/><rect x="313.98" y="428.81" width="1.6" height="1.3"/><rect x="313.7" y="428.81" width="1.6" height="1.3"/><rect x="314.3" y="428.81" width="1.6" height="1.3"/><rect x="314.26" y="429.84" width="1.6" height="1.3"/><rect x="314.2" y="429.84" width="1.6" height="1.3"/><rect x="313.18" y="430.88" width="1.6" height="1.3"/><rect x="314.65" y="430.88" width="1.6" height="1.3"/><rect x="314.84" y="430.88" width="1.6" height="1.3"/><rect x="313.76" y="431.91" width="1.6" height="1.3"/><rect x="314.9" y="431.91" width="1.6" height="1.3"/><rect x="314.07" y="431.91" width="1.6" height="1.3"/><rect x="313.57" y="432.94" width="1.6" height="1.3"/><rect x="312.71" y="432.94" width="1.6" height="1.3"/><rect x="313.93" y="432.94" width="1.6" height="1.3"/><rect x="314.42" y="433.98" width="1.6" height="1.3"/><rect x="314.15" y="433.98" width="1.6" height="1.3"/><rect x="315.31" y="433.98" width="1.6" height="1.3"/><rect x="313.12" y="435.01" width="1.6" height="1.3"/><rect x="313.92" y="436.05" width="1.6" height="1.3"/><rect x="314.15" y="436.05" width="1.6" height="1.3"/><rect x="314.42" y="437.08" width="1.6" height="1.3"/><rect x="314.21" y="437.08" width="1.6" height="1.3"/><rect x="313.04" y="437.08" width="1.6" height="1.3"/><rect x="313.74" y="438.12" width="1.6" height="1.3"/><rect x="313.24" y="438.12" width="1.6" height="1.3"/><rect x="312.82" y="438.12" width="1.6" height="1.3"/><rect x="313.5" y="439.15" width="1.6" height="1.3"/><rect x="315.39" y="439.15" width="1.6" height="1.3"/><rect x="313.43" y="439.15" width="1.6" height="1.3"/><rect x="314.13" y="440.19" width="1.6" height="1.3"/><rect x="315" y="440.19" width="1.6" height="1.3"/><rect x="313.75" y="440.19" width="1.6" height="1.3"/><rect x="313.35" y="441.22" width="1.6" height="1.3"/><rect x="315.13" y="441.22" width="1.6" height="1.3"/><rect x="315.19" y="441.22" width="1.6" height="1.3"/><rect x="313.18" y="442.26" width="1.6" height="1.3"/><rect x="314.75" y="442.26" width="1.6" height="1.3"/><rect x="312.68" y="442.26" width="1.6" height="1.3"/><rect x="314.26" y="443.29" width="1.6" height="1.3"/><rect x="315.12" y="443.29" width="1.6" height="1.3"/><rect x="314.32" y="443.29" width="1.6" height="1.3"/><rect x="314.1" y="444.33" width="1.6" height="1.3"/><rect x="314.38" y="444.33" width="1.6" height="1.3"/><rect x="315.34" y="444.33" width="1.6" height="1.3"/><rect x="313.07" y="445.36" width="1.6" height="1.3"/><rect x="312.91" y="445.36" width="1.6" height="1.3"/><rect x="313.95" y="445.36" width="1.6" height="1.3"/><rect x="314.37" y="446.4" width="1.6" height="1.3"/><rect x="312.85" y="446.4" width="1.6" height="1.3"/><rect x="315.04" y="446.4" width="1.6" height="1.3"/><rect x="314.15" y="447.43" width="1.6" height="1.3"/><rect x="313.5" y="447.43" width="1.6" height="1.3"/><rect x="314.8" y="447.43" width="1.6" height="1.3"/><rect x="314.39" y="448.47" width="1.6" height="1.3"/><rect x="313.09" y="448.47" width="1.6" height="1.3"/><rect x="313.4" y="448.47" width="1.6" height="1.3"/><rect x="312.9" y="449.5" width="1.6" height="1.3"/><rect x="312.88" y="449.5" width="1.6" height="1.3"/><rect x="313.94" y="450.54" width="1.6" height="1.3"/><rect x="313.15" y="450.54" width="1.6" height="1.3"/><rect x="314.04" y="450.54" width="1.6" height="1.3"/><rect x="313.67" y="451.57" width="1.6" height="1.3"/><rect x="315.23" y="451.57" width="1.6" height="1.3"/><rect x="313.41" y="451.57" width="1.6" height="1.3"/><rect x="313.81" y="452.61" width="1.6" height="1.3"/><rect x="314.53" y="452.61" width="1.6" height="1.3"/><rect x="314.2" y="453.64" width="1.6" height="1.3"/><rect x="313.48" y="453.64" width="1.6" height="1.3"/><rect x="313.39" y="453.64" width="1.6" height="1.3"/><rect x="314.37" y="454.68" width="1.6" height="1.3"/><rect x="314.43" y="454.68" width="1.6" height="1.3"/><rect x="315.36" y="454.68" width="1.6" height="1.3"/><rect x="314.18" y="455.71" width="1.6" height="1.3"/><rect x="312.94" y="455.71" width="1.6" height="1.3"/><rect x="315.04" y="455.71" width="1.6" height="1.3"/><rect x="313.04" y="456.75" width="1.6" height="1.3"/><rect x="314.45" y="456.75" width="1.6" height="1.3"/><rect x="313.38" y="457.78" width="1.6" height="1.3"/><rect x="313.58" y="457.78" width="1.6" height="1.3"/><rect x="312.83" y="457.78" width="1.6" height="1.3"/><rect x="313.61" y="458.82" width="1.6" height="1.3"/><rect x="312.83" y="458.82" width="1.6" height="1.3"/><rect x="313.16" y="458.82" width="1.6" height="1.3"/><rect x="315.19" y="459.85" width="1.6" height="1.3"/><rect x="312.95" y="459.85" width="1.6" height="1.3"/><rect x="329.99" y="488.99" width="1.4" height="1.4"/><rect x="316.51" y="477.1" width="1.4" height="1.4"/><rect x="325.62" y="490.38" width="1.4" height="1.4"/><rect x="333.29" y="473.74" width="1.4" height="1.4"/><rect x="348.33" y="489.06" width="1.4" height="1.4"/><rect x="319.14" y="473.21" width="1.4" height="1.4"/><rect x="319.56" y="478.66" width="1.4" height="1.4"/><rect x="318.48" y="467.98" width="1.4" height="1.4"/><rect x="334.37" y="485.47" width="1.4" height="1.4"/><rect x="325.01" y="480.01" width="1.4" height="1.4"/><rect x="349.27" y="490.22" width="1.4" height="1.4"/><rect x="322.83" y="480.18" width="1.4" height="1.4"/><rect x="347.37" y="490.71" width="1.4" height="1.4"/><rect x="337.53" y="475.36" width="1.4" height="1.4"/><rect x="326.86" y="474.59" width="1.4" height="1.4"/><rect x="333.9" y="492.18" width="1.4" height="1.4"/><rect x="317.44" y="468.78" width="1.4" height="1.4"/><rect x="331.72" y="484.53" width="1.4" height="1.4"/><rect x="347.35" y="486.28" width="1.4" height="1.4"/><rect x="332.9" y="488.55" width="1.4" height="1.4"/><rect x="341.35" y="491.76" width="1.4" height="1.4"/><rect x="331.87" y="477.32" width="1.4" height="1.4"/><rect x="336.52" y="493.1" width="1.4" height="1.4"/><rect x="322.6" y="475.96" width="1.4" height="1.4"/><rect x="340.82" y="495.13" width="1.4" height="1.4"/><rect x="350.12" y="497.26" width="1.4" height="1.4"/><rect x="321.39" y="489.51" width="1.4" height="1.4"/><rect x="331.04" y="480.26" width="1.4" height="1.4"/><rect x="345.26" y="495.09" width="1.4" height="1.4"/><rect x="339.77" y="494.75" width="1.4" height="1.4"/></g>
</svg>
<circle cx="373.25" cy="523.48" r="1.9" fill="#000"/>
<rect x="297.4" y="426.3" width="173.1" height="172.5" fill="none" stroke="#444" stroke-width="0.7"/>
<rect x="440.5" y="427.8" width="28.5" height="15" fill="#fff" stroke="#ddd" stroke-width="0.4"/>
<rect x="441.5" y="430.4" width="10.8" height="4.4" fill="#b0c4de"/>
<rect x="441.5" y="437.5" width="10.8" height="4.4" fill="#4682b4"/>
<text x="454.5" y="434.4" font-family="'DejaVu Sans', 'Liberation Sans', sans-serif" font-size="4.6" fill="#111" text-anchor="start" font-weight="normal" >X-ray</text>
<text x="454.5" y="441.5" font-family="'DejaVu Sans', 'Liberation Sans', sans-serif" font-size="4.6" fill="#111" text-anchor="start" font-weight="normal" >NMR</text>
<line x1="295.4" y1="426.3" x2="297.4" y2="426.3" stroke="#444" stroke-width="0.5"/>
<text x="294.4" y="427.9" font-family="'DejaVu Sans', 'Liberation Sans', sans-serif" font-size="4.6" fill="#222" text-anchor="end" font-weight="normal" >10</text>
<line x1="295.4" y1="455.05" x2="297.4" y2="455.05" stroke="#444" stroke-width="0.5"/>
<text x="294.4" y="456.65" font-family="'DejaVu Sans', 'Liberation Sans', sans-serif" font-size="4.6" fill="#222" text-anchor="end" font-weight="normal" >5</text>
<line x1="295.4" y1="483.8" x2="297.4" y2="483.8" stroke="#444" stroke-width="0.5"/>
<text x="294.4" y="485.4" font-family="'DejaVu Sans', 'Liberation Sans', sans-serif" font-size="4.6" fill="#222" text-anchor="end" font-weight="normal" >0</text>
<line x1="295.4" y1="512.55" x2="297.4" y2="512.55" stroke="#444" stroke-width="0.5"/>
<text x="294.4" y="514.15" font-family="'DejaVu Sans', 'Liberation Sans', sans-serif" font-size="4.6" fill="#222" text-anchor="end" font-weight="normal" >−5</text>
<line x1="295.4" y1="541.3" x2="297.4" y2="541.3" stroke="#444" stroke-width="0.5"/>
<text x="294.4" y="542.9" font-family="'DejaVu Sans', 'Liberation Sans', sans-serif" font-size="4.6" fill="#222" text-anchor="end" font-weight="normal" >−10</text>
<line x1="295.4" y1="570.05" x2="297.4" y2="570.05" stroke="#444" stroke-width="0.5"/>
<text x="294.4" y="571.65" font-family="'DejaVu Sans', 'Liberation Sans', sans-serif" font-size="4.6" fill="#222" text-anchor="end" font-weight="normal" >−15</text>
<line x1="295.4" y1="598.8" x2="297.4" y2="598.8" stroke="#444" stroke-width="0.5"/>
<text x="294.4" y="600.4" font-family="'DejaVu Sans', 'Liberation Sans', sans-serif" font-size="4.6" fill="#222" text-anchor="end" font-weight="normal" >−20</text>
<line x1="313.14" y1="598.8" x2="313.14" y2="600.8" stroke="#444" stroke-width="0.5"/>
<text x="313.14" y="605.8" font-family="'DejaVu Sans', 'Liberation Sans', sans-serif" font-size="4.6" fill="#222" text-anchor="middle" font-weight="normal" >0</text>
<line x1="344.61" y1="598.8" x2="344.61" y2="600.8" stroke="#444" stroke-width="0.5"/>
<text x="344.61" y="605.8" font-family="'DejaVu Sans', 'Liberation Sans', sans-serif" font-size="4.6" fill="#222" text-anchor="middle" font-weight="normal" >200</text>
<line x1="376.08" y1="598.8" x2="376.08" y2="600.8" stroke="#444" stroke-width="0.5"/>
<text x="376.08" y="605.8" font-family="'DejaVu Sans', 'Liberation Sans', sans-serif" font-size="4.6" fill="#222" text-anchor="middle" font-weight="normal" >400</text>
<line x1="407.55" y1="598.8" x2="407.55" y2="600.8" stroke="#444" stroke-width="0.5"/>
<text x="407.55" y="605.8" font-family="'DejaVu Sans', 'Liberation Sans', sans-serif" font-size="4.6" fill="#222" text-anchor="middle" font-weight="normal" >600</text>
<line x1="439.03" y1="598.8" x2="439.03" y2="600.8" stroke="#444" stroke-width="0.5"/>
<text x="439.03" y="605.8" font-family="'DejaVu Sans', 'Liberation Sans', sans-serif" font-size="4.6" fill="#222" text-anchor="middle" font-weight="normal" >800</text>
<line x1="470.5" y1="598.8" x2="470.5" y2="600.8" stroke="#444" stroke-width="0.5"/>
<text x="470.5" y="605.8" font-family="'DejaVu Sans', 'Liberation Sans', sans-serif" font-size="4.6" fill="#222" text-anchor="middle" font-weight="normal" >1000</text>
<text x="383.95" y="612.3" font-family="'DejaVu Sans', 'Liberation Sans', sans-serif" font-size="4.8" fill="#222" text-anchor="middle" font-weight="normal" >Number of residues</text>
<text x="282.4" y="512.55" font-family="'DejaVu Sans', 'Liberation Sans', sans-serif" font-size="4.8" fill="#222" text-anchor="middle" font-weight="normal" transform="rotate(-90 282.4 512.55)">Z-score</text>
<svg x="502.2" y="30.1" width="174.3" height="173.2" viewBox="502.2 30.1 174.3 173.2" overflow="hidden">
<line x1="502.2" y1="116.7" x2="676.5" y2="116.7" stroke="#555" stroke-width="0.9"/>
<polyline points="510.02,141.82 510.55,140.68 511.09,140.98 511.62,137.7 512.08,136.93 512.54,138.07 513,137.24 513.46,134.64 513.92,135.87 514.6,130.82 515.18,127.58 515.75,123.95 516.32,121.6 516.89,120.51 517.47,121.62 518.04,119.83 518.5,119.67 518.96,121.66 519.42,126.86 519.87,130.82 520.33,137.24 520.79,142.28 521.25,149.13 521.71,153.74 522.16,157.64 522.62,165.2 523.2,169.54 523.77,173.22 524.46,165.2 524.91,133.12 525.6,87.29 526.29,41.46 526.75,11.67 527.21,10.81 527.66,11.68 528.12,12.56 528.58,11.38 529.04,10.38 529.5,10.41 529.96,12.98 530.41,11.67 531.1,64.37 531.79,110.2 532.48,144.57 533.16,160.61 533.62,159.65 534.08,157.18 534.77,144.57 535.34,138.81 535.91,130.82 536.37,127.11 536.83,126.24 537.29,127.87 537.75,133.12 538.21,135.57 538.66,137.7 539.24,140.13 539.81,144.57 540.38,143.93 540.96,145.72 541.53,151.53 542.1,153.74 542.67,153.38 543.25,149.16 543.82,139.2 544.39,133.12 544.97,131.69 545.54,128.53 546.11,133.04 546.68,139.99 547.26,145.41 547.83,146.87 548.4,146.81 548.98,149.16 549.55,153.46 550.12,158.32 550.69,152.56 551.27,149.16 551.84,144.57 552.41,137.7 552.99,140.98 553.56,142.28 554.13,141.17 554.7,137.7 555.28,135.15 555.85,135.41 556.42,133.79 557,128.53 557.57,132.31 558.14,133.12 558.71,136.76 559.29,137.7 559.86,141.6 560.43,146.87 561.01,149.92 561.58,151.45 562.15,150.68 562.72,149.16 563.3,146.15 563.87,139.99 564.44,138.73 565.02,137.7 565.7,146.87 566.16,126.24 566.85,98.74 567.31,80.4 567.77,64.37 568.22,56.52 568.68,50.62 569.14,48.96 569.6,48.33 570.29,52.91 570.74,45.64 571.2,41.46 571.89,36.87 572.46,51.86 573.04,64.37 573.61,73.83 574.18,87.29 574.75,94.82 575.33,98.74 575.9,100.67 576.47,101.04 577.05,101.67 577.62,98.74 578.19,101.63 578.76,103.33 579.34,104 579.91,107.91 580.48,108.59 581.06,112.49 581.63,115.23 582.2,117.08 582.77,120.91 583.35,121.66 583.92,124.71 584.49,126.24 585.04,125.28 585.6,129.72 586.15,128.65 586.72,130.72 587.29,130.94 587.87,121.05 588.44,110.29 589.13,103.41 589.59,108.28 590.05,109.15 590.74,112.59 591.42,121.76 591.88,128.4 592.34,133.23 592.8,138.41 593.26,144.71 593.72,150 594.18,155.03 594.75,155.6 595.32,153.88 595.9,153.17 596.47,151.59 597.04,146.67 597.62,140.12 598.19,131.79 598.76,126.35 599.34,123.8 599.91,119.47 600.49,119.34 601.06,117.18 601.63,114.23 602.21,108 602.78,103.22 603.35,96.53 603.93,93.17 604.5,91.94 605.07,92.16 605.65,90.79 606.22,91.41 606.79,88.5 607.37,91.25 607.94,94.23 608.63,110.29 609.32,126.35 609.78,131.27 610.24,137.82 610.92,147 611.38,147.6 611.84,144.71 612.53,149.29 613.1,143.87 613.68,142.41 614.25,138.57 614.82,137.82 615.4,138.36 615.97,135.53 616.54,137.87 617.12,137.82 617.69,139.61 618.26,144.71 618.84,148.2 619.41,153.88 619.99,158.82 620.56,163.06 621.13,168.99 621.71,172.23 622.28,178.06 622.85,181.41 623.43,181.76 624,186 624.57,182.06 625.15,179.12 625.72,172.41 626.29,165.35 626.87,156.37 627.44,144.71 628.01,137.35 628.59,126.35 629.16,117.69 629.74,110.29 630.31,104.76 630.88,101.12 631.46,101.63 632.03,98.82 632.6,100.88 633.18,105.71 633.75,112.8 634.32,121.76 634.9,129.83 635.47,135.53 636.04,139.47 636.62,140.12 637.19,139.94 637.76,137.82 638.34,142.01 638.91,142.41 639.48,146.16 640.06,149.29 640.63,150.16 641.21,153.88 641.78,156.26 642.35,158.47 642.93,163.11 643.5,166.5 644.19,163.06 644.65,159.53 645.11,153.88 645.79,144.71 646.37,140.45 646.94,135.53 647.51,132.51 648.09,126.35 648.66,119.77 649.23,112.59 649.81,108.76 650.38,105.71 650.96,103.56 651.53,101.12 652.1,97.4 652.68,97.68 653.25,99.03 653.82,103.41 654.4,109.57 654.97,112.59 655.54,118.7 656.12,121.76 656.69,123.63 657.26,126.35 657.84,123.81 658.41,121.76 658.98,122.8 659.56,124.06 660.13,122.57 660.71,119.47 661.28,117.09 661.85,116.03 662.43,116.53 663,117.18 663.57,119.86 664.15,121.76 664.72,125.12 665.29,130.94 665.87,133.85 666.44,134.38 667.01,131.06 667.59,126.35 668.05,127.5" fill="none" stroke="#3c9a3c" stroke-width="1.05" stroke-linejoin="round"/>
<polyline points="518.5,107.91 519.11,109.21 519.72,109.56 520.33,109.06 520.94,110.92 521.55,111.37 522.16,111.35 522.7,111.83 523.23,112.96 523.77,112.49 524.34,113.06 524.91,111.35 525.53,110.32 526.14,109.29 526.75,110.2 527.28,110.89 527.82,110.74 528.35,109.74 528.92,110 529.5,112.49 530.07,112.48 530.64,114.78 531.18,115.32 531.71,115.45 532.25,116.62 532.93,117.3 533.62,115.93 534.16,114.78 534.69,114.53 535.23,112.49 535.8,111.08 536.37,109.06 536.95,107.25 537.52,107.91 538.09,108.53 538.66,111.35 539.24,114.02 539.81,117.08 540.5,126.24 541.41,137.7 542.1,146.87 542.67,145.67 543.25,145.72 543.82,144.7 544.39,142.28 544.97,141.31 545.54,141.14 546.11,139.54 546.68,139.99 547.26,141.11 547.83,141.14 548.4,142.95 548.98,142.28 549.55,142.99 550.12,143.43 550.69,143.11 551.27,142.74 551.84,141.27 552.41,142.28 552.99,141.72 553.56,141.82 554.13,141.45 554.7,141.14 555.28,139.54 555.85,138.85 556.42,136.57 557,135.41 557.57,131.07 558.14,128.53 558.71,123.81 559.29,121.66 559.86,119.85 560.43,118.22 561.01,117.15 561.58,115.93 562.15,114.9 562.72,115.24 563.3,114.06 563.87,113.64 564.44,112.81 565.02,110.2 565.59,107.34 566.16,106.76 566.73,106.35 567.31,104.47 567.88,106.08 568.45,105.62 569.03,103.69 569.6,103.33 570.17,103.05 570.74,102.18 571.32,102.65 571.89,101.04 572.46,100.82 573.04,99.89 573.61,100.38 574.18,98.74 574.75,99.09 575.33,97.6 575.9,97.82 576.47,96.91 577.05,97.82 577.62,96.45 578.19,96.76 578.76,95.31 579.34,94.74 579.91,94.16 580.48,93.21 581.06,92.33 581.74,96.45 582.2,105.62 582.77,109.12 583.35,112.49 583.92,115.03 584.49,117.08 585.04,120.16 585.6,122.89 586.15,124.06 586.72,124.58 587.29,122.91 587.87,122.8 588.44,122.77 589.01,124.7 589.59,124.06 590.16,123.38 590.74,124.53 591.31,124.12 591.88,125.21 592.46,125.56 593.03,124.87 593.6,124.22 594.18,124.06 594.75,124.1 595.32,122.08 595.9,121.5 596.47,121.76 597.08,121.59 597.69,119.61 598.31,118.32 599.22,120.62 599.91,121.6 600.6,124.06 601.14,125.98 601.67,125.52 602.21,126.35 602.78,126.51 603.35,127.5 603.93,126.89 604.5,127.58 605.07,128.84 605.65,128.65 606.22,128.04 606.79,130.08 607.37,129.71 607.94,129.11 608.51,128.15 609.09,128.19 609.66,128.77 610.24,129.79 610.81,130.25 611.38,133.23 611.96,135.39 612.53,136.68 613.1,138.3 613.68,138.97 614.25,139.29 614.82,139.66 615.4,140.87 615.97,142.41 616.54,144.41 617.12,144.71 617.69,145.19 618.26,147 618.84,147.62 619.41,147.46 619.99,145.72 620.56,145.85 621.13,144.26 621.71,144.25 622.28,143.54 622.85,143.56 623.43,142.71 624,142.41 624.57,142.33 625.15,143.56 625.72,142.76 626.29,142.87 626.87,142.33 627.44,143.56 628.01,143.56 628.59,143.56 629.16,144.41 629.74,144.25 630.31,145.35 630.88,145.85 631.46,147.53 632.03,147.46 632.6,147.81 633.18,148.15 633.75,146.71 634.32,145.85 634.9,145.04 635.47,142.41 636.04,140.67 636.62,138.97 637.19,137.95 637.76,135.99 638.34,134.79 638.91,133.23 639.48,133.12 640.06,130.94 640.63,129.59 641.21,130.48 641.78,130.38 642.35,131.4 642.93,132.13 643.5,132.78 644.07,132.93 644.65,134.38 645.22,133.66 645.79,134.38 646.37,134.91 646.94,133.23 647.51,132.43 648.09,130.94 648.66,130.9 649.23,129.79 649.81,130.33 650.38,129.11 650.96,127.53 651.53,128.19 652.1,127.32 652.68,126.35 653.25,123.92 653.82,124.06 654.4,123.14 654.97,122.22 655.54,123.39 656.12,122.91 656.69,124.48 657.26,124.06 657.84,122.21 658.41,121.76 658.98,122.09 659.56,120.62" fill="none" stroke="#1e801e" stroke-width="1.9" stroke-linejoin="round"/>
</svg>
<rect x="502.2" y="30.1" width="174.3" height="173.2" fill="none" stroke="#555" stroke-width="0.7"/>
<rect x="671.5" y="32.1" width="3" height="3" fill="none" stroke="#ccc" stroke-width="0.4"/>
<line x1="500.2" y1="30.1" x2="502.2" y2="30.1" stroke="#444" stroke-width="0.5"/>
<text x="499.2" y="31.7" font-family="'DejaVu Sans', 'Liberation Sans', sans-serif" font-size="4.6" fill="#222" text-anchor="end" font-weight="normal" >3</text>
<line x1="500.2" y1="58.97" x2="502.2" y2="58.97" stroke="#444" stroke-width="0.5"/>
<text x="499.2" y="60.57" font-family="'DejaVu Sans', 'Liberation Sans', sans-serif" font-size="4.6" fill="#222" text-anchor="end" font-weight="normal" >2</text>
<line x1="500.2" y1="87.83" x2="502.2" y2="87.83" stroke="#444" stroke-width="0.5"/>
<text x="499.2" y="89.43" font-family="'DejaVu Sans', 'Liberation Sans', sans-serif" font-size="4.6" fill="#222" text-anchor="end" font-weight="normal" >1</text>
<line x1="500.2" y1="116.7" x2="502.2" y2="116.7" stroke="#444" stroke-width="0.5"/>
<text x="499.2" y="118.3" font-family="'DejaVu Sans', 'Liberation Sans', sans-serif" font-size="4.6" fill="#222" text-anchor="end" font-weight="normal" >0</text>
<line x1="500.2" y1="145.57" x2="502.2" y2="145.57" stroke="#444" stroke-width="0.5"/>
<text x="499.2" y="147.17" font-family="'DejaVu Sans', 'Liberation Sans', sans-serif" font-size="4.6" fill="#222" text-anchor="end" font-weight="normal" >−1</text>
<line x1="500.2" y1="174.43" x2="502.2" y2="174.43" stroke="#444" stroke-width="0.5"/>
<text x="499.2" y="176.03" font-family="'DejaVu Sans', 'Liberation Sans', sans-serif" font-size="4.6" fill="#222" text-anchor="end" font-weight="normal" >−2</text>
<line x1="500.2" y1="203.3" x2="502.2" y2="203.3" stroke="#444" stroke-width="0.5"/>
<text x="499.2" y="204.9" font-family="'DejaVu Sans', 'Liberation Sans', sans-serif" font-size="4.6" fill="#222" text-anchor="end" font-weight="normal" >−3</text>
<line x1="507.7" y1="203.3" x2="507.7" y2="205.3" stroke="#444" stroke-width="0.5"/>
<text x="507.7" y="210.3" font-family="'DejaVu Sans', 'Liberation Sans', sans-serif" font-size="4.6" fill="#222" text-anchor="middle" font-weight="normal" >31</text>
<line x1="671.3" y1="203.3" x2="671.3" y2="205.3" stroke="#444" stroke-width="0.5"/>
<text x="671.3" y="210.3" font-family="'DejaVu Sans', 'Liberation Sans', sans-serif" font-size="4.6" fill="#222" text-anchor="middle" font-weight="normal" >325</text>
<text x="589.35" y="217.3" font-family="'DejaVu Sans', 'Liberation Sans', sans-serif" font-size="4.8" fill="#222" text-anchor="middle" font-weight="normal" >Sequence position</text>
<text x="489.2" y="116.7" font-family="'DejaVu Sans', 'Liberation Sans', sans-serif" font-size="4.8" fill="#222" text-anchor="middle" font-weight="normal" transform="rotate(-90 489.2 116.7)">Knowledge-based energy</text>
<svg x="504.6" y="426.3" width="174.3" height="172.3" viewBox="504.6 426.3 174.3 172.3" overflow="hidden">
<line x1="504.6" y1="512.45" x2="678.9" y2="512.45" stroke="#555" stroke-width="0.9"/>
<polyline points="512.72,503.05 513.18,510.39 513.64,521.42 514.1,527.55 514.56,530.6 515.02,536.98 515.48,539.78 515.94,542.16 516.4,546.67 516.86,540.44 517.31,535.19 517.77,526.54 518.23,521.42 518.69,515.51 519.15,512.24 519.61,509.73 520.07,507.64 520.53,510.38 520.99,516.83 521.45,521.48 521.91,526.01 522.37,521.74 522.82,521.42 523.28,523.09 523.74,523.71 524.2,518.36 524.66,516.83 525.12,521.09 525.58,523.71 526.04,525.7 526.5,530.6 526.96,533.41 527.42,539.78 527.88,533.74 528.33,526.01 528.79,520.42 529.25,512.24 529.71,504.38 530.17,498.46 530.63,495.36 531.09,491.57 531.55,488.06 532.01,485.84 532.47,493.05 532.93,498.46 533.38,504.43 533.84,509.94 534.3,513.79 534.76,516.83 535.22,519.08 535.68,523.71 536.14,529.29 536.6,535.19 537.06,542.39 537.52,548.97 537.98,552.23 538.44,558.15 539.01,562.5 539.58,567.33 540.16,562.28 540.73,553.56 541.3,546.37 541.88,535.19 542.45,529.64 543.03,523.71 543.6,518.69 544.17,512.24 544.75,506.73 545.32,503.05 545.9,505.23 546.47,509.94 547.04,513.67 547.62,514.53 548.19,521.57 548.77,526.01 549.34,531.48 549.91,537.49 550.49,540.17 551.06,543.23 551.64,540.92 552.21,537.49 552.78,529.77 553.36,523.71 553.93,516.27 554.51,512.24 555.08,508.16 555.65,500.76 556.23,502.31 556.8,505.35 557.37,506.8 557.95,509.94 558.52,509.99 559.1,507.64 559.67,511.07 560.24,516.83 560.82,513.56 561.39,509.94 561.97,510.42 562.54,512.24 563.11,511.2 563.69,508.79 564.26,513.41 564.84,516.83 565.41,522.29 565.98,528.31 566.56,535.99 567.13,539.78 567.71,547.48 568.28,553.56 568.85,561 569.43,571.92 570,576.85 570.57,582.25 571.15,581.99 571.72,578.81 572.3,575.39 572.87,571.92 573.44,554.02 574.02,539.78 574.59,529.63 575.17,521.42 575.74,521.03 576.31,519.12 576.89,526.43 577.46,530.6 578.04,531.08 578.61,535.19 579.18,540.22 579.76,542.08 580.33,544.29 580.91,544.38 581.48,549.41 582.05,553.56 582.63,550.35 583.2,548.97 583.78,544.19 584.35,542.08 584.92,542.34 585.5,544.38 586.07,551.52 586.64,558.15 587.22,563.93 587.79,567.33 588.37,570.28 588.94,569.63 589,569.63 589.57,562.74 590.15,553.56 590.72,541.25 591.3,532.9 591.87,525.84 592.44,516.83 593.02,509.75 593.59,505.35 594.17,511.76 594.74,521.42 595.31,521.7 595.89,523.71 596.46,519.8 597.03,516.83 597.61,513.01 598.18,512.24 598.76,504.91 599.33,500.76 600.02,493.87 600.48,499.69 600.94,505.35 601.63,526.01 602.2,525.64 602.77,528.31 603.35,523.34 603.92,521.42 604.5,514.9 605.07,512.24 605.64,514.98 606.22,519.12 606.79,523.3 607.37,526.01 607.94,528 608.51,530.6 609.2,516.83 609.66,503.69 610.12,493.87 610.81,470.91 611.5,475.51 611.96,486.6 612.42,493.87 612.88,502.19 613.33,509.94 613.79,516.75 614.25,521.42 614.71,526.63 615.17,535.19 615.63,538.31 616.09,539.78 616.55,529.18 617.01,521.42 617.47,515.79 617.93,512.24 618.38,515.61 618.84,519.12 619.42,525.28 619.99,528.31 620.57,535.35 621.14,539.78 621.71,544.57 622.29,551.26 622.86,543.36 623.44,535.19 624.01,531.73 624.58,526.01 625.16,524.79 625.73,521.42 626.3,518.27 626.88,516.83 627.45,516.91 628.03,514.53 628.6,514.7 629.17,512.24 629.75,512.99 630.32,509.94 630.9,510.11 631.47,512.24 632.04,510.49 632.62,507.64 633.19,504.2 633.77,498.46 634.34,495.47 634.91,491.57 635.49,497.81 636.06,503.05 636.64,511.44 637.21,516.83 637.78,519.09 638.36,521.42 638.93,525.6 639.51,530.6 640.08,534.38 640.65,539.78 641.23,547.2 641.8,551.26 642.37,557.39 642.95,562.74 643.52,571.97 644.1,581.11 644.67,576.22 645.24,571.92 645.82,565.56 646.39,558.15 646.97,549.46 647.54,544.38 648.23,537.49 648.69,542.17 649.15,548.97 649.61,556.51 650.07,560.45 650.52,550.68 650.98,542.08 651.56,549.9 652.13,558.15 652.71,563.7 653.28,571.92 653.85,576.88 654.43,581.11 655,587.11 655.57,594.88 656.26,581.11 656.95,516.83 657.41,470.91 657.87,406.63 658.36,407.68 658.85,406.59 659.35,408.36 659.84,408.45 660.33,405.22 660.82,406.41 661.31,406.63 662,470.91 662.46,516.83 662.92,523.71 663.38,530.22 663.84,539.78 664.3,543.74 664.76,546.67 665.33,542.69 665.91,537.49 666.48,541.39 667.05,542.08 667.63,541.5 668.2,544.38 668.78,549.17 669.35,551.26 669.92,556.49 670.5,560.45" fill="none" stroke="#3c9a3c" stroke-width="1.05" stroke-linejoin="round"/>
<polyline points="517.77,523.71 518.35,524.65 518.92,524.1 519.5,522.79 520.07,522.57 520.64,523.47 521.22,521.12 521.79,522.83 522.37,521.42 522.94,520.51 523.51,519.69 524.09,517.87 524.66,516.83 525.24,515.2 525.81,515.85 526.38,514.62 526.96,513.38 527.53,513.61 528.1,512.24 528.68,513.34 529.25,515.68 529.83,519 530.4,521.42 530.97,522.94 531.55,523.71 532.12,525.46 532.7,524.86 533.27,523.66 533.84,523.71 534.42,524.05 534.99,522.97 535.57,521.4 536.14,521.42 536.71,522.01 537.29,522.53 537.86,523.33 538.44,523.71 539.01,523.93 539.58,524.86 540.16,525.8 540.73,527.16 541.3,527.17 541.88,528.64 542.45,530.4 543.03,530.6 543.6,531.8 544.17,532.14 544.75,531.88 545.32,532.9 545.9,531.49 546.47,530.6 547.04,527.75 547.62,526.01 548.19,524.04 548.77,521.42 549.34,519.73 549.91,519.12 550.49,518.59 551.06,515.68 551.64,515.17 552.21,516.83 552.78,517.3 553.36,519.12 553.93,518.6 554.51,516.83 555.08,515.95 555.65,515.68 556.23,516.43 556.8,516.83 557.37,517.29 557.95,517.98 558.52,517.59 559.1,519.12 559.67,520.27 560.24,520.27 560.82,520.86 561.39,521.42 561.97,523.43 562.54,526.01 563.11,527.79 563.69,530.6 564.26,532.24 564.84,535.19 565.41,536.04 565.98,538.64 566.56,539.87 567.13,540.93 567.71,541.62 568.28,540.93 568.85,541.11 569.43,542.08 570,543.62 570.57,544.38 571.15,544.41 571.72,546.67 572.3,547.93 572.87,550.11 573.44,551.14 574.02,552.41 574.59,551.45 575.17,550.8 575.74,551.06 576.31,548.97 576.89,548.4 577.46,547.82 578.04,547.28 578.61,546.21 579.18,545.27 579.76,545.52 580.33,544.91 580.91,544.38 581.48,543.95 582.05,543.92 582.63,543.53 583.2,543.23 583.78,543.8 584.35,542.54 584.92,541.71 585.5,542.08 586.07,542.34 586.64,540.93 587.22,539.73 587.79,539.78 588.37,540.77 588.94,539.33 589,542.08 589.57,537.58 590.15,532.9 590.72,531.68 591.3,530.6 591.87,529.53 592.44,529.45 593.02,528.17 593.59,528.31 594.17,526.66 594.74,523.71 595.31,523.28 595.89,521.42 596.46,520.01 597.03,519.12 597.61,519.13 598.18,517.98 598.76,518.04 599.33,515.68 599.9,514.17 600.48,514.53 601.05,514.85 601.63,513.38 602.2,512.17 602.77,511.78 603.35,510.3 603.92,511.09 604.5,512.14 605.07,511.78 605.64,511.8 606.22,513.38 606.79,513.46 607.37,514.53 607.94,514.72 608.51,516.83 609.09,516.49 609.66,516.37 610.24,514.91 610.81,514.99 611.38,515.49 611.96,515.68 612.53,516.06 613.1,516.83 613.68,518.01 614.25,517.98 614.83,518.74 615.4,519.12 615.97,519.72 616.55,520.27 617.12,520.37 617.7,519.12 618.27,519.68 618.84,521.42 619.42,521.52 619.99,523.71 620.57,523.98 621.14,526.01 621.71,527.03 622.29,526.01 622.86,525.54 623.44,523.71 624.01,521.38 624.58,521.42 625.16,520.54 625.73,520.96 626.3,519.6 626.88,519.58 627.45,518.74 628.03,518.66 628.6,517.48 629.17,516.83 629.75,515.55 630.32,516.83 630.9,515.38 631.47,515.68 632.04,517.25 632.62,516.37 633.19,516.9 633.77,515.68 634.34,517.54 634.91,517.98 635.49,520.99 636.06,521.42 636.64,522.74 637.21,523.71 637.78,525.72 638.36,527.16 638.93,529.79 639.51,530.6 640.08,533.91 640.65,535.19 641.23,536.97 641.8,539.78 642.37,540.97 642.95,543.23 643.52,544.29 644.1,547.82 644.67,549.46 645.24,551.26 645.82,552.96 646.39,555.85 646.97,557.78 647.54,558.15 648.11,560.18 648.69,560.45 649.26,560.18 649.84,560.45 650.52,558.15 650.98,548.97 651.44,535.19 652.13,523.71 652.71,519.53 653.28,516.83 653.85,516.33 654.43,514.53 655,514.71 655.57,514.07 656.15,514.53 656.72,513.38 657.3,511.55 657.87,512.24 658.44,512.68 659.02,513.38 659.59,511.22 660.17,511.09 660.74,510.93 661.31,512.24 661.89,511.87 662.46,512.7 663.04,512.69 663.61,512.24" fill="none" stroke="#1e801e" stroke-width="1.9" stroke-linejoin="round"/>
</svg>
<rect x="504.6" y="426.3" width="174.3" height="172.3" fill="none" stroke="#555" stroke-width="0.7"/>
<rect x="673.9" y="428.3" width="3" height="3" fill="none" stroke="#ccc" stroke-width="0.4"/>
<line x1="502.6" y1="426.3" x2="504.6" y2="426.3" stroke="#444" stroke-width="0.5"/>
<text x="501.6" y="427.9" font-family="'DejaVu Sans', 'Liberation Sans', sans-serif" font-size="4.6" fill="#222" text-anchor="end" font-weight="normal" >3</text>
<line x1="502.6" y1="455.02" x2="504.6" y2="455.02" stroke="#444" stroke-width="0.5"/>
<text x="501.6" y="456.62" font-family="'DejaVu Sans', 'Liberation Sans', sans-serif" font-size="4.6" fill="#222" text-anchor="end" font-weight="normal" >2</text>
<line x1="502.6" y1="483.73" x2="504.6" y2="483.73" stroke="#444" stroke-width="0.5"/>
<text x="501.6" y="485.33" font-family="'DejaVu Sans', 'Liberation Sans', sans-serif" font-size="4.6" fill="#222" text-anchor="end" font-weight="normal" >1</text>
<line x1="502.6" y1="512.45" x2="504.6" y2="512.45" stroke="#444" stroke-width="0.5"/>
<text x="501.6" y="514.05" font-family="'DejaVu Sans', 'Liberation Sans', sans-serif" font-size="4.6" fill="#222" text-anchor="end" font-weight="normal" >0</text>
<line x1="502.6" y1="541.17" x2="504.6" y2="541.17" stroke="#444" stroke-width="0.5"/>
<text x="501.6" y="542.77" font-family="'DejaVu Sans', 'Liberation Sans', sans-serif" font-size="4.6" fill="#222" text-anchor="end" font-weight="normal" >−1</text>
<line x1="502.6" y1="569.88" x2="504.6" y2="569.88" stroke="#444" stroke-width="0.5"/>
<text x="501.6" y="571.48" font-family="'DejaVu Sans', 'Liberation Sans', sans-serif" font-size="4.6" fill="#222" text-anchor="end" font-weight="normal" >−2</text>
<line x1="502.6" y1="598.6" x2="504.6" y2="598.6" stroke="#444" stroke-width="0.5"/>
<text x="501.6" y="600.2" font-family="'DejaVu Sans', 'Liberation Sans', sans-serif" font-size="4.6" fill="#222" text-anchor="end" font-weight="normal" >−3</text>
<line x1="509.5" y1="598.6" x2="509.5" y2="600.6" stroke="#444" stroke-width="0.5"/>
<text x="509.5" y="605.6" font-family="'DejaVu Sans', 'Liberation Sans', sans-serif" font-size="4.6" fill="#222" text-anchor="middle" font-weight="normal" >58</text>
<line x1="672.4" y1="598.6" x2="672.4" y2="600.6" stroke="#444" stroke-width="0.5"/>
<text x="672.4" y="605.6" font-family="'DejaVu Sans', 'Liberation Sans', sans-serif" font-size="4.6" fill="#222" text-anchor="middle" font-weight="normal" >449</text>
<text x="591.75" y="612.6" font-family="'DejaVu Sans', 'Liberation Sans', sans-serif" font-size="4.8" fill="#222" text-anchor="middle" font-weight="normal" >Sequence position</text>
<text x="491.6" y="512.45" font-family="'DejaVu Sans', 'Liberation Sans', sans-serif" font-size="4.8" fill="#222" text-anchor="middle" font-weight="normal" transform="rotate(-90 491.6 512.45)">Knowledge-based energy</text>
<svg x="140.2" y="226.4" width="506.9" height="128.8" viewBox="140.2 226.4 506.9 128.8" overflow="hidden">
<g fill="#e2e2e2" stroke="#5e5e5e" stroke-width="0.32"><rect x="140.34" y="320.2" width="1.46" height="34"/><rect x="142.11" y="313.2" width="1.46" height="41"/><rect x="143.87" y="315.2" width="1.46" height="39"/><rect x="147.4" y="329.2" width="1.46" height="25"/><rect x="149.17" y="322.2" width="1.46" height="32"/><rect x="150.93" y="333.2" width="1.46" height="21"/><rect x="152.7" y="331.2" width="1.46" height="23"/><rect x="154.46" y="341.2" width="1.46" height="13"/><rect x="156.23" y="342.2" width="1.46" height="12"/><rect x="157.99" y="343.2" width="1.46" height="11"/><rect x="159.76" y="335.2" width="1.46" height="19"/><rect x="161.52" y="338.2" width="1.46" height="16"/><rect x="163.29" y="336.7" width="1.46" height="17.5"/><rect x="165.05" y="338.2" width="1.46" height="16"/><rect x="166.82" y="327.2" width="1.46" height="27"/><rect x="168.58" y="330.2" width="1.46" height="24"/><rect x="170.35" y="322.2" width="1.46" height="32"/><rect x="172.11" y="330.2" width="1.46" height="24"/><rect x="173.88" y="331.2" width="1.46" height="23"/><rect x="175.64" y="320.2" width="1.46" height="34"/><rect x="177.41" y="314.2" width="1.46" height="40"/><rect x="179.17" y="323.2" width="1.46" height="31"/><rect x="180.94" y="323.2" width="1.46" height="31"/><rect x="182.7" y="330.2" width="1.46" height="24"/><rect x="184.47" y="323.2" width="1.46" height="31"/><rect x="186.23" y="334.2" width="1.46" height="20"/><rect x="188" y="343.2" width="1.46" height="11"/><rect x="189.76" y="342.2" width="1.46" height="12"/><rect x="191.53" y="337.2" width="1.46" height="17"/><rect x="193.29" y="318.2" width="1.46" height="36"/><rect x="195.06" y="340.4" width="1.46" height="13.8"/><rect x="196.82" y="349.2" width="1.46" height="5"/><rect x="198.59" y="349.2" width="1.46" height="5"/><rect x="200.35" y="343.5" width="1.46" height="10.7"/><rect x="202.12" y="335.2" width="1.46" height="19"/><rect x="203.88" y="347.2" width="1.46" height="7"/><rect x="205.65" y="345.9" width="1.46" height="8.3"/><rect x="207.41" y="337.5" width="1.46" height="16.7"/><rect x="209.18" y="331.7" width="1.46" height="22.5"/><rect x="210.94" y="329.2" width="1.46" height="25"/><rect x="212.71" y="327.8" width="1.46" height="26.4"/><rect x="214.47" y="328.2" width="1.46" height="26"/><rect x="216.24" y="313.4" width="1.46" height="40.8"/><rect x="218" y="301.5" width="1.46" height="52.7"/><rect x="219.77" y="323" width="1.46" height="31.2"/><rect x="221.53" y="316.2" width="1.46" height="38"/><rect x="223.3" y="320.2" width="1.46" height="34"/><rect x="225.06" y="334.6" width="1.46" height="19.6"/><rect x="226.83" y="336.4" width="1.46" height="17.8"/><rect x="228.59" y="346.2" width="1.46" height="8"/><rect x="230.36" y="349.2" width="1.46" height="5"/><rect x="232.12" y="341.4" width="1.46" height="12.8"/><rect x="233.89" y="336.4" width="1.46" height="17.8"/><rect x="235.65" y="331.2" width="1.46" height="23"/><rect x="237.42" y="330.2" width="1.46" height="24"/><rect x="239.18" y="329.9" width="1.46" height="24.3"/><rect x="240.95" y="331.4" width="1.46" height="22.8"/><rect x="242.71" y="332.5" width="1.46" height="21.7"/><rect x="244.48" y="326.2" width="1.46" height="28"/><rect x="246.24" y="326.2" width="1.46" height="28"/><rect x="248.01" y="326.2" width="1.46" height="28"/><rect x="249.77" y="329.3" width="1.46" height="24.9"/><rect x="251.54" y="329.5" width="1.46" height="24.7"/><rect x="253.3" y="325.3" width="1.46" height="28.9"/><rect x="255.07" y="315.6" width="1.46" height="38.6"/><rect x="256.83" y="328.9" width="1.46" height="25.3"/><rect x="258.6" y="322.9" width="1.46" height="31.3"/><rect x="260.36" y="332.4" width="1.46" height="21.8"/><rect x="262.13" y="335" width="1.46" height="19.2"/><rect x="263.89" y="326.4" width="1.46" height="27.8"/><rect x="265.66" y="321.4" width="1.46" height="32.8"/><rect x="269.19" y="300" width="1.46" height="54.2"/><rect x="270.95" y="318.5" width="1.46" height="35.7"/><rect x="272.72" y="309" width="1.46" height="45.2"/><rect x="274.48" y="315.3" width="1.46" height="38.9"/><rect x="276.25" y="328.3" width="1.46" height="25.9"/><rect x="278.01" y="315.3" width="1.46" height="38.9"/><rect x="279.78" y="308.6" width="1.46" height="45.6"/><rect x="283.31" y="312.3" width="1.46" height="41.9"/><rect x="308.02" y="309.6" width="1.46" height="44.6"/><rect x="309.78" y="315.8" width="1.46" height="38.4"/><rect x="311.55" y="316.5" width="1.46" height="37.7"/><rect x="313.31" y="327.7" width="1.46" height="26.5"/><rect x="315.08" y="324.6" width="1.46" height="29.6"/><rect x="316.84" y="325.9" width="1.46" height="28.3"/><rect x="318.61" y="336.9" width="1.46" height="17.3"/><rect x="320.37" y="337.4" width="1.46" height="16.8"/><rect x="334.49" y="329.8" width="1.46" height="24.4"/><rect x="336.26" y="325.4" width="1.46" height="28.8"/><rect x="338.02" y="329.4" width="1.46" height="24.8"/><rect x="339.79" y="331.2" width="1.46" height="23"/><rect x="341.55" y="328.5" width="1.46" height="25.7"/><rect x="343.32" y="328.2" width="1.46" height="26"/><rect x="345.08" y="326.2" width="1.46" height="28"/><rect x="346.85" y="313.8" width="1.46" height="40.4"/><rect x="348.61" y="315.3" width="1.46" height="38.9"/><rect x="350.38" y="315.6" width="1.46" height="38.6"/><rect x="352.14" y="329.1" width="1.46" height="25.1"/><rect x="353.91" y="333.3" width="1.46" height="20.9"/><rect x="355.67" y="331.2" width="1.46" height="23"/><rect x="357.44" y="333.3" width="1.46" height="20.9"/><rect x="359.2" y="329.4" width="1.46" height="24.8"/><rect x="360.97" y="322" width="1.46" height="32.2"/><rect x="362.73" y="302.5" width="1.46" height="51.7"/><rect x="396.27" y="305.5" width="1.46" height="48.7"/><rect x="405.09" y="311.4" width="1.46" height="42.8"/><rect x="406.86" y="338.3" width="1.46" height="15.9"/><rect x="408.62" y="338.6" width="1.46" height="15.6"/><rect x="410.39" y="339.5" width="1.46" height="14.7"/><rect x="412.15" y="344.5" width="1.46" height="9.7"/><rect x="413.92" y="346.2" width="1.46" height="8"/><rect x="415.68" y="341.5" width="1.46" height="12.7"/><rect x="417.45" y="342.3" width="1.46" height="11.9"/><rect x="419.21" y="341.5" width="1.46" height="12.7"/><rect x="420.98" y="342.2" width="1.46" height="12"/><rect x="422.74" y="328.8" width="1.46" height="25.4"/><rect x="424.51" y="330.2" width="1.46" height="24"/><rect x="426.27" y="327.2" width="1.46" height="27"/><rect x="428.04" y="304.4" width="1.46" height="49.8"/><rect x="429.8" y="311.4" width="1.46" height="42.8"/><rect x="431.57" y="328.2" width="1.46" height="26"/><rect x="433.33" y="331.5" width="1.46" height="22.7"/><rect x="435.1" y="326.3" width="1.46" height="27.9"/><rect x="436.86" y="334.7" width="1.46" height="19.5"/><rect x="438.63" y="335.7" width="1.46" height="18.5"/><rect x="440.39" y="339" width="1.46" height="15.2"/><rect x="442.16" y="339.7" width="1.46" height="14.5"/><rect x="443.92" y="345.8" width="1.46" height="8.4"/><rect x="445.69" y="336.6" width="1.46" height="17.6"/><rect x="447.45" y="339.2" width="1.46" height="15"/><rect x="449.22" y="341.2" width="1.46" height="13"/><rect x="450.98" y="337.3" width="1.46" height="16.9"/><rect x="452.75" y="324.2" width="1.46" height="30"/><rect x="454.51" y="312.2" width="1.46" height="42"/><rect x="456.28" y="303.5" width="1.46" height="50.7"/><rect x="463.34" y="299.6" width="1.46" height="54.6"/><rect x="465.1" y="316.3" width="1.46" height="37.9"/><rect x="466.87" y="329.2" width="1.46" height="25"/><rect x="470.4" y="303.2" width="1.46" height="51"/><rect x="472.16" y="302.2" width="1.46" height="52"/><rect x="475.69" y="311.4" width="1.46" height="42.8"/><rect x="477.46" y="319.7" width="1.46" height="34.5"/><rect x="479.22" y="320.6" width="1.46" height="33.6"/><rect x="480.99" y="314.4" width="1.46" height="39.8"/><rect x="482.75" y="315.3" width="1.46" height="38.9"/><rect x="484.52" y="320.6" width="1.46" height="33.6"/><rect x="486.28" y="318.8" width="1.46" height="35.4"/><rect x="488.05" y="318.4" width="1.46" height="35.8"/><rect x="489.81" y="323.2" width="1.46" height="31"/><rect x="491.58" y="320.6" width="1.46" height="33.6"/><rect x="493.34" y="319.7" width="1.46" height="34.5"/><rect x="495.11" y="325.5" width="1.46" height="28.7"/><rect x="496.87" y="334.7" width="1.46" height="19.5"/><rect x="498.64" y="343.6" width="1.46" height="10.6"/><rect x="500.4" y="343.2" width="1.46" height="11"/><rect x="502.17" y="343.2" width="1.46" height="11"/><rect x="503.93" y="345.4" width="1.46" height="8.8"/><rect x="505.7" y="345.4" width="1.46" height="8.8"/><rect x="507.46" y="348" width="1.46" height="6.2"/><rect x="509.23" y="351" width="1.46" height="3.2"/><rect x="510.99" y="346.8" width="1.46" height="7.4"/><rect x="512.76" y="336.2" width="1.46" height="18"/><rect x="514.52" y="339.2" width="1.46" height="15"/><rect x="516.29" y="335.1" width="1.46" height="19.1"/><rect x="518.05" y="324.2" width="1.46" height="30"/><rect x="519.82" y="333" width="1.46" height="21.2"/><rect x="521.58" y="338.3" width="1.46" height="15.9"/><rect x="523.35" y="343.6" width="1.46" height="10.6"/><rect x="525.11" y="340.9" width="1.46" height="13.3"/><rect x="526.88" y="348.5" width="1.46" height="5.7"/><rect x="528.64" y="348.9" width="1.46" height="5.3"/><rect x="530.41" y="350.7" width="1.46" height="3.5"/><rect x="532.17" y="346.2" width="1.46" height="8"/><rect x="533.94" y="347.1" width="1.46" height="7.1"/><rect x="535.7" y="346.8" width="1.46" height="7.4"/><rect x="537.47" y="346.2" width="1.46" height="8"/><rect x="539.23" y="342.7" width="1.46" height="11.5"/><rect x="541" y="343.2" width="1.46" height="11"/><rect x="542.76" y="335.6" width="1.46" height="18.6"/><rect x="544.53" y="343.2" width="1.46" height="11"/><rect x="546.29" y="345.4" width="1.46" height="8.8"/><rect x="548.06" y="343.2" width="1.46" height="11"/><rect x="549.82" y="340" width="1.46" height="14.2"/><rect x="551.59" y="331.2" width="1.46" height="23"/><rect x="553.35" y="336.2" width="1.46" height="18"/><rect x="555.12" y="337.4" width="1.46" height="16.8"/><rect x="556.88" y="332.1" width="1.46" height="22.1"/><rect x="558.65" y="323.2" width="1.46" height="31"/><rect x="560.41" y="333.3" width="1.46" height="20.9"/><rect x="562.18" y="328.5" width="1.46" height="25.7"/><rect x="576.3" y="314.4" width="1.46" height="39.8"/><rect x="578.06" y="328.5" width="1.46" height="25.7"/><rect x="579.83" y="345.4" width="1.46" height="8.8"/><rect x="581.59" y="337.2" width="1.46" height="17"/><rect x="583.36" y="340" width="1.46" height="14.2"/><rect x="585.12" y="315.2" width="1.46" height="39"/><rect x="586.89" y="333.6" width="1.46" height="20.6"/><rect x="588.65" y="343.2" width="1.46" height="11"/><rect x="590.42" y="348.4" width="1.46" height="5.8"/><rect x="592.18" y="343.2" width="1.46" height="11"/><rect x="593.95" y="337.2" width="1.46" height="17"/><rect x="595.71" y="332.5" width="1.46" height="21.7"/><rect x="597.48" y="314.5" width="1.46" height="39.7"/><rect x="599.24" y="328.2" width="1.46" height="26"/><rect x="601.01" y="301.4" width="1.46" height="52.8"/><rect x="602.77" y="311.7" width="1.46" height="42.5"/><rect x="604.54" y="311.5" width="1.46" height="42.7"/><rect x="606.3" y="327.2" width="1.46" height="27"/><rect x="608.07" y="329.4" width="1.46" height="24.8"/><rect x="609.83" y="334.2" width="1.46" height="20"/><rect x="611.6" y="321.4" width="1.46" height="32.8"/><rect x="613.36" y="315.2" width="1.46" height="39"/><rect x="615.13" y="301.4" width="1.46" height="52.8"/><rect x="616.89" y="325.1" width="1.46" height="29.1"/><rect x="618.66" y="323.2" width="1.46" height="31"/><rect x="620.42" y="325.4" width="1.46" height="28.8"/><rect x="622.19" y="338.2" width="1.46" height="16"/><rect x="623.95" y="322.2" width="1.46" height="32"/><rect x="625.72" y="318.2" width="1.46" height="36"/><rect x="627.48" y="315.2" width="1.46" height="39"/><rect x="629.25" y="336.4" width="1.46" height="17.8"/><rect x="631.01" y="337.2" width="1.46" height="17"/><rect x="632.78" y="326.5" width="1.46" height="27.7"/><rect x="634.54" y="319.9" width="1.46" height="34.3"/><rect x="636.31" y="332" width="1.46" height="22.2"/><rect x="638.07" y="336.7" width="1.46" height="17.5"/><rect x="639.84" y="339.1" width="1.46" height="15.1"/><rect x="641.6" y="336.4" width="1.46" height="17.8"/><rect x="643.37" y="330.2" width="1.46" height="24"/><rect x="645.13" y="322.2" width="1.46" height="32"/></g>
<g fill="#d6d63a" stroke="#8c8c1e" stroke-width="0.35"><rect x="145.64" y="292.2" width="1.46" height="62"/><rect x="267.42" y="296.9" width="1.46" height="57.3"/><rect x="281.54" y="292.3" width="1.46" height="61.9"/><rect x="304.49" y="276.9" width="1.46" height="77.3"/><rect x="306.25" y="295.3" width="1.46" height="58.9"/><rect x="392.74" y="288.2" width="1.46" height="66"/><rect x="394.5" y="291.4" width="1.46" height="62.8"/><rect x="399.8" y="288.7" width="1.46" height="65.5"/><rect x="401.56" y="291.9" width="1.46" height="62.3"/><rect x="403.33" y="296.3" width="1.46" height="57.9"/><rect x="458.04" y="296.4" width="1.46" height="57.8"/><rect x="459.81" y="284.2" width="1.46" height="70"/><rect x="461.57" y="296.6" width="1.46" height="57.6"/><rect x="468.63" y="292.2" width="1.46" height="62"/><rect x="473.93" y="299.2" width="1.46" height="55"/><rect x="563.94" y="286.1" width="1.46" height="68.1"/><rect x="565.71" y="277.2" width="1.46" height="77"/><rect x="567.47" y="284.2" width="1.46" height="70"/><rect x="569.24" y="290.1" width="1.46" height="64.1"/><rect x="571" y="273.1" width="1.46" height="81.1"/><rect x="572.77" y="283.4" width="1.46" height="70.8"/><rect x="574.53" y="277.7" width="1.46" height="76.5"/></g>
<g fill="#c8000a" stroke="#8a0000" stroke-width="0.35"><rect x="299.19" y="259.2" width="1.46" height="95"/><rect x="366.26" y="242.2" width="1.46" height="112"/><rect x="369.79" y="256.9" width="1.46" height="97.3"/><rect x="371.56" y="247.2" width="1.46" height="107"/><rect x="373.32" y="250.2" width="1.46" height="104"/><rect x="375.09" y="271.4" width="1.46" height="82.8"/><rect x="398.03" y="270.7" width="1.46" height="83.5"/></g>
</svg>
<line x1="140.2" y1="272.9" x2="647.1" y2="272.9" stroke="#6a6a6a" stroke-width="0.8"/>
<line x1="140.2" y1="299.8" x2="647.1" y2="299.8" stroke="#6a6a6a" stroke-width="0.8"/>
<rect x="140.2" y="226.4" width="506.9" height="127.8" fill="none" stroke="#7a7a7a" stroke-width="0.8"/>
<text x="149" y="363.1" font-family="'Liberation Sans', Arial, sans-serif" font-size="9.4" fill="#333" text-anchor="middle" font-weight="normal" >40</text>
<line x1="149.9" y1="354.2" x2="149.9" y2="355.7" stroke="#555" stroke-width="0.5"/>
<line x1="167.55" y1="354.2" x2="167.55" y2="355.7" stroke="#555" stroke-width="0.5"/>
<text x="184.52" y="363.1" font-family="'Liberation Sans', Arial, sans-serif" font-size="9.4" fill="#333" text-anchor="middle" font-weight="normal" >60</text>
<line x1="185.2" y1="354.2" x2="185.2" y2="355.7" stroke="#555" stroke-width="0.5"/>
<line x1="202.85" y1="354.2" x2="202.85" y2="355.7" stroke="#555" stroke-width="0.5"/>
<text x="220.04" y="363.1" font-family="'Liberation Sans', Arial, sans-serif" font-size="9.4" fill="#333" text-anchor="middle" font-weight="normal" >80</text>
<line x1="220.5" y1="354.2" x2="220.5" y2="355.7" stroke="#555" stroke-width="0.5"/>
<line x1="238.15" y1="354.2" x2="238.15" y2="355.7" stroke="#555" stroke-width="0.5"/>
<text x="255.56" y="363.1" font-family="'Liberation Sans', Arial, sans-serif" font-size="9.4" fill="#333" text-anchor="middle" font-weight="normal" >100</text>
<line x1="255.8" y1="354.2" x2="255.8" y2="355.7" stroke="#555" stroke-width="0.5"/>
<line x1="273.45" y1="354.2" x2="273.45" y2="355.7" stroke="#555" stroke-width="0.5"/>
<text x="291.08" y="363.1" font-family="'Liberation Sans', Arial, sans-serif" font-size="9.4" fill="#333" text-anchor="middle" font-weight="normal" >120</text>
<line x1="291.1" y1="354.2" x2="291.1" y2="355.7" stroke="#555" stroke-width="0.5"/>
<line x1="308.75" y1="354.2" x2="308.75" y2="355.7" stroke="#555" stroke-width="0.5"/>
<text x="326.6" y="363.1" font-family="'Liberation Sans', Arial, sans-serif" font-size="9.4" fill="#333" text-anchor="middle" font-weight="normal" >140</text>
<line x1="326.4" y1="354.2" x2="326.4" y2="355.7" stroke="#555" stroke-width="0.5"/>
<line x1="344.05" y1="354.2" x2="344.05" y2="355.7" stroke="#555" stroke-width="0.5"/>
<text x="362.12" y="363.1" font-family="'Liberation Sans', Arial, sans-serif" font-size="9.4" fill="#333" text-anchor="middle" font-weight="normal" >160</text>
<line x1="361.7" y1="354.2" x2="361.7" y2="355.7" stroke="#555" stroke-width="0.5"/>
<line x1="379.35" y1="354.2" x2="379.35" y2="355.7" stroke="#555" stroke-width="0.5"/>
<text x="397.64" y="363.1" font-family="'Liberation Sans', Arial, sans-serif" font-size="9.4" fill="#333" text-anchor="middle" font-weight="normal" >180</text>
<line x1="397" y1="354.2" x2="397" y2="355.7" stroke="#555" stroke-width="0.5"/>
<line x1="414.65" y1="354.2" x2="414.65" y2="355.7" stroke="#555" stroke-width="0.5"/>
<text x="433.16" y="363.1" font-family="'Liberation Sans', Arial, sans-serif" font-size="9.4" fill="#333" text-anchor="middle" font-weight="normal" >200</text>
<line x1="432.3" y1="354.2" x2="432.3" y2="355.7" stroke="#555" stroke-width="0.5"/>
<line x1="449.95" y1="354.2" x2="449.95" y2="355.7" stroke="#555" stroke-width="0.5"/>
<text x="468.68" y="363.1" font-family="'Liberation Sans', Arial, sans-serif" font-size="9.4" fill="#333" text-anchor="middle" font-weight="normal" >220</text>
<line x1="467.6" y1="354.2" x2="467.6" y2="355.7" stroke="#555" stroke-width="0.5"/>
<line x1="485.25" y1="354.2" x2="485.25" y2="355.7" stroke="#555" stroke-width="0.5"/>
<text x="504.2" y="363.1" font-family="'Liberation Sans', Arial, sans-serif" font-size="9.4" fill="#333" text-anchor="middle" font-weight="normal" >240</text>
<line x1="502.9" y1="354.2" x2="502.9" y2="355.7" stroke="#555" stroke-width="0.5"/>
<line x1="520.55" y1="354.2" x2="520.55" y2="355.7" stroke="#555" stroke-width="0.5"/>
<text x="539.72" y="363.1" font-family="'Liberation Sans', Arial, sans-serif" font-size="9.4" fill="#333" text-anchor="middle" font-weight="normal" >260</text>
<line x1="538.2" y1="354.2" x2="538.2" y2="355.7" stroke="#555" stroke-width="0.5"/>
<line x1="555.85" y1="354.2" x2="555.85" y2="355.7" stroke="#555" stroke-width="0.5"/>
<text x="575.24" y="363.1" font-family="'Liberation Sans', Arial, sans-serif" font-size="9.4" fill="#333" text-anchor="middle" font-weight="normal" >280</text>
<line x1="573.5" y1="354.2" x2="573.5" y2="355.7" stroke="#555" stroke-width="0.5"/>
<line x1="591.15" y1="354.2" x2="591.15" y2="355.7" stroke="#555" stroke-width="0.5"/>
<text x="610.76" y="363.1" font-family="'Liberation Sans', Arial, sans-serif" font-size="9.4" fill="#333" text-anchor="middle" font-weight="normal" >300</text>
<line x1="608.8" y1="354.2" x2="608.8" y2="355.7" stroke="#555" stroke-width="0.5"/>
<line x1="626.45" y1="354.2" x2="626.45" y2="355.7" stroke="#555" stroke-width="0.5"/>
<text x="646.28" y="363.1" font-family="'Liberation Sans', Arial, sans-serif" font-size="9.4" fill="#333" text-anchor="middle" font-weight="normal" >320</text>
<line x1="644.1" y1="354.2" x2="644.1" y2="355.7" stroke="#555" stroke-width="0.5"/>
<text x="136.7" y="275.89" font-family="'Liberation Sans', Arial, sans-serif" font-size="8.3" fill="#333" text-anchor="end" font-weight="normal" >99%</text>
<text x="136.7" y="302.79" font-family="'Liberation Sans', Arial, sans-serif" font-size="8.3" fill="#333" text-anchor="end" font-weight="normal" >95%</text>
<text x="117.6" y="282.5" font-family="'Liberation Sans', Arial, sans-serif" font-size="10.5" fill="#222" text-anchor="middle" transform="rotate(-90 117.6 282.5)">Error value<tspan font-size="6.5" dy="-4">*</tspan></text>
<text x="397" y="374.6" font-family="'Liberation Sans', Arial, sans-serif" font-size="10.5" fill="#222" text-anchor="middle" font-weight="normal" >Residue # (window center)</text>
<svg x="95.3" y="629.9" width="583.5" height="110.4" viewBox="95.3 629.9 583.5 110.4" overflow="hidden">
<g fill="#e2e2e2" stroke="#5e5e5e" stroke-width="0.32"><rect x="95.48" y="729.4" width="1.23" height="9.9"/><rect x="97.01" y="729.6" width="1.23" height="9.7"/><rect x="98.54" y="738" width="1.23" height="1.3"/><rect x="100.07" y="736.7" width="1.23" height="2.6"/><rect x="101.59" y="735.1" width="1.23" height="4.2"/><rect x="103.12" y="717.4" width="1.23" height="21.9"/><rect x="104.65" y="723.1" width="1.23" height="16.2"/><rect x="106.18" y="727.3" width="1.23" height="12"/><rect x="107.71" y="723.3" width="1.23" height="16"/><rect x="109.23" y="722.4" width="1.23" height="16.9"/><rect x="110.76" y="723.6" width="1.23" height="15.7"/><rect x="112.29" y="723.9" width="1.23" height="15.4"/><rect x="113.82" y="711.4" width="1.23" height="27.9"/><rect x="115.35" y="714.4" width="1.23" height="24.9"/><rect x="116.87" y="708.3" width="1.23" height="31"/><rect x="118.4" y="708.3" width="1.23" height="31"/><rect x="119.93" y="719.5" width="1.23" height="19.8"/><rect x="121.46" y="724.5" width="1.23" height="14.8"/><rect x="122.99" y="710.1" width="1.23" height="29.2"/><rect x="124.51" y="719.3" width="1.23" height="20"/><rect x="126.04" y="713.8" width="1.23" height="25.5"/><rect x="127.57" y="718.4" width="1.23" height="20.9"/><rect x="129.1" y="712.3" width="1.23" height="27"/><rect x="130.63" y="717.2" width="1.23" height="22.1"/><rect x="132.15" y="709.8" width="1.23" height="29.5"/><rect x="133.68" y="712.1" width="1.23" height="27.2"/><rect x="135.21" y="729.4" width="1.23" height="9.9"/><rect x="136.74" y="735.1" width="1.23" height="4.2"/><rect x="138.27" y="738" width="1.23" height="1.3"/><rect x="139.79" y="737.4" width="1.23" height="1.9"/><rect x="141.32" y="731.9" width="1.23" height="7.4"/><rect x="142.85" y="733.2" width="1.23" height="6.1"/><rect x="144.38" y="734" width="1.23" height="5.3"/><rect x="145.91" y="729.2" width="1.23" height="10.1"/><rect x="147.43" y="735" width="1.23" height="4.3"/><rect x="148.96" y="730.8" width="1.23" height="8.5"/><rect x="150.49" y="727.1" width="1.23" height="12.2"/><rect x="152.02" y="718.4" width="1.23" height="20.9"/><rect x="153.55" y="701.4" width="1.23" height="37.9"/><rect x="155.07" y="701.4" width="1.23" height="37.9"/><rect x="158.13" y="693" width="1.23" height="46.3"/><rect x="159.66" y="694.1" width="1.23" height="45.2"/><rect x="161.19" y="705.4" width="1.23" height="33.9"/><rect x="162.71" y="705.4" width="1.23" height="33.9"/><rect x="164.24" y="705.4" width="1.23" height="33.9"/><rect x="165.77" y="694.3" width="1.23" height="45"/><rect x="167.3" y="692.9" width="1.23" height="46.4"/><rect x="168.83" y="692.9" width="1.23" height="46.4"/><rect x="170.35" y="713.2" width="1.23" height="26.1"/><rect x="171.88" y="724.5" width="1.23" height="14.8"/><rect x="173.41" y="719.3" width="1.23" height="20"/><rect x="174.94" y="721.1" width="1.23" height="18.2"/><rect x="176.47" y="722.9" width="1.23" height="16.4"/><rect x="177.99" y="722.3" width="1.23" height="17"/><rect x="179.52" y="715.3" width="1.23" height="24"/><rect x="181.05" y="695.1" width="1.23" height="44.2"/><rect x="182.58" y="701.4" width="1.23" height="37.9"/><rect x="185.63" y="692.3" width="1.23" height="47"/><rect x="188.69" y="702.5" width="1.23" height="36.8"/><rect x="190.22" y="708.3" width="1.23" height="31"/><rect x="191.75" y="708.3" width="1.23" height="31"/><rect x="193.27" y="715.3" width="1.23" height="24"/><rect x="194.8" y="701.2" width="1.23" height="38.1"/><rect x="196.33" y="704.4" width="1.23" height="34.9"/><rect x="197.86" y="729.2" width="1.23" height="10.1"/><rect x="199.39" y="730.2" width="1.23" height="9.1"/><rect x="200.91" y="730.2" width="1.23" height="9.1"/><rect x="202.44" y="722.2" width="1.23" height="17.1"/><rect x="203.97" y="706.1" width="1.23" height="33.2"/><rect x="207.03" y="699.5" width="1.23" height="39.8"/><rect x="208.55" y="693.1" width="1.23" height="46.2"/><rect x="210.08" y="700.9" width="1.23" height="38.4"/><rect x="211.61" y="706.1" width="1.23" height="33.2"/><rect x="213.14" y="706.1" width="1.23" height="33.2"/><rect x="214.67" y="727.1" width="1.23" height="12.2"/><rect x="216.19" y="723.4" width="1.23" height="15.9"/><rect x="217.72" y="730.6" width="1.23" height="8.7"/><rect x="219.25" y="728.1" width="1.23" height="11.2"/><rect x="220.78" y="721.6" width="1.23" height="17.7"/><rect x="222.31" y="718" width="1.23" height="21.3"/><rect x="223.83" y="714.5" width="1.23" height="24.8"/><rect x="225.36" y="700.4" width="1.23" height="38.9"/><rect x="228.42" y="705.6" width="1.23" height="33.7"/><rect x="229.95" y="703.3" width="1.23" height="36"/><rect x="231.47" y="720.1" width="1.23" height="19.2"/><rect x="233" y="722.9" width="1.23" height="16.4"/><rect x="234.53" y="712.4" width="1.23" height="26.9"/><rect x="236.06" y="713" width="1.23" height="26.3"/><rect x="237.59" y="728.1" width="1.23" height="11.2"/><rect x="239.11" y="722.9" width="1.23" height="16.4"/><rect x="240.64" y="724" width="1.23" height="15.3"/><rect x="242.17" y="722.3" width="1.23" height="17"/><rect x="243.7" y="721.1" width="1.23" height="18.2"/><rect x="245.23" y="711.9" width="1.23" height="27.4"/><rect x="246.75" y="707.2" width="1.23" height="32.1"/><rect x="248.28" y="705.6" width="1.23" height="33.7"/><rect x="249.81" y="706.7" width="1.23" height="32.6"/><rect x="251.34" y="715.9" width="1.23" height="23.4"/><rect x="252.87" y="722.2" width="1.23" height="17.1"/><rect x="254.39" y="728.9" width="1.23" height="10.4"/><rect x="255.92" y="728.1" width="1.23" height="11.2"/><rect x="257.45" y="725" width="1.23" height="14.3"/><rect x="258.98" y="718.5" width="1.23" height="20.8"/><rect x="260.51" y="715.1" width="1.23" height="24.2"/><rect x="262.03" y="712.8" width="1.23" height="26.5"/><rect x="263.56" y="707.2" width="1.23" height="32.1"/><rect x="265.09" y="695.7" width="1.23" height="43.6"/><rect x="266.62" y="694.3" width="1.23" height="45"/><rect x="268.15" y="699.3" width="1.23" height="40"/><rect x="269.67" y="721.1" width="1.23" height="18.2"/><rect x="271.2" y="731.3" width="1.23" height="8"/><rect x="272.73" y="732.9" width="1.23" height="6.4"/><rect x="274.26" y="730.5" width="1.23" height="8.8"/><rect x="275.79" y="721.1" width="1.23" height="18.2"/><rect x="277.31" y="720.8" width="1.23" height="18.5"/><rect x="278.84" y="712.8" width="1.23" height="26.5"/><rect x="280.37" y="697.5" width="1.23" height="41.8"/><rect x="281.9" y="712.8" width="1.23" height="26.5"/><rect x="283.43" y="717.7" width="1.23" height="21.6"/><rect x="284.95" y="712.4" width="1.23" height="26.9"/><rect x="286.48" y="710" width="1.23" height="29.3"/><rect x="288.01" y="719" width="1.23" height="20.3"/><rect x="289.54" y="721.3" width="1.23" height="18"/><rect x="291.07" y="719.3" width="1.23" height="20"/><rect x="292.59" y="724.3" width="1.23" height="15"/><rect x="294.12" y="723.7" width="1.23" height="15.6"/><rect x="295.65" y="725" width="1.23" height="14.3"/><rect x="297.18" y="724.5" width="1.23" height="14.8"/><rect x="298.71" y="728.5" width="1.23" height="10.8"/><rect x="300.23" y="730.2" width="1.23" height="9.1"/><rect x="301.76" y="729.2" width="1.23" height="10.1"/><rect x="303.29" y="725.5" width="1.23" height="13.8"/><rect x="304.82" y="729.5" width="1.23" height="9.8"/><rect x="306.35" y="729.2" width="1.23" height="10.1"/><rect x="307.87" y="725.3" width="1.23" height="14"/><rect x="309.4" y="726.1" width="1.23" height="13.2"/><rect x="310.93" y="724.3" width="1.23" height="15"/><rect x="312.46" y="722.2" width="1.23" height="17.1"/><rect x="313.99" y="716.3" width="1.23" height="23"/><rect x="315.51" y="715.1" width="1.23" height="24.2"/><rect x="317.04" y="707.9" width="1.23" height="31.4"/><rect x="318.57" y="721.9" width="1.23" height="17.4"/><rect x="320.1" y="727.5" width="1.23" height="11.8"/><rect x="321.63" y="727.5" width="1.23" height="11.8"/><rect x="323.15" y="727.9" width="1.23" height="11.4"/><rect x="324.68" y="726.6" width="1.23" height="12.7"/><rect x="326.21" y="719" width="1.23" height="20.3"/><rect x="327.74" y="728.1" width="1.23" height="11.2"/><rect x="329.27" y="727.1" width="1.23" height="12.2"/><rect x="330.79" y="706.7" width="1.23" height="32.6"/><rect x="332.32" y="707.2" width="1.23" height="32.1"/><rect x="333.85" y="712.4" width="1.23" height="26.9"/><rect x="335.38" y="719" width="1.23" height="20.3"/><rect x="336.91" y="725.3" width="1.23" height="14"/><rect x="338.43" y="726.6" width="1.23" height="12.7"/><rect x="339.96" y="728.7" width="1.23" height="10.6"/><rect x="341.49" y="725" width="1.23" height="14.3"/><rect x="343.02" y="723.2" width="1.23" height="16.1"/><rect x="344.55" y="714" width="1.23" height="25.3"/><rect x="346.07" y="721.6" width="1.23" height="17.7"/><rect x="347.6" y="721.9" width="1.23" height="17.4"/><rect x="349.13" y="712.4" width="1.23" height="26.9"/><rect x="350.66" y="716.1" width="1.23" height="23.2"/><rect x="352.19" y="723.4" width="1.23" height="15.9"/><rect x="353.71" y="732.8" width="1.23" height="6.5"/><rect x="355.24" y="729.5" width="1.23" height="9.8"/><rect x="356.77" y="729.2" width="1.23" height="10.1"/><rect x="358.3" y="725" width="1.23" height="14.3"/><rect x="359.83" y="725" width="1.23" height="14.3"/><rect x="361.35" y="734.1" width="1.23" height="5.2"/><rect x="362.88" y="734.1" width="1.23" height="5.2"/><rect x="364.41" y="736" width="1.23" height="3.3"/><rect x="365.94" y="735" width="1.23" height="4.3"/><rect x="367.47" y="728.1" width="1.23" height="11.2"/><rect x="368.99" y="724.3" width="1.23" height="15"/><rect x="370.52" y="715.9" width="1.23" height="23.4"/><rect x="372.05" y="713.2" width="1.23" height="26.1"/><rect x="373.58" y="714" width="1.23" height="25.3"/><rect x="375.11" y="726.1" width="1.23" height="13.2"/><rect x="376.63" y="731.3" width="1.23" height="8"/><rect x="378.16" y="732.9" width="1.23" height="6.4"/><rect x="379.69" y="731.7" width="1.23" height="7.6"/><rect x="381.22" y="731.9" width="1.23" height="7.4"/><rect x="382.75" y="734" width="1.23" height="5.3"/><rect x="384.27" y="735.8" width="1.23" height="3.5"/><rect x="385.8" y="734.5" width="1.23" height="4.8"/><rect x="387.33" y="736.5" width="1.23" height="2.8"/><rect x="388.86" y="733.4" width="1.23" height="5.9"/><rect x="390.39" y="734.1" width="1.23" height="5.2"/><rect x="391.91" y="732.7" width="1.23" height="6.6"/><rect x="393.44" y="730.8" width="1.23" height="8.5"/><rect x="394.97" y="735.8" width="1.23" height="3.5"/><rect x="396.5" y="735.5" width="1.23" height="3.8"/><rect x="398.03" y="731.3" width="1.23" height="8"/><rect x="399.55" y="730.6" width="1.23" height="8.7"/><rect x="401.08" y="724.3" width="1.23" height="15"/><rect x="402.61" y="721.1" width="1.23" height="18.2"/><rect x="404.14" y="704" width="1.23" height="35.3"/><rect x="405.67" y="702.7" width="1.23" height="36.6"/><rect x="407.19" y="715.3" width="1.23" height="24"/><rect x="408.72" y="719.1" width="1.23" height="20.2"/><rect x="410.25" y="694.6" width="1.23" height="44.7"/><rect x="411.78" y="695.7" width="1.23" height="43.6"/><rect x="413.31" y="700.4" width="1.23" height="38.9"/><rect x="414.83" y="708.3" width="1.23" height="31"/><rect x="416.36" y="706.1" width="1.23" height="33.2"/><rect x="417.89" y="728.5" width="1.23" height="10.8"/><rect x="419.42" y="732.7" width="1.23" height="6.6"/><rect x="420.95" y="733.9" width="1.23" height="5.4"/><rect x="422.47" y="716.6" width="1.23" height="22.7"/><rect x="424" y="711.4" width="1.23" height="27.9"/><rect x="425.53" y="718.7" width="1.23" height="20.6"/><rect x="427.06" y="718.7" width="1.23" height="20.6"/><rect x="428.59" y="720.8" width="1.23" height="18.5"/><rect x="430.11" y="717.7" width="1.23" height="21.6"/><rect x="431.64" y="727.1" width="1.23" height="12.2"/><rect x="433.17" y="727.6" width="1.23" height="11.7"/><rect x="434.7" y="730.2" width="1.23" height="9.1"/><rect x="436.23" y="728.1" width="1.23" height="11.2"/><rect x="437.75" y="730.2" width="1.23" height="9.1"/><rect x="439.28" y="725.5" width="1.23" height="13.8"/><rect x="440.81" y="716.1" width="1.23" height="23.2"/><rect x="442.34" y="705.8" width="1.23" height="33.5"/><rect x="443.87" y="709.3" width="1.23" height="30"/><rect x="445.39" y="710.9" width="1.23" height="28.4"/><rect x="446.92" y="710.3" width="1.23" height="29"/><rect x="448.45" y="695.3" width="1.23" height="44"/><rect x="449.98" y="709.7" width="1.23" height="29.6"/><rect x="451.51" y="711.4" width="1.23" height="27.9"/><rect x="453.03" y="725.3" width="1.23" height="14"/><rect x="454.56" y="725.3" width="1.23" height="14"/><rect x="456.09" y="729.5" width="1.23" height="9.8"/><rect x="457.62" y="733.4" width="1.23" height="5.9"/><rect x="459.15" y="729.2" width="1.23" height="10.1"/><rect x="460.67" y="733.9" width="1.23" height="5.4"/><rect x="462.2" y="732.9" width="1.23" height="6.4"/><rect x="463.73" y="731" width="1.23" height="8.3"/><rect x="465.26" y="731.8" width="1.23" height="7.5"/><rect x="466.79" y="723.4" width="1.23" height="15.9"/><rect x="468.31" y="720.5" width="1.23" height="18.8"/><rect x="469.84" y="713.2" width="1.23" height="26.1"/><rect x="471.37" y="707.5" width="1.23" height="31.8"/><rect x="472.9" y="708.3" width="1.23" height="31"/><rect x="474.43" y="712.4" width="1.23" height="26.9"/><rect x="475.95" y="714" width="1.23" height="25.3"/><rect x="477.48" y="704" width="1.23" height="35.3"/><rect x="479.01" y="717.1" width="1.23" height="22.2"/><rect x="480.54" y="716.3" width="1.23" height="23"/><rect x="482.07" y="722.4" width="1.23" height="16.9"/><rect x="483.59" y="717.1" width="1.23" height="22.2"/><rect x="485.12" y="717.4" width="1.23" height="21.9"/><rect x="486.65" y="729.5" width="1.23" height="9.8"/><rect x="488.18" y="728.9" width="1.23" height="10.4"/><rect x="489.71" y="734.1" width="1.23" height="5.2"/><rect x="491.23" y="730.5" width="1.23" height="8.8"/><rect x="492.76" y="734.1" width="1.23" height="5.2"/><rect x="494.29" y="727.5" width="1.23" height="11.8"/><rect x="495.82" y="726.6" width="1.23" height="12.7"/><rect x="497.35" y="729.2" width="1.23" height="10.1"/><rect x="498.87" y="724.3" width="1.23" height="15"/><rect x="500.4" y="721.4" width="1.23" height="17.9"/><rect x="501.93" y="725" width="1.23" height="14.3"/><rect x="503.46" y="724.3" width="1.23" height="15"/><rect x="504.99" y="723.7" width="1.23" height="15.6"/><rect x="506.51" y="732.1" width="1.23" height="7.2"/><rect x="508.04" y="719.5" width="1.23" height="19.8"/><rect x="509.57" y="729.2" width="1.23" height="10.1"/><rect x="511.1" y="734.1" width="1.23" height="5.2"/><rect x="512.63" y="732.7" width="1.23" height="6.6"/><rect x="514.15" y="732.1" width="1.23" height="7.2"/><rect x="515.68" y="726.4" width="1.23" height="12.9"/><rect x="517.21" y="727.5" width="1.23" height="11.8"/><rect x="518.74" y="736.2" width="1.23" height="3.1"/><rect x="520.27" y="732.9" width="1.23" height="6.4"/><rect x="521.79" y="732.4" width="1.23" height="6.9"/><rect x="523.32" y="731.3" width="1.23" height="8"/><rect x="524.85" y="732.7" width="1.23" height="6.6"/><rect x="526.38" y="731.9" width="1.23" height="7.4"/><rect x="527.91" y="730.8" width="1.23" height="8.5"/><rect x="529.43" y="725" width="1.23" height="14.3"/><rect x="530.96" y="723.2" width="1.23" height="16.1"/><rect x="532.49" y="726.1" width="1.23" height="13.2"/><rect x="534.02" y="712.4" width="1.23" height="26.9"/><rect x="535.55" y="697.5" width="1.23" height="41.8"/><rect x="537.07" y="698.3" width="1.23" height="41"/><rect x="538.6" y="713.2" width="1.23" height="26.1"/><rect x="540.13" y="717.1" width="1.23" height="22.2"/><rect x="541.66" y="724" width="1.23" height="15.3"/><rect x="543.19" y="724.3" width="1.23" height="15"/><rect x="544.71" y="707.2" width="1.23" height="32.1"/><rect x="546.24" y="711.1" width="1.23" height="28.2"/><rect x="547.77" y="692.2" width="1.23" height="47.1"/><rect x="552.35" y="702.5" width="1.23" height="36.8"/><rect x="553.88" y="710.3" width="1.23" height="29"/><rect x="555.41" y="728.1" width="1.23" height="11.2"/><rect x="556.94" y="729.9" width="1.23" height="9.4"/><rect x="558.47" y="729.5" width="1.23" height="9.8"/><rect x="559.99" y="728.5" width="1.23" height="10.8"/><rect x="561.52" y="732.9" width="1.23" height="6.4"/><rect x="563.05" y="733.4" width="1.23" height="5.9"/><rect x="564.58" y="733.4" width="1.23" height="5.9"/><rect x="566.11" y="736.2" width="1.23" height="3.1"/><rect x="567.63" y="735.8" width="1.23" height="3.5"/><rect x="569.16" y="727.1" width="1.23" height="12.2"/><rect x="570.69" y="734.1" width="1.23" height="5.2"/><rect x="572.22" y="731.9" width="1.23" height="7.4"/><rect x="573.75" y="718.4" width="1.23" height="20.9"/><rect x="575.27" y="725" width="1.23" height="14.3"/><rect x="576.8" y="725.3" width="1.23" height="14"/><rect x="578.33" y="716.6" width="1.23" height="22.7"/><rect x="579.86" y="725" width="1.23" height="14.3"/><rect x="581.39" y="720.5" width="1.23" height="18.8"/><rect x="582.91" y="717.4" width="1.23" height="21.9"/><rect x="584.44" y="717.7" width="1.23" height="21.6"/><rect x="585.97" y="722.2" width="1.23" height="17.1"/><rect x="587.5" y="721.6" width="1.23" height="17.7"/><rect x="589.03" y="715.3" width="1.23" height="24"/><rect x="590.55" y="716.1" width="1.23" height="23.2"/><rect x="592.08" y="718.4" width="1.23" height="20.9"/><rect x="593.61" y="716.9" width="1.23" height="22.4"/><rect x="595.14" y="713.2" width="1.23" height="26.1"/><rect x="596.67" y="708.6" width="1.23" height="30.7"/><rect x="598.19" y="716.1" width="1.23" height="23.2"/><rect x="599.72" y="711.4" width="1.23" height="27.9"/><rect x="601.25" y="709.7" width="1.23" height="29.6"/><rect x="602.78" y="721.9" width="1.23" height="17.4"/><rect x="604.31" y="726.8" width="1.23" height="12.5"/><rect x="605.83" y="730.6" width="1.23" height="8.7"/><rect x="607.36" y="735.5" width="1.23" height="3.8"/><rect x="608.89" y="730.2" width="1.23" height="9.1"/><rect x="610.42" y="728.1" width="1.23" height="11.2"/><rect x="611.95" y="727.5" width="1.23" height="11.8"/><rect x="613.47" y="718.1" width="1.23" height="21.2"/><rect x="615" y="708" width="1.23" height="31.3"/><rect x="616.53" y="709.1" width="1.23" height="30.2"/><rect x="618.06" y="697" width="1.23" height="42.3"/><rect x="619.59" y="706.8" width="1.23" height="32.5"/><rect x="621.11" y="710.7" width="1.23" height="28.6"/><rect x="622.64" y="696.1" width="1.23" height="43.2"/><rect x="650.15" y="698.1" width="1.23" height="41.2"/><rect x="651.67" y="706.4" width="1.23" height="32.9"/><rect x="653.2" y="721.2" width="1.23" height="18.1"/><rect x="654.73" y="728" width="1.23" height="11.3"/><rect x="656.26" y="723.3" width="1.23" height="16"/><rect x="657.79" y="718.1" width="1.23" height="21.2"/><rect x="659.31" y="716.2" width="1.23" height="23.1"/><rect x="660.84" y="718.5" width="1.23" height="20.8"/><rect x="662.37" y="718.1" width="1.23" height="21.2"/><rect x="663.9" y="726.4" width="1.23" height="12.9"/><rect x="665.43" y="706.8" width="1.23" height="32.5"/><rect x="666.95" y="706.8" width="1.23" height="32.5"/><rect x="668.48" y="701.7" width="1.23" height="37.6"/></g>
<g fill="#d6d63a" stroke="#8c8c1e" stroke-width="0.35"><rect x="156.6" y="680.5" width="1.23" height="58.8"/><rect x="184.11" y="688" width="1.23" height="51.3"/><rect x="187.16" y="678.2" width="1.23" height="61.1"/><rect x="205.5" y="691.5" width="1.23" height="47.8"/><rect x="226.89" y="684.2" width="1.23" height="55.1"/><rect x="549.3" y="692.6" width="1.23" height="46.7"/><rect x="550.83" y="683.1" width="1.23" height="56.2"/><rect x="647.09" y="673.7" width="1.23" height="65.6"/><rect x="648.62" y="688.2" width="1.23" height="51.1"/><rect x="670.01" y="679.3" width="1.23" height="60"/><rect x="671.54" y="675.6" width="1.23" height="63.7"/><rect x="673.07" y="682.4" width="1.23" height="56.9"/></g>
<g fill="#c8000a" stroke="#8a0000" stroke-width="0.35"><rect x="624.17" y="658.8" width="1.23" height="80.5"/><rect x="625.7" y="637.3" width="1.23" height="102"/><rect x="644.03" y="631" width="1.23" height="108.3"/><rect x="645.56" y="669.8" width="1.23" height="69.5"/><rect x="674.59" y="649.8" width="1.23" height="89.5"/><rect x="676.12" y="656.1" width="1.23" height="83.2"/><rect x="677.65" y="630.5" width="1.23" height="108.8"/><rect x="679.18" y="630.5" width="1.23" height="108.8"/></g>
</svg>
<line x1="95.3" y1="669.7" x2="678.8" y2="669.7" stroke="#6a6a6a" stroke-width="0.8"/>
<line x1="95.3" y1="692.6" x2="678.8" y2="692.6" stroke="#6a6a6a" stroke-width="0.8"/>
<rect x="95.3" y="629.9" width="583.5" height="109.4" fill="none" stroke="#7a7a7a" stroke-width="0.8"/>
<line x1="108.32" y1="739.3" x2="108.32" y2="740.8" stroke="#555" stroke-width="0.5"/>
<text x="123.2" y="747" font-family="'Liberation Sans', Arial, sans-serif" font-size="8.2" fill="#333" text-anchor="middle" font-weight="normal" >80</text>
<line x1="123.6" y1="739.3" x2="123.6" y2="740.8" stroke="#555" stroke-width="0.5"/>
<line x1="138.88" y1="739.3" x2="138.88" y2="740.8" stroke="#555" stroke-width="0.5"/>
<text x="156.6" y="747" font-family="'Liberation Sans', Arial, sans-serif" font-size="8.2" fill="#333" text-anchor="middle" font-weight="normal" >100</text>
<line x1="154.16" y1="739.3" x2="154.16" y2="740.8" stroke="#555" stroke-width="0.5"/>
<line x1="169.44" y1="739.3" x2="169.44" y2="740.8" stroke="#555" stroke-width="0.5"/>
<text x="186.88" y="747" font-family="'Liberation Sans', Arial, sans-serif" font-size="8.2" fill="#333" text-anchor="middle" font-weight="normal" >120</text>
<line x1="184.72" y1="739.3" x2="184.72" y2="740.8" stroke="#555" stroke-width="0.5"/>
<line x1="200" y1="739.3" x2="200" y2="740.8" stroke="#555" stroke-width="0.5"/>
<text x="217.16" y="747" font-family="'Liberation Sans', Arial, sans-serif" font-size="8.2" fill="#333" text-anchor="middle" font-weight="normal" >140</text>
<line x1="215.28" y1="739.3" x2="215.28" y2="740.8" stroke="#555" stroke-width="0.5"/>
<line x1="230.56" y1="739.3" x2="230.56" y2="740.8" stroke="#555" stroke-width="0.5"/>
<text x="247.44" y="747" font-family="'Liberation Sans', Arial, sans-serif" font-size="8.2" fill="#333" text-anchor="middle" font-weight="normal" >160</text>
<line x1="245.84" y1="739.3" x2="245.84" y2="740.8" stroke="#555" stroke-width="0.5"/>
<line x1="261.12" y1="739.3" x2="261.12" y2="740.8" stroke="#555" stroke-width="0.5"/>
<text x="277.72" y="747" font-family="'Liberation Sans', Arial, sans-serif" font-size="8.2" fill="#333" text-anchor="middle" font-weight="normal" >180</text>
<line x1="276.4" y1="739.3" x2="276.4" y2="740.8" stroke="#555" stroke-width="0.5"/>
<line x1="291.68" y1="739.3" x2="291.68" y2="740.8" stroke="#555" stroke-width="0.5"/>
<text x="308" y="747" font-family="'Liberation Sans', Arial, sans-serif" font-size="8.2" fill="#333" text-anchor="middle" font-weight="normal" >200</text>
<line x1="306.96" y1="739.3" x2="306.96" y2="740.8" stroke="#555" stroke-width="0.5"/>
<line x1="322.24" y1="739.3" x2="322.24" y2="740.8" stroke="#555" stroke-width="0.5"/>
<text x="338.28" y="747" font-family="'Liberation Sans', Arial, sans-serif" font-size="8.2" fill="#333" text-anchor="middle" font-weight="normal" >220</text>
<line x1="337.52" y1="739.3" x2="337.52" y2="740.8" stroke="#555" stroke-width="0.5"/>
<line x1="352.8" y1="739.3" x2="352.8" y2="740.8" stroke="#555" stroke-width="0.5"/>
<text x="368.56" y="747" font-family="'Liberation Sans', Arial, sans-serif" font-size="8.2" fill="#333" text-anchor="middle" font-weight="normal" >240</text>
<line x1="368.08" y1="739.3" x2="368.08" y2="740.8" stroke="#555" stroke-width="0.5"/>
<line x1="383.36" y1="739.3" x2="383.36" y2="740.8" stroke="#555" stroke-width="0.5"/>
<text x="398.84" y="747" font-family="'Liberation Sans', Arial, sans-serif" font-size="8.2" fill="#333" text-anchor="middle" font-weight="normal" >260</text>
<line x1="398.64" y1="739.3" x2="398.64" y2="740.8" stroke="#555" stroke-width="0.5"/>
<line x1="413.92" y1="739.3" x2="413.92" y2="740.8" stroke="#555" stroke-width="0.5"/>
<text x="429.12" y="747" font-family="'Liberation Sans', Arial, sans-serif" font-size="8.2" fill="#333" text-anchor="middle" font-weight="normal" >280</text>
<line x1="429.2" y1="739.3" x2="429.2" y2="740.8" stroke="#555" stroke-width="0.5"/>
<line x1="444.48" y1="739.3" x2="444.48" y2="740.8" stroke="#555" stroke-width="0.5"/>
<text x="459.4" y="747" font-family="'Liberation Sans', Arial, sans-serif" font-size="8.2" fill="#333" text-anchor="middle" font-weight="normal" >300</text>
<line x1="459.76" y1="739.3" x2="459.76" y2="740.8" stroke="#555" stroke-width="0.5"/>
<line x1="475.04" y1="739.3" x2="475.04" y2="740.8" stroke="#555" stroke-width="0.5"/>
<text x="489.68" y="747" font-family="'Liberation Sans', Arial, sans-serif" font-size="8.2" fill="#333" text-anchor="middle" font-weight="normal" >320</text>
<line x1="490.32" y1="739.3" x2="490.32" y2="740.8" stroke="#555" stroke-width="0.5"/>
<line x1="505.6" y1="739.3" x2="505.6" y2="740.8" stroke="#555" stroke-width="0.5"/>
<text x="519.96" y="747" font-family="'Liberation Sans', Arial, sans-serif" font-size="8.2" fill="#333" text-anchor="middle" font-weight="normal" >340</text>
<line x1="520.88" y1="739.3" x2="520.88" y2="740.8" stroke="#555" stroke-width="0.5"/>
<line x1="536.16" y1="739.3" x2="536.16" y2="740.8" stroke="#555" stroke-width="0.5"/>
<text x="550.24" y="747" font-family="'Liberation Sans', Arial, sans-serif" font-size="8.2" fill="#333" text-anchor="middle" font-weight="normal" >360</text>
<line x1="551.44" y1="739.3" x2="551.44" y2="740.8" stroke="#555" stroke-width="0.5"/>
<line x1="566.72" y1="739.3" x2="566.72" y2="740.8" stroke="#555" stroke-width="0.5"/>
<text x="580.52" y="747" font-family="'Liberation Sans', Arial, sans-serif" font-size="8.2" fill="#333" text-anchor="middle" font-weight="normal" >380</text>
<line x1="582" y1="739.3" x2="582" y2="740.8" stroke="#555" stroke-width="0.5"/>
<line x1="597.28" y1="739.3" x2="597.28" y2="740.8" stroke="#555" stroke-width="0.5"/>
<text x="610.8" y="747" font-family="'Liberation Sans', Arial, sans-serif" font-size="8.2" fill="#333" text-anchor="middle" font-weight="normal" >400</text>
<line x1="612.56" y1="739.3" x2="612.56" y2="740.8" stroke="#555" stroke-width="0.5"/>
<line x1="627.84" y1="739.3" x2="627.84" y2="740.8" stroke="#555" stroke-width="0.5"/>
<text x="641.08" y="747" font-family="'Liberation Sans', Arial, sans-serif" font-size="8.2" fill="#333" text-anchor="middle" font-weight="normal" >420</text>
<line x1="643.12" y1="739.3" x2="643.12" y2="740.8" stroke="#555" stroke-width="0.5"/>
<line x1="658.4" y1="739.3" x2="658.4" y2="740.8" stroke="#555" stroke-width="0.5"/>
<text x="671.36" y="747" font-family="'Liberation Sans', Arial, sans-serif" font-size="8.2" fill="#333" text-anchor="middle" font-weight="normal" >440</text>
<line x1="673.68" y1="739.3" x2="673.68" y2="740.8" stroke="#555" stroke-width="0.5"/>
<text x="93" y="672.47" font-family="'Liberation Sans', Arial, sans-serif" font-size="7.7" fill="#333" text-anchor="end" font-weight="normal" >99%</text>
<text x="93" y="695.37" font-family="'Liberation Sans', Arial, sans-serif" font-size="7.7" fill="#333" text-anchor="end" font-weight="normal" >95%</text>
<text x="76.2" y="678" font-family="'Liberation Sans', Arial, sans-serif" font-size="9.1" fill="#222" text-anchor="middle" transform="rotate(-90 76.2 678)">Error value<tspan font-size="5.6" dy="-3.5">*</tspan></text>
<text x="427.8" y="757" font-family="'Liberation Sans', Arial, sans-serif" font-size="9.2" fill="#222" text-anchor="middle" font-weight="normal" >Residue # (window center)</text>
</svg>
</body></html>
